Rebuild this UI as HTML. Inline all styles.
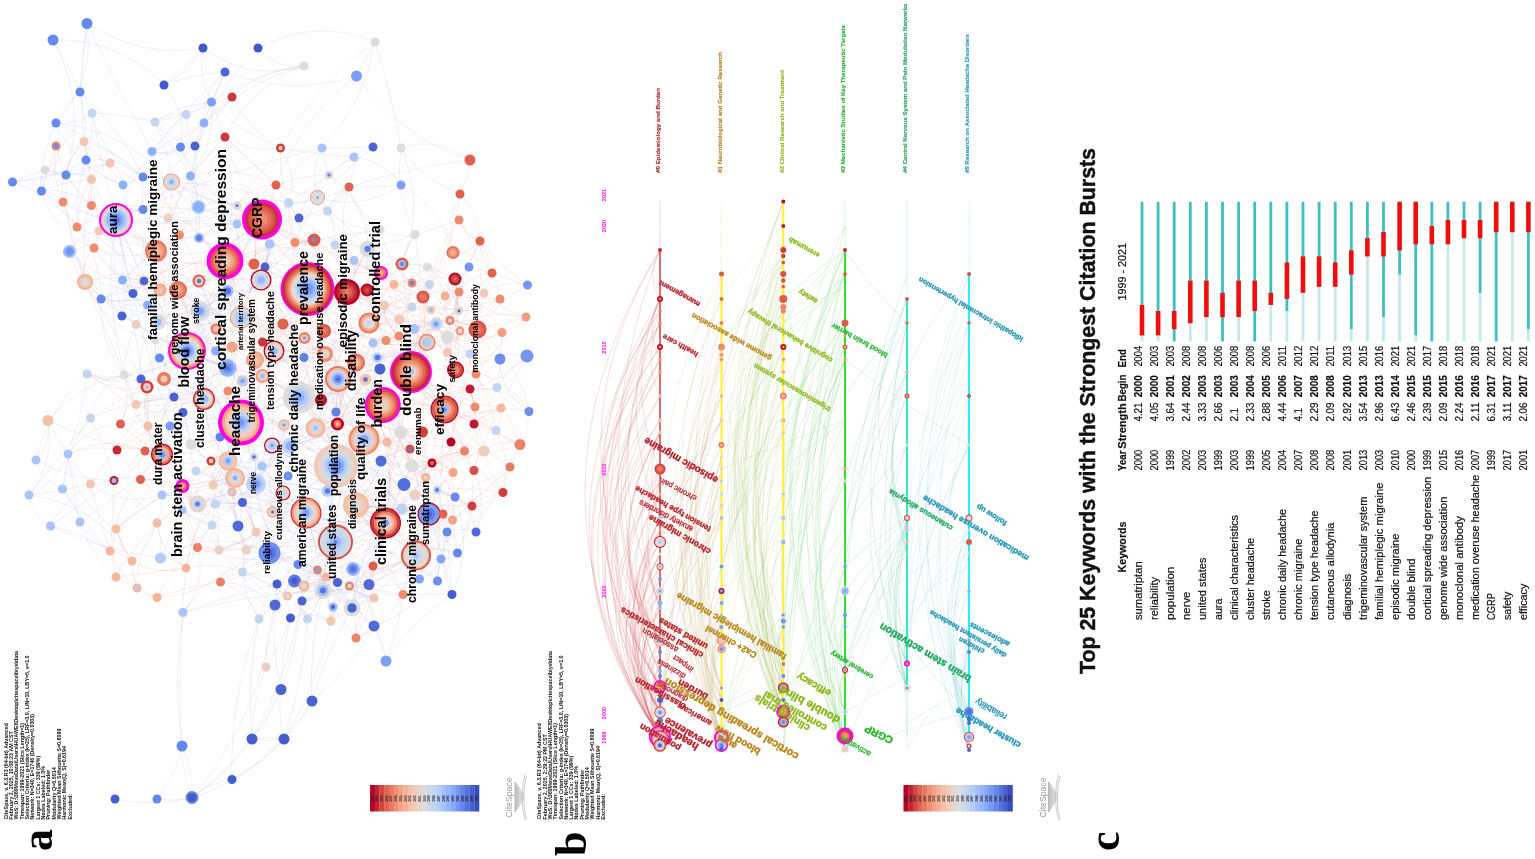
<!DOCTYPE html><html><head><meta charset="utf-8"><title>Figure</title><style>html,body{margin:0;padding:0;background:#fff}body{width:1535px;height:859px;overflow:hidden}</style></head><body><svg width="1535" height="859" viewBox="0 0 1535 859" style="display:block;font-family:'Liberation Sans',sans-serif">
<rect width="1535" height="859" fill="#fff"/>
<g fill="none" stroke-width="0.8">
<path stroke="#8f9be0" stroke-opacity="0.19" d="M87 23.5Q77.2 91.7 86 160M87 23.5Q95.3 80.7 56 123M87 23.5Q117.5 88.5 152 151.5M53 40Q87.9 104.8 66 175M53 40Q68.4 65 80 92M53 40Q118.5 37.9 164 85M203 48Q197.4 76.6 211.5 102M203 48Q140.2 58.4 87 23.5M203 48Q189.2 72.5 164 85M258 48Q276.2 69.3 304 66M258 48Q315.1 17.1 375 42M258 48Q204.7 101.7 190.5 176M225 72Q208.3 108.3 195 146M225 72Q185.3 108.9 152 151.5M225 72Q212.8 96.8 204 123M164 85Q193.6 74.1 225 72M164 85Q184.5 67.5 203 48M164 85Q187.4 112 180.5 147M80 92Q64.9 105.1 56 123M80 92Q80.7 57.5 87 23.5M80 92Q120.3 127.9 143 177M211.5 102Q196.1 102.9 186 114.5M211.5 102Q180.7 104.7 155 122M211.5 102Q253.5 73 304 66M92 113Q75.9 124.8 56 123M92 113Q93.2 137 86 160M92 113Q102 157.4 143 177M186 114.5Q155.2 139.4 143 177M186 114.5Q199.3 109.3 211.5 102M186 114.5Q168.9 111.7 155 122M155 122Q124 114.2 92 113M155 122Q174.1 148.1 190.5 176M204 123Q197 133.5 195 146M204 123Q202.1 92.4 225 72M204 123Q190.4 164.3 198.5 207M56 123Q40.5 155.2 41.5 191M56 123Q76.1 168.5 123 185M56 123Q104.1 142.5 143 177M84 141.5Q106 161 123 185M56 146Q47.5 168.1 41.5 191M180.5 147Q192.8 191.6 237 205.5M180.5 147Q158.7 158.2 143 177M195 146Q170.6 141.3 155 122M195 146Q185.8 131.6 186 114.5M195 146Q197.2 161.7 190.5 176M280.5 148Q240.4 133.4 211.5 102M152 151.5Q177.3 136 204 123M152 151.5Q174.6 157.7 195 146M152 151.5Q167.4 156.5 180.5 147M86 160Q96.5 194.8 99 231M86 160Q118.3 155.8 143 177M86 160Q88.1 125.5 80 92M110 163Q88.4 170.5 66 175M110 163Q121.3 171.2 123 185M45 170Q55.3 173.3 66 175M45 170Q28.5 175.3 12.5 182M45 170Q38 179.6 41.5 191M66 175Q55.8 171.2 45 170M66 175Q79.6 172.2 91.5 179.5M66 175Q70.4 155.8 84 141.5M190.5 176Q215.5 143.1 211.5 102M190.5 176Q200.5 212.8 237 224M143 177Q173.9 186.2 198.5 207M143 177Q172.8 198.7 179.5 235M143 177Q118.5 151 84 141.5M171.5 182Q231.7 184.1 289 203M171.5 182Q201.7 200.7 237 205.5M171.5 182Q134.8 225.1 144 281M171.5 182Q207.6 236.3 265 267M171.5 182Q227.4 202.5 270 244M171.5 182Q168.1 150.7 155 122M171.5 182Q158.2 174 143 177M171.5 182Q143.4 200.4 116 220M171.5 182Q125.2 130.1 56 123M91.5 179.5Q65.6 181.4 41.5 191M91.5 179.5Q101.2 201.3 116 220M12.5 182Q52.2 180.9 86 160M12.5 182Q51.6 194.6 77 227M12.5 182Q61.4 173.5 110 163M123 185Q96.1 170.7 66 175M123 185Q132.9 180.7 143 177M123 185Q145.2 156.1 180.5 147M41.5 191Q66.1 160.7 56 123M41.5 191Q72.1 215.5 94 248M41.5 191Q54.5 144.1 92 113M63 202Q54.1 192.9 41.5 191M91.5 205.5Q69.7 187.4 41.5 191M91.5 205.5Q77.6 191.2 66 175M198.5 207Q217.5 198.7 237 205.5M198.5 207Q190.7 188.4 171.5 182M198.5 207Q193.4 222.6 199 238M237 205.5Q224.3 229.1 199 238M143 209.5Q141.8 193.2 143 177M143 209.5Q106.4 204.5 77 227M143 209.5Q162.3 201 171.5 182M375 42Q364.3 102.9 322 148M375 42Q365.7 59 356.5 76M304 66Q249.1 81.8 203 48M304 66Q246.7 81.7 204 123M356.5 76Q290.1 96.7 225 72M322 148Q309.4 171.8 317.5 197.5M322 148Q323.9 161.9 329 175M373 147Q347.5 148.3 322 148M373 147Q347.5 155.5 329 175M373 147Q333.8 180.2 299 218M401 148Q425.8 205.8 402 264M354 157Q354.6 190.8 327.5 211M354 157Q383.8 160.4 401 185M329 175Q308.6 188.8 288.5 203M329 175Q306.6 191.3 299 218M329 175Q354.3 202.5 380 229.5M349 187Q329.2 210.8 299 218M401 185Q441.3 207.7 453 252.5M401 185Q362.2 211.2 317.5 197.5M317.5 197.5Q303.8 204.3 288.5 203M317.5 197.5Q327.5 169.8 354 157M317.5 197.5Q343.4 222.3 367.5 249M77 227Q108.4 212.3 143 209.5M77 227Q101.3 258.9 101 299M77 227Q74.7 192.6 86 160M99 231Q124 249.2 122.5 280M94 248Q113.2 271 133 293.5M94 248Q53.8 232.3 41.5 191M69.5 251.5Q91.5 271.1 101 299M69.5 251.5Q79 233.6 99 231M69.5 251.5Q72.5 269.2 85 282M168 218Q141.6 208.8 116 220M168 218Q205.6 229 237 205.5M199 238Q201.7 206 190.5 176M199 238Q214.8 222.3 237 224M156 251Q138.4 264.5 122.5 280M156 251Q150.1 230.1 143 209.5M156 251Q174.7 235.1 199 238M237 224Q218 214.8 198.5 207M237 224Q212.3 201.4 190.5 176M269.5 244Q259.1 260.6 261 280M269.5 244Q292.9 254.3 314 240M265 267Q272.3 242.7 262 219.5M265 267Q247.2 289.5 241 317.5M265 267Q244.4 276.1 227.5 291M261 280Q271.8 240.4 288.5 203M261 280Q230.5 248.7 237 205.5M261 280Q268.6 262.8 269.5 244M261 280Q266.4 274.6 265 267M261 280Q267.5 262.5 270 244M261 280Q220.1 326.9 158 322M261 280Q236 306.2 200 311M85 282Q64.1 230.5 66 175M85 282Q94.4 289.2 101 299M85 282Q132.7 281.6 158 322M122.5 280Q137.6 263.6 156 251M122.5 280Q116.6 295 101 299M122.5 280Q131.9 298.1 122 316M144 281Q121.6 287.9 101 299M144 281Q150.3 301.7 158 322M144 281Q133.4 277.5 122.5 280M199 281Q165 282 133 293.5M160 290Q153.2 283.4 144 281M160 290Q193.6 302.3 227.5 291M160 290Q132.3 306.4 101 299M133 293.5Q127.7 286.8 122.5 280M133 293.5Q135 284.2 144 281M133 293.5Q140.7 311.9 158 322M101 299Q140.7 305.1 178 290M101 299Q111.5 289.2 122.5 280M101 299Q99.3 341 124 375M227.5 291Q202.6 298 178 290M227.5 291Q248.3 282.1 265 267M227.5 291Q222.6 310.3 216 329M147.5 305Q164.2 280 156 251M147.5 305Q154.8 312.2 158 322M147.5 305Q110.4 309.4 85 282M122 316Q140.8 325.1 155 340.5M122 316Q112.9 305.7 101 299M122 316Q126.1 298.1 122.5 280M200 311Q242 285 269.5 244M200 311Q224.9 349.6 262.5 376M200 311Q213.4 300.5 227.5 291M200 311Q245.5 315.2 274 351M200 311Q237.3 308.9 261 280M200 311Q148.5 321.7 101 299M200 311Q197 335.2 215.5 351M241 317.5Q237.4 378.5 220 437M241 317.5Q238.5 268 199 238M241 317.5Q240.6 301 227.5 291M241 317.5Q221.4 308.6 200 311M241 317.5Q257.3 260.4 299 218M241 317.5Q211.5 330.3 187 351M283 324Q286 345.4 304 357.5M136 324.5Q131.1 316.7 122 316M136 324.5Q144.3 343.6 159.5 358M158 322Q158.8 298.8 144 281M158 322Q202.5 330.2 227.5 368M158 322Q148.1 363.3 174 397M158 322Q200 329.7 241 317.5M158 322Q142.1 310.7 133 293.5M158 322Q190.5 301.5 227.5 291M158 322Q157.6 331.4 155 340.5M155 340.5Q153.9 330.8 158 322M155 340.5Q151.5 322.7 147.5 305M232 347Q233.9 318.7 227.5 291M274 351Q326.5 342.5 377.5 357.5M255 360Q279.4 357.5 304 357.5M255 360Q269.8 404.1 290 446M159.5 358Q142.9 368.8 124 375M159.5 358Q159.7 348.6 155 340.5M159.5 358Q180.1 381.4 183 412.5M215.5 351Q207.7 331 200 311M215.5 351Q207.8 374.5 204 399M215.5 351Q222.8 358.6 227.5 368M227.5 368Q178.9 352.2 136 324.5M227.5 368Q220.4 322.2 199 281M227.5 368Q199.8 330.9 178 290M227.5 368Q185.6 395.9 136 404.5M227.5 368Q245.1 314.1 225 261M227.5 368Q172.1 394.1 162 454.5M227.5 368Q206.8 393.7 174 397M227.5 368Q245.3 370.5 262.5 376M227.5 368Q195 353 159.5 358M227.5 368Q223.5 334.8 200 311M87 374Q82.4 415.2 68 454M87 374Q105.3 383.3 124 375M87 374Q113.1 386.3 141 379M124 375Q159.3 373 187 351M124 375Q124.9 336.4 147.5 305M141 379Q137.8 391.6 136 404.5M141 379Q134.8 346.1 158 322M141 379Q152.5 382.6 164 379M164 379Q167.7 388.7 174 397M262.5 376Q278.1 355.2 304 357.5M262.5 376Q280.3 387.5 299 397.5M242.5 381Q217.2 361.5 187 351M242.5 381Q264.7 372.8 274 351M174 397Q175.2 406.7 183 412.5M174 397Q154.4 397.6 136 404.5M174 397Q153.6 423.1 120.5 424M204 399Q179.9 380.5 159.5 358M204 399Q188.7 403 174 397M204 399Q207.6 455.2 256 484M136 404.5Q155.8 410.8 170 426M299 397.5Q360.4 364 427 342.5M299 397.5Q303.3 331.2 261 280M299 397.5Q336.4 459.2 404 484.5M299 397.5Q267.1 373.4 227.5 368M299 397.5Q237 422.6 213 485M299 397.5Q373.3 384.2 444.5 409.5M299 397.5Q245.1 441.4 215 504M299 397.5Q327.5 371.1 365.5 379.5M299 397.5Q317.2 385.6 338 379M299 397.5Q299 437.5 288 476M299 397.5Q318.9 401.3 336 412M299 397.5Q227.3 431.8 148 426M299 397.5Q225.8 359.2 199 281M299 397.5Q222.4 401.4 147 387M299 397.5Q274.6 474.3 212 525M299 397.5Q381 386 436 324M289 203Q262.6 195.4 237 205.5M299 218Q301.2 230.9 295 242.5M299 218Q294.1 210.3 288.5 203M299 218Q267.6 213.6 237 205.5M270 244Q268.7 218.5 289 203M270 244Q240.5 260.1 227.5 291M314 240Q325.7 237.4 335 245M335 245Q336.9 217.3 317.5 197.5M335 245Q356.1 233.2 380 229.5M335 245Q351.8 242.9 367.5 249M415 234.5Q404.9 247.7 402 264M380 229.5Q386.6 261.9 412 283M380 229.5Q349.9 231 327.5 211M367.5 249Q328.9 243.2 299 218M367.5 249Q426.2 264.6 450 320.5M367.5 249Q363.6 280.8 384 305.5M367.5 249Q368.5 201.5 329 175M367.5 249Q386.8 301.9 377.5 357.5M367.5 249Q338.6 239.3 327.5 211M354 260.5Q380.8 277.4 412 283M354 260.5Q352.8 293.8 369 323M402 264Q415.1 262.3 427.5 267M427.5 267Q451.8 282.9 459 311M469 267Q458.7 282.9 445 296M469 267Q451.9 286.2 459 311M527.5 285Q484.6 307.7 470 354M429.5 284.5Q421.9 296.6 412 307M429.5 284.5Q442.5 299.7 459 311M459 292Q469.8 281.8 469 267M484 293Q503.9 278.9 527.5 285M412 307Q405.8 295 412 283M412 307Q424 298.3 429.5 284.5M459 311Q455 332.2 447.5 352.5M459 311Q435.9 304.8 412 307M369 323Q338.4 343.9 304 357.5M369 323Q385.7 285.6 367.5 249M436 324Q423.6 320.4 414 329M436 324Q443.5 324.1 450 320.5M436 324Q439.5 332.5 447.5 337M414 329Q433 337.6 447.5 352.5M414 329Q423.8 321.3 436 324M414 329Q437.3 323 460 331M447.5 337Q444.8 320.1 431 310M427 342.5Q400 346.9 373 343M427 342.5Q420.4 335.8 414 329M427 342.5Q435.1 318.8 459 311M373 343Q377.5 362.9 365.5 379.5M373 343Q400 333.1 412 307M304 357.5Q278.4 355.9 262.5 376M304 357.5Q333.5 376.8 336 412M304 357.5Q341.1 362.6 373 343M325 354Q331 408.9 290 446M325 354Q373.4 312.7 436 324M470 354Q445.7 347.3 436 324M470 354Q459.9 343.9 447.5 337M377.5 357.5Q377.2 363.6 380 369M377.5 357.5Q402 349 427 342.5M500 359Q499.9 393.3 529 411.5M527 356Q508.3 368.2 497 387.5M527 356Q512.4 381.2 501 408M356 362.5Q335.5 383 336 412M380 369Q378.4 404.7 401 432.5M380 369Q389 337.7 384 305.5M338 379Q404.4 419.4 437 490M338 379Q355.8 364.6 377.5 357.5M338 379Q285.4 347.1 227.5 368M338 379Q310.9 367 304.5 338M338 379Q324.3 422.2 336 466M338 379Q357.2 420.2 401 432.5M338 379Q355.1 451.3 402 509M338 379Q324 402.2 315.5 428M338 379Q337.4 395.5 336 412M338 379Q292.1 317.4 269.5 244M338 379Q314.2 314.7 265 267M338 379Q361.3 366.7 373 343M338 379Q324.6 307.6 367.5 249M338 379Q327.1 309.3 314 240M338 379Q320 427.1 272 445.5M365.5 379.5Q356.7 401.2 336 412M365.5 379.5Q365.4 365.1 377.5 357.5M497 387.5Q506.9 407.7 529 411.5M444.5 409.5Q361.8 404.7 290 446M444.5 409.5Q440.6 335.5 469 267M444.5 409.5Q439.1 495.2 437.5 581M444.5 409.5Q418.9 365.3 373 343M444.5 409.5Q474.5 386.7 500 359M444.5 409.5Q412.4 375.6 414 329M529 411.5Q527 441.8 510 467M336 412Q316.6 407.1 299 397.5M336 412Q345.9 396 338 379M336 412Q356.1 400.6 365.5 379.5M48 420.5Q54.9 461.9 29 495M90.5 418Q96 387.8 124 375M90.5 418Q64.9 448.9 62.5 489M120.5 424Q129.8 401.1 141 379M120.5 424Q149.4 405.7 183 412.5M148 426Q159 425.1 170 426M170 426Q187 447.6 211 461M170 426Q189.1 415.2 204 399M183 412.5Q210.3 411.7 228 391M183 412.5Q178.6 436.5 162 454.5M183 412.5Q188.8 428.1 191 444.5M191 444.5Q186.7 428.6 183 412.5M191 444.5Q220.4 443.5 241 422.5M220 437Q240 412.5 242.5 381M220 437Q209.6 419 204 399M220 437Q216.8 461 213 485M145 451Q164.9 432.6 183 412.5M162 454.5Q124.4 492.4 80 522M162 454.5Q168.9 441.1 170 426M68 454Q74.6 502.7 116 529M36 460Q48.2 409.1 87 374M36 460Q72.2 480.8 114 480.5M36 460Q51.7 443.2 48 420.5M211 461Q189.8 444.4 170 426M228 461Q245 414.4 227.5 368M228 461Q214.4 480.4 215 504M228 461Q280.9 468.8 315.5 428M228 461Q275.2 484.3 327.5 491M272 445.5Q263.7 410.3 242.5 381M272 445.5Q222.5 422.3 174 397M272 445.5Q304.3 462.7 327.5 491M272 445.5Q267.7 478.8 272.5 512M284 425Q298.1 414.9 299 397.5M284 425Q312.6 428.8 336 412M284 425Q261.9 434.4 241 422.5M290 446Q341.9 409.6 401 432.5M290 446Q256 402.9 274 351M290 446Q353.1 428.6 380 369M290 446Q261.3 470.1 242.5 502.5M290 446Q251.9 487.9 197.5 504M290 446Q317.5 445.7 336 466M290 446Q255.3 410 255 360M290 446Q326 431.7 364 439.5M290 446Q321.7 405.4 325 354M290 446Q338.2 435.7 387 442M254 457Q241.1 464.4 235 478M254 457Q270 444.8 290 446M254 457Q260.6 481.4 283 493M262 466Q266.9 455.7 272 445.5M262 466Q258.1 487.4 242.5 502.5M262 466Q243.8 471.5 228 461M196 471Q189.6 458.5 191 444.5M196 471Q225.6 477.4 242.5 502.5M114 480.5Q82.5 503.6 50.5 526M90.5 484Q60.3 492.3 29 495M90.5 484Q123.4 507.9 162 495M62.5 489Q67.9 471.9 68 454M62.5 489Q41.6 481.5 36 460M62.5 489Q82.4 522.9 110 551M29 495Q59.1 456 90.5 418M29 495Q57.6 483.2 68 454M29 495Q96 503.8 132 561M213 485Q234.8 499.8 238 526M235 478Q221 435.7 183 412.5M235 478Q296.5 461.9 336 412M235 478Q251.7 459.8 272 445.5M235 478Q200.7 495.8 162 495M235 478Q228.8 541.8 277 584M235 478Q219.4 499.5 212 525M232 492Q224.7 499.7 215 504M232 492Q244.1 475.6 262 466M232 492Q233.4 509.3 238 526M256 484Q208.6 454.6 204 399M256 484Q270.5 485.5 283 493M256 484Q252.5 495.6 242.5 502.5M256 484Q290.1 504.4 327.5 491M256 484Q255.5 431.7 242.5 381M256 484Q208 481.2 162 495M256 484Q263.9 542.6 304 586M256 484Q258.5 533.9 298 564.5M256 484Q282.9 443.4 299 397.5M288 476Q272.1 464.9 272 445.5M288 476Q291.2 461.1 290 446M288 476Q277.7 492.9 272.5 512M283 493Q260.8 489.4 242.5 502.5M162 495Q137.8 510.4 116 529M162 495Q181 494.7 197.5 504M197.5 504Q232.7 505.5 256 532M197.5 504Q206.2 507 215 504M197.5 504Q231.4 487.7 262 466M197.5 504Q222 545.4 269.5 553M197.5 504Q241.9 487.3 288 476M197.5 504Q151.5 478.5 148 426M215 504Q238.5 500.2 256 484M215 504Q228.8 504 242.5 502.5M242.5 502.5Q229.7 479.5 211 461M242.5 502.5Q250.5 516.7 256 532M242.5 502.5Q229.2 510.8 215 504M272.5 512Q270 494.6 256 484M272.5 512Q255.5 513.5 242.5 502.5M272.5 512Q270.5 489.8 288 476M182.5 510Q211.5 513.8 238 526M182.5 510Q195.2 521.6 212 525M80 522Q92.9 538.7 110 551M80 522Q75.1 503.4 62.5 489M80 522Q72.5 488.3 68 454M50.5 526Q69.8 485.9 114 480.5M50.5 526Q31.3 516.3 29 495M50.5 526Q102.9 550.9 160.5 558M212 525Q196.1 519.8 182.5 510M212 525Q224.9 527.4 238 526M238 526Q231.9 501.6 213 485M238 526Q259.6 508.3 283 493M238 526Q246.1 548.4 242.5 572M256 532Q244.2 508 256 484M219 550Q203 527.9 182.5 510M219 550Q254.2 542.9 272.5 512M246 550Q238.1 526.7 242.5 502.5M269.5 553Q322.1 516.9 385.5 523M269.5 553Q213.7 526.5 160.5 558M269.5 553Q216.3 568.4 183 612.5M269.5 553Q320.6 578.2 374 598M269.5 553Q296.4 502.7 290 446M269.5 553Q283.8 558.7 298 564.5M269.5 553Q277.4 523.3 283 493M269.5 553Q286 570.3 304 586M269.5 553Q239.5 507.5 211 461M269.5 553Q311.7 564.2 349.5 586M110 551Q82.7 532.6 50.5 526M160.5 558Q170.4 533.5 182.5 510M160.5 558Q191.9 550.3 212 525M132 561Q161.2 534.5 162 495M242.5 572Q229.1 562.8 219 550M242.5 572Q266.3 581.5 287.5 596M220.5 582Q252.2 583 275 605M137 588Q93.5 568 80 522M277 584Q302.8 589.9 326 577M277 584Q285.7 572.4 298 564.5M277 584Q274.3 604.7 290.5 618M294.5 581Q316.4 570.9 337.5 582.5M294.5 581Q296.8 572.9 298 564.5M294.5 581Q298.2 585.5 304 586M287.5 596Q266.9 580.5 242.5 572M287.5 596Q285.1 587.5 277 584M275 605Q276.8 594.6 277 584M275 605Q261.3 585.9 242.5 572M275 605Q302.7 610 323 590.5M183 612.5Q229.2 595.5 277 584M183 612.5Q180.8 563.2 212 525M298 564.5Q304.1 583.7 323 590.5M298 564.5Q286.6 551.7 269.5 553M298 564.5Q309.1 562.4 317.5 570M315.5 428Q276.4 446 256 484M315.5 428Q311 457.3 288 476M315.5 428Q323.3 401.9 338 379M315.5 428Q358.4 460.5 412 466M364 439.5Q382.3 392.5 373 343M364 439.5Q355.6 382.7 304 357.5M364 439.5Q386.8 459.5 404 484.5M364 439.5Q331.9 455.5 327.5 491M364 439.5Q303.7 422.5 241 422.5M364 439.5Q400.4 382 436 324M364 439.5Q368.1 398.1 377.5 357.5M364 439.5Q323.9 506 337.5 582.5M364 439.5Q346.3 411.3 338 379M364 439.5Q413.5 446 437 490M410 449Q405 466.4 404 484.5M410 449Q393.3 449.7 381 461M381 461Q370.5 451.8 364 439.5M381 461Q371.4 492.9 385.5 523M381 461Q406.1 472.4 432 463M412 466Q405.3 474.1 404 484.5M510 467Q482.2 481.4 455 497M336 466Q399.2 467.3 455 497M336 466Q332.9 443.1 315.5 428M336 466Q285.2 501.8 246 550M336 466Q335.6 530.2 304 586M336 466Q299 468.3 262 466M336 466Q331.1 416 365.5 379.5M336 466Q379.2 470.5 415 495M336 466Q320.8 430 299 397.5M336 466Q324.6 503.9 335.5 542M336 466Q299.5 469.7 272 445.5M336 466Q279.3 464.4 241 422.5M336 466Q327 528 323 590.5M336 466Q406.5 495.8 457.5 553M336 466Q270.5 429.5 227.5 368M336 466Q313.9 440.6 284 425M336 466Q321.3 534.1 302 601M336 466Q306.9 492.7 272.5 512M404 484.5Q407 474.8 412 466M404 484.5Q417.9 506.6 443 514M404 484.5Q400.6 461.2 387 442M437 490Q445.3 495.3 455 497M415 495Q390.6 485.4 381 461M455 497Q442.6 506.5 429 514M455 497Q474.9 508.9 476 532M503 492.5Q483.4 508.1 476 532M327.5 491Q311.6 497 306 513M327.5 491Q366.2 493 404 484.5M327.5 491Q356.4 479.8 381 461M356 505Q378.8 509.3 402 509M356 505Q294.8 538.3 275 605M356 505Q328.3 475.8 288 476M356 505Q374.4 486.4 381 461M356 505Q404.7 507.7 447 532M356 505Q392.7 507.6 429 514M356 505Q379.7 548.9 419.5 579M356 505Q404.3 485.6 455 497M356 505Q408.8 544.6 452 594.5M356 505Q322.3 434 304 357.5M356 505Q384.5 505.3 404 484.5M356 505Q324.2 541.9 323 590.5M402 509Q382.4 489 381 461M402 509Q412 505.3 415 495M306 513Q295.2 556.6 302 601M306 513Q356.1 505.2 381 461M306 513Q318.1 551 323 590.5M306 513Q261.3 499.9 215 504M306 513Q238.7 553 160.5 558M306 513Q289.3 510.4 272.5 512M306 513Q336.5 535.1 353 569M306 513Q367.3 534.4 429 514M306 513Q296.8 541.3 269.5 553M306 513Q321.2 580.8 374 626M306 513Q354.9 533.7 402 509M306 513Q254.2 478.4 197.5 504M306 513Q379.7 540.8 457.5 553M306 513Q275.1 562.7 259 619M306 513Q332.5 465.9 336 412M306 513Q374.2 542.2 437.5 581M306 513Q310.9 565.9 275 605M306 513Q281.6 491.7 262 466M429 514Q380.6 522.4 335.5 542M429 514Q424.8 496 425.5 477.5M429 514Q442.7 553.6 452 594.5M429 514Q384.1 532 353 569M429 514Q427.3 536.3 416 555.5M385.5 523Q343.4 547.2 298 564.5M385.5 523Q377.8 565.9 337.5 582.5M385.5 523Q392.8 502.8 404 484.5M385.5 523Q328.4 478.2 256 484M385.5 523Q383.6 571.3 352 608M385.5 523Q397.9 445.5 380 369M447 532Q429.1 554 437.5 581M447 532Q437.8 507.7 415 495M447 532Q449.1 563.3 452 594.5M476 532Q461.5 526.8 447 532M476 532Q468 500.3 437 490M476 532Q488.4 500.8 474 470.5M335.5 542Q295.6 544.5 272.5 512M335.5 542Q376.6 520.9 415 495M335.5 542Q281.9 515.3 235 478M335.5 542Q360.1 508 402 509M335.5 542Q393.6 542.9 437.5 581M335.5 542Q254.7 496.4 162 495M335.5 542Q389.2 499.8 401 432.5M335.5 542Q282.3 500.8 228 461M335.5 542Q360.7 556.6 369 584.5M335.5 542Q282.3 537.9 242.5 502.5M335.5 542Q268.6 500.9 196 471M457.5 553Q450.4 559 441 559M457.5 553Q455.4 536.4 452.5 520M457.5 553Q470.6 545.8 476 532M441 559Q454.4 529.4 455 497M441 559Q438.3 569.8 437.5 581M441 559Q448.1 552.7 457.5 553M416 555.5Q375.9 590 323 590.5M416 555.5Q426 582.4 452 594.5M416 555.5Q384.1 503.5 336 466M416 555.5Q424.3 570.4 437.5 581M416 555.5Q424.5 535.4 429 514M416 555.5Q378.1 572.8 337.5 582.5M416 555.5Q361.3 584.1 302 601M416 555.5Q436.1 543.2 457.5 553M353 569Q360.9 588.7 352 608M353 569Q325.6 565.7 298 564.5M353 569Q329.6 580.6 304 586M317.5 570Q297.9 578.8 277 584M317.5 570Q319.6 580.4 323 590.5M326 577Q310.2 574.9 298 564.5M337.5 582.5Q344 582.5 349.5 586M337.5 582.5Q351.8 566.9 373 566M337.5 582.5Q325.4 579.7 317.5 570M349.5 586Q327.9 600.4 302 601M369 584.5Q394.9 588 419.5 579M369 584.5Q373 552.6 385.5 523M369 584.5Q383.4 598.2 403 594.5M419.5 579Q426.1 551.3 447 532M437.5 581Q448.9 568 457.5 553M437.5 581Q440.5 549.4 452.5 520M437.5 581Q412.1 612.5 374 626M452 594.5Q473.8 546.4 455 497M452 594.5Q436.3 564.3 447 532M452 594.5Q427.5 594.1 403 594.5M403 594.5Q408.5 551.6 447 532M374 598Q373 590.7 369 584.5M374 598Q349.7 586.4 323 590.5M304 586Q313.8 586.8 323 590.5M323 590.5Q348.9 591.4 374 598M323 590.5Q308.4 579.5 298 564.5M323 590.5Q324.2 579.2 317.5 570M323 590.5Q327.3 528 336 466M323 590.5Q251.8 593.7 183 612.5M323 590.5Q311.7 594.2 302 601M323 590.5Q301.2 597.6 290.5 618M323 590.5Q295.5 586 275 605M323 590.5Q332.5 604.3 331 621M323 590.5Q285.1 531.9 262 466M302 601Q314.7 613.6 331 621M302 601Q321.8 595.7 337.5 582.5M302 601Q300.9 593.2 304 586M333 607Q347 589.3 369 584.5M333 607Q351.6 593.7 374 598M333 607Q340.9 595.8 337.5 582.5M352 608Q360.9 539 404 484.5M352 608Q330.6 592.8 317.5 570M352 608Q397.4 558.5 452.5 520M352 608Q358.7 537.7 415 495M352 608Q361.9 600.7 374 598M352 608Q388.1 586.7 416 555.5M352 608Q371.6 533.1 425.5 477.5M352 608Q309 560.7 246 550M352 608Q340.2 591.5 326 577M352 608Q379.1 569.6 385.5 523M259 619Q237.5 587.3 246 550M259 619Q286.5 597.5 298 564.5M290.5 618Q314.1 612.9 323 590.5M290.5 618Q284.1 609.9 275 605M290.5 618Q254.6 607.4 242.5 572M307.5 619Q296.1 598.2 277 584M331 621Q311.5 609.3 290.5 618M374 626Q350.2 601.3 326 577M374 626Q369.1 595.4 353 569M374 626Q336.5 607.3 317.5 570M116 220Q205.6 282.7 262.5 376M116 220Q109.8 268.6 122 316M116 220Q74.5 216.4 41.5 191M116 220Q178.4 275.9 215.5 351M116 220Q123.9 256.9 133 293.5M116 220Q135.3 322.5 148 426M116 220Q99.3 315.1 136 404.5M116 220Q138.8 259.9 147.5 305M116 220Q214.9 172.3 322 148M116 220Q197.7 299.1 304.5 338M116 220Q127.6 182.4 152 151.5M116 220Q178.8 232 237 205.5M116 220Q176.4 225 237 224M116 220Q98.6 244.4 69.5 251.5M116 220Q158.5 221.2 198.5 207M116 220Q137.1 324.5 170 426M116 220Q101.7 167 92 113M116 220Q149.4 209.3 171.5 182M225 261Q244 179.3 211.5 102M225 261Q216.4 244.6 199 238M225 261Q184.9 309.8 122 316M225 261Q171.3 255.6 133 293.5M225 261Q174 215.9 152 151.5M225 261Q176.7 315.5 141 379M225 261Q177.6 291.1 122.5 280M307.5 289Q337.8 269.5 367.5 249M307.5 289Q267.1 328.2 215.5 351M307.5 289Q296.7 259.6 269.5 244M307.5 289Q234.6 247.4 190.5 176M307.5 289Q267.6 292.5 227.5 291M307.5 289Q338.3 318.3 373 343M307.5 289Q362.8 280.2 412 307M307.5 289Q284.1 282.2 265 267M307.5 289Q248.7 275.4 200 311M307.5 289Q338.1 286.8 354 260.5M187 351Q151.1 418.9 162 495M187 351Q237.9 281.1 314 240M187 351Q207.8 358.3 227.5 368M187 351Q111.7 320.7 69.5 251.5M187 351Q212.7 422.1 256 484M187 351Q218.9 310.2 261 280M187 351Q147 288 116 220M187 351Q221.2 410.7 262 466M187 351Q229.8 397.7 228 461M187 351Q200.2 416.8 254 457M187 351Q229 421.5 242.5 502.5M187 351Q142.2 385.2 87 374M187 351Q248.1 321.7 307.5 289M241 422.5Q259 462.2 242.5 502.5M241 422.5Q190.2 379.9 124 375M241 422.5Q303.2 376.9 380 369M241 422.5Q248.3 391.8 227.5 368M241 422.5Q310.9 393.5 377.5 357.5M241 422.5Q209.7 369.2 155 340.5M241 422.5Q240.2 393.9 262.5 376M241 422.5Q260.3 370.9 304.5 338M241 422.5Q258.4 450.8 256 484M241 422.5Q208.9 371 200 311M382.8 405Q425.6 445.7 455 497M183 613Q171.9 679.4 182 746M183 613Q177.2 679.5 182 746M182 746Q193.2 770.5 192 797.5M182 746Q181.8 772.8 192 797.5M115 799Q153.7 807.5 192 797.5M157 799Q174.7 801.8 192 797.5M157 799Q175.9 775.5 182 746M192 797.5Q209.3 782.5 232 779.5M192 797.5Q249.5 754.2 281 689.5M192 797.5Q227.8 774.2 252 739M192 797.5Q246.2 781.1 284 739M232 779.5Q281.4 749.9 312 701M232 779.5Q262.1 764.5 284 739M252 739Q268 741.6 284 739M252 739Q268 736.4 284 739M252 739Q271.4 717.1 281 689.5M252 739Q251.8 701.6 266 667M266 667Q265.5 635.3 275 605M284 739Q301.8 722.8 312 701M284 739Q277.6 714.5 281 689.5M281 689.5Q281.5 653.2 290.5 618M281 689.5Q271.2 647.7 275 605M312 701Q350.5 669.7 374 626M312 701Q308.7 644.9 323 590.5M312 701Q326.4 652.1 352 608M386 661Q383.5 642.3 374 626M386 661Q398.5 628.8 403 594.5M386 661Q412.4 621.1 452 594.5M252 739Q245.9 678.4 259 619M232 779.5Q229.4 696.5 259 619M284 739Q302.9 680.4 307.5 619M252 739Q288 674 302 601M284 739Q321.7 677.9 333 607M192 797.5Q262.4 713.7 275 605M281 689.5Q296.8 646.5 302 601M266 667Q280.7 643.7 290.5 618M356 638Q366.2 633.8 374 626M356 638Q357 622.6 352 608M386 661Q372.9 623.8 369 584.5"/>
<path stroke="#e08f80" stroke-opacity="0.2" d="M232 97Q199.7 135.5 152 151.5M232 97Q262.4 68.6 304 66M232 97Q248.3 130.1 280.5 148M155 122Q194.6 112.9 232 97M225 137Q207.4 170.4 198.5 207M225 137Q250.7 160.8 276 185M225 137Q204.3 149 180.5 147M84 141.5Q92 158.3 110 163M84 141.5Q64.6 155.8 45 170M56 146Q49.1 191 77 227M56 146Q63.1 182.1 91.5 205.5M180.5 147Q202.9 118.6 232 97M280.5 148Q250.6 153.5 225 137M280.5 148Q257.6 175.9 237 205.5M110 163Q96.3 166.2 91.5 179.5M190.5 176Q197.5 207.8 179.5 235M171.5 182Q224.4 159.6 276 185M91.5 179.5Q76.6 200.9 77 227M276 185Q301.6 175.2 329 175M276 185Q250 161.5 225 137M276 185Q250.9 184.7 237 205.5M63 202Q59.4 166.9 84 141.5M63 202Q87.9 215.8 116 220M91.5 205.5Q92.6 172.9 84 141.5M288.5 203Q281.3 194.7 276 185M288.5 203Q298.3 173.5 280.5 148M288.5 203Q320.8 202.6 349 187M237 205.5Q265 225.6 295 242.5M237 205.5Q261.2 230.2 254 264M375 42Q315.6 84.2 280.5 148M304 66Q251.2 86.7 225 137M356.5 76Q300 118.5 276 185M356.5 76Q399.4 136.7 470 160M322 148Q280.9 174.5 262 219.5M401 148Q394.2 193.5 415 234.5M401 148Q391.6 94.1 375 42M354 157Q317 154.5 280.5 148M470 160Q468.3 178 460 194M470 160Q438.7 135.7 401 148M470 160Q408.1 167.1 349 187M349 187Q354.4 215.6 380 229.5M349 187Q335.3 224.8 354 260.5M401 185Q375.1 187.7 349 187M460 194Q423.1 180.5 401 148M460 194Q454.7 242.6 429.5 284.5M460 194Q479.9 213.3 480 241M327.5 211Q333.7 194.9 349 187M327.5 211Q304.2 193.2 276 185M327.5 211Q296.1 225.4 262 219.5M99 231Q126.9 242.7 156 251M99 231Q97.1 239.7 94 248M94 248Q110 278.1 144 281M168 218Q173.3 200.3 171.5 182M199 238Q225.9 213.1 262 219.5M179.5 235Q195.2 255.5 199 281M179.5 235Q200.3 204.7 237 205.5M179.5 235Q171.4 248.4 156 251M156 251Q157.5 215.1 171.5 182M156 251Q147.6 308.4 187 351M156 251Q174.3 314.1 164 379M156 251Q124.4 262.4 94 248M156 251Q176.7 185.7 225 137M156 251Q191.4 222.1 237 224M156 251Q163.7 237.1 179.5 235M237 224Q250.1 198.1 276 185M269.5 244Q251.7 264 225 261M295 242.5Q304.5 241.4 314 240M295 242.5Q327.1 243.1 354 260.5M295 242.5Q290.6 222.9 288.5 203M254 264Q260.9 230.3 237 205.5M254 264Q281.4 245.5 314 240M254 264Q222.4 259.8 199 238M261 280Q320.6 269.2 381 273M261 280Q271.9 302.1 283 324M261 280Q298.2 244.8 317.5 197.5M85 282Q104.7 329.5 155 340.5M85 282Q81.5 230.3 91.5 179.5M85 282Q105.8 327.9 124 375M85 282Q115.9 334.6 147 387M85 282Q132.8 270.4 178 290M85 282Q74.2 241.9 63 202M85 282Q80.1 262.5 94 248M199 281Q223.2 261.7 254 264M199 281Q215.4 304.5 241 317.5M178 290Q158.7 244.7 116 220M178 290Q199.6 343 242.5 381M178 290Q133.5 262.2 85 282M178 290Q143.2 254.2 99 231M178 290Q115.2 294.8 69.5 251.5M178 290Q156.2 229.9 190.5 176M178 290Q221.5 327.6 274 351M178 290Q190.8 290.9 199 281M178 290Q221.3 319.7 255 360M178 290Q221.7 313.7 262.5 342M200 311Q177.5 305.2 160 290M200 311Q207.8 320.1 216 329M200 311Q241.8 315.9 283 324M241 317.5Q277.6 312.6 304.5 338M241 317.5Q241.2 366.7 204 399M241 317.5Q285.9 329.1 325 354M241 317.5Q196.7 324 155 340.5M283 324Q265.4 305.3 261 280M283 324Q257.7 335.9 232 347M136 324.5Q108.2 306 85 282M158 322Q214 306.2 254 264M158 322Q173 286.1 156 251M158 322Q140.9 254.6 77 227M216 329Q221.4 340.3 232 347M216 329Q218.9 360.3 242.5 381M216 329Q247.7 332.9 274 351M155 340.5Q157.1 364.8 147 387M232 347Q229.9 366.3 242.5 381M232 347Q222.3 323.4 200 311M262.5 342Q294.8 360.5 299 397.5M262.5 342Q284 345.5 304.5 338M262.5 342Q272.3 332.4 283 324M274 351Q282.8 296.4 295 242.5M274 351Q254.6 337.1 241 317.5M274 351Q307.9 300.5 314 240M274 351Q307.3 328.9 307.5 289M274 351Q302.6 311.7 347 292M274 351Q280.9 338.3 283 324M274 351Q313.9 380.4 337.5 424M274 351Q214.8 342.2 155 340.5M274 351Q299.7 349.5 325 354M255 360Q230.7 313.3 225 261M255 360Q316.9 356.7 369 323M255 360Q243 354.4 232 347M255 360Q276 379.9 299 397.5M255 360Q212.2 382.5 164 379M255 360Q313.7 350 365.5 379.5M255 360Q244.8 312.1 254 264M255 360Q252.6 392.3 241 422.5M124 375Q131.8 400.2 120.5 424M164 379Q169.5 357.4 155 340.5M164 379Q183.7 389.6 204 399M147 387Q113.9 394.9 87 374M147 387Q135.7 380.7 124 375M147 387Q117.3 399.9 90.5 418M262.5 376Q281.2 353.3 283 324M242.5 381Q228.5 355.4 216 329M228 391Q241.3 370 232 347M228 391Q252.1 414.4 284 425M228 391Q234.2 384.4 242.5 381M204 399Q208.5 448.4 232 492M204 399Q183.3 435 145 451M204 399Q221.6 366 216 329M204 399Q144.8 394 90.5 418M204 399Q243.9 412.2 284 425M204 399Q170.6 408.9 136 404.5M204 399Q151.4 408.9 117 450M136 404.5Q118.1 378.6 87 374M136 404.5Q168.8 386.9 204 399M299 397.5Q279.6 353.6 232 347M299 397.5Q313.4 340.4 347 292M299 397.5Q311.8 420.1 337.5 424M299 397.5Q357.2 394.6 411 372M299 397.5Q283.4 320.3 295 242.5M299 397.5Q353.1 455.4 432 463M289 203Q286.1 223.7 295 242.5M289 203Q278.9 176.4 280.5 148M270 244Q248.3 254.7 225 261M314 240Q282.7 243.3 262 219.5M314 240Q278.1 247.5 261 280M459 220Q464.5 235.5 480 241M459 220Q481.5 242.8 492 273M459 220Q436.2 248.6 429.5 284.5M415 234.5Q396.4 239.7 380 229.5M415 234.5Q398.7 254.4 381 273M380 229.5Q347 234.9 314 240M480 241Q472.9 253.3 469 267M480 241Q495.6 268.1 500 299M480 241Q471.3 262.5 455 279M367.5 249Q344.3 308 283 324M367.5 249Q414.1 237.2 459 220M367.5 249Q371.3 269.5 367 290M367.5 249Q359.9 301 399 336M453 252.5Q469.6 254.1 480 241M453 252.5Q426.2 266.8 423 297M453 252.5Q445.8 222 460 194M354 260.5Q348.4 275.8 347 292M402 264Q387.9 281.6 367 290M402 264Q430.6 264.2 455 279M427.5 267Q413.2 280.5 394 284.5M427.5 267Q440.4 279 445 296M469 267Q480.5 270.1 492 273M492 273Q478.1 252 453 252.5M492 273Q478.9 259.7 480 241M492 273Q471.7 297.3 450 320.5M455 279Q465.2 294 459 311M455 279Q450.7 303.7 436 324M455 279Q461.3 300.8 450 320.5M527.5 285Q500.6 266.4 480 241M527.5 285Q509.4 280 492 273M394 284.5Q411.8 287.2 429.5 284.5M394 284.5Q388.9 277.2 381 273M394 284.5Q390.8 295.8 384 305.5M412 283Q420.3 287.8 423 297M412 283Q432.8 273.9 455 279M412 283Q410.8 303 399.5 319.5M429.5 284.5Q427.1 291.2 423 297M347 292Q338.6 269.1 335 245M347 292Q385 302.4 414 329M347 292Q367 294.8 384 305.5M347 292Q422.2 323.4 500 299M347 292Q403.2 312.3 447.5 352.5M347 292Q337.4 351.6 336 412M347 292Q306.2 333.1 255 360M347 292Q355.2 269.5 367.5 249M347 292Q392.7 327.3 450 320.5M347 292Q345 256.8 314 240M347 292Q311.2 251.9 289 203M347 292Q416.9 306.3 470 354M347 292Q353.4 370.6 387 442M347 292Q380.3 305.4 399 336M347 292Q289.8 339.8 216 329M347 292Q395.4 334.9 460 331M347 292Q374.4 303.5 399.5 319.5M347 292Q282 321.5 242.5 381M347 292Q360.2 259 380 229.5M347 292Q377.6 365.8 444.5 409.5M347 292Q282.2 323.7 215.5 351M347 292Q301.7 302.3 261 280M367 290Q356.8 289.4 347 292M367 290Q377.9 284.7 381 273M367 290Q353.7 278.2 354 260.5M423 297Q440 287.4 459 292M423 297Q430.5 319.3 427 342.5M423 297Q429.2 310.7 436 324M445 296Q449.9 287.4 455 279M445 296Q435.6 300.6 431 310M445 296Q443.3 317.4 460 331M459 292Q445.7 282.7 429.5 284.5M459 292Q470.6 274.1 492 273M484 293Q490.4 284 492 273M484 293Q502.5 309.4 526 317M500 299Q486.8 312.8 477.5 329.5M500 299Q481.5 312 459 311M500 299Q472.5 298.3 445 296M384 305.5Q384 324.4 399 336M384 305.5Q372.5 301 367 290M384 305.5Q402.8 298.2 423 297M412 307Q403.8 295.1 394 284.5M431 310Q426.2 304 423 297M431 310Q415.5 315.5 399.5 319.5M431 310Q440.7 305.7 445 296M459 311Q458.5 294.8 455 279M526 317Q488.6 332.4 450 320.5M526 317Q479.9 317.7 455 279M526 317Q481.3 305.6 447.5 337M369 323Q354.5 349.2 325 354M369 323Q396.2 299 429.5 284.5M369 323Q335.2 285.6 314 240M369 323Q332 353.4 321 400M369 323Q392.2 278.9 415 234.5M369 323Q344.4 370.7 337.5 424M369 323Q428.1 347.6 444.5 409.5M369 323Q387.2 306.1 412 307M399.5 319.5Q419 324.1 427 342.5M399.5 319.5Q390.4 296.2 381 273M399.5 319.5Q404.9 312.4 412 307M450 320.5Q464.8 321.7 477.5 329.5M450 320.5Q442.3 311.9 431 310M450 320.5Q459.4 300.6 455 279M477.5 329.5Q518.9 360.7 529 411.5M477.5 329.5Q492.3 270.7 459 220M477.5 329.5Q431 356.1 377.5 357.5M477.5 329.5Q467.2 307 445 296M477.5 329.5Q462 330.5 450 320.5M477.5 329.5Q464.1 385.7 451 442M477.5 329.5Q473.6 363.1 497 387.5M477.5 329.5Q433.5 349.9 386 340.5M477.5 329.5Q427 350.1 373 343M477.5 329.5Q454.3 319.6 431 310M460 331Q452.9 311.7 459 292M460 331Q459.9 350.7 455.5 370M460 331Q455.8 325 450 320.5M502 332.5Q476.5 329.7 459 311M502 332.5Q477.9 318.2 450 320.5M502 332.5Q475.7 346.5 447.5 337M324 331Q360.7 333.9 384 305.5M324 331Q325.1 342.5 325 354M324 331Q346 311 367 290M304.5 338Q312.6 348.7 325 354M304.5 338Q281.3 352.6 255 360M304.5 338Q322.5 312 347 292M447.5 337Q449.1 344.8 447.5 352.5M447.5 337Q442.9 355.6 455.5 370M427 342.5Q431 397.7 410 449M427 342.5Q408.9 304.5 381 273M427 342.5Q375 341.5 324 331M427 342.5Q417.2 290.9 453 252.5M427 342.5Q408.3 385.9 401 432.5M427 342.5Q435.9 334.5 447.5 337M427 342.5Q414.1 330 399.5 319.5M399 336Q404.3 354.2 411 372M399 336Q386.3 340.8 373 343M399 336Q416.2 325.9 436 324M386 340.5Q394.2 330.9 399.5 319.5M386 340.5Q399.8 334.4 414 329M386 340.5Q392.1 318.4 412 307M373 343Q386.5 341.5 399 336M325 354Q277.3 318.6 254 264M325 354Q303.5 388.9 315.5 428M325 354Q369.3 332 412 307M325 354Q355.8 315.6 394 284.5M325 354Q357.2 325.8 399.5 319.5M325 354Q279.6 336 232 347M325 354Q380 381.1 387 442M325 354Q284 333.4 241 317.5M447.5 352.5Q443.4 336.1 450 320.5M447.5 352.5Q455.1 342.5 460 331M447.5 352.5Q439.4 331.2 431 310M470 354Q469.3 331.7 450 320.5M377.5 357.5Q355.9 333.9 324 331M500 359Q484.8 347.3 477.5 329.5M500 359Q476.9 360.9 455.5 370M527 356Q502.8 380 470 389M356 362.5Q309 363.1 283 324M356 362.5Q373.3 315.2 412 283M356 362.5Q396.8 327.6 450 320.5M356 362.5Q401.3 354.2 436 324M356 362.5Q388.5 351.8 399.5 319.5M356 362.5Q338.3 390.7 337.5 424M356 362.5Q307.3 361.3 262.5 342M356 362.5Q339.7 361.2 325 354M356 362.5Q321 332.8 307.5 289M380 369Q344.3 372.7 321 400M455.5 370Q415.6 358 399.5 319.5M455.5 370Q414.6 399 410 449M455.5 370Q436.6 350.9 436 324M455.5 370Q449.4 323.9 484 293M455.5 370Q470.5 341 502 332.5M455.5 370Q423.5 325.7 369 323M455.5 370Q448.4 345.7 450 320.5M455.5 370Q488.4 348.7 527 356M455.5 370Q503.2 371.4 529 411.5M455.5 370Q444.3 415.2 401 432.5M476 374Q468.1 365.5 470 354M476 374Q466 371 455.5 370M476 374Q490.3 400.7 496 430.5M338 379Q344.7 456.6 385.5 523M338 379Q398.2 357.7 450 320.5M338 379Q272.9 401.5 204 399M338 379Q302.5 315.2 295 242.5M338 379Q408.3 384 475 407M338 379Q379.2 336.6 423 297M338 379Q367 380.7 382.8 405M365.5 379.5Q341 373.5 325 354M470 389Q472.6 398 475 407M470 389Q472.9 381.5 476 374M470 389Q451.7 412.3 451 442M497 387.5Q508 416.2 520 444.5M497 387.5Q501.9 360.2 502 332.5M321 400Q296.4 403.4 284 425M321 400Q332.9 376 356 362.5M321 400Q304.5 381.9 304 357.5M444.5 409.5Q378.6 395 325 354M444.5 409.5Q385.7 351.7 304.5 338M444.5 409.5Q427.2 429.2 410 449M444.5 409.5Q455.9 464.2 452.5 520M444.5 409.5Q483.4 361.7 526 317M444.5 409.5Q473 416.8 501 408M444.5 409.5Q465.3 345.5 455 279M444.5 409.5Q472.5 443.6 510 467M444.5 409.5Q409.4 380 386 340.5M444.5 409.5Q472.3 415 496 430.5M444.5 409.5Q476.9 452.4 472 506M444.5 409.5Q409.3 369 356 362.5M444.5 409.5Q433.4 435.1 432 463M444.5 409.5Q462.5 458.9 503 492.5M444.5 409.5Q400.4 354.6 394 284.5M444.5 409.5Q459.7 415.7 474 424M475 407Q452 426.3 422.5 432M475 407Q470.5 385.7 455.5 370M475 407Q481.5 390.7 476 374M501 408Q485.5 412.6 474 424M501 408Q483.9 437.7 474 470.5M501 408Q485.6 393.1 476 374M529 411.5Q505.2 385.2 470 389M529 411.5Q498 402.5 474 424M48 420.5Q78.3 384.8 124 375M48 420.5Q94.1 443.2 145 451M90.5 418Q105.8 447.9 114 480.5M120.5 424Q139.5 441.7 162 454.5M148 426Q132 451 140.5 479.5M148 426Q149.1 406.5 147 387M170 426Q156.6 453.5 140.5 479.5M191 444.5Q212.9 458.8 213 485M117 450Q128 465.3 140.5 479.5M117 450Q131.2 445.2 145 451M117 450Q91.9 444.3 68 454M145 451Q136.1 472.7 114 480.5M145 451Q148.7 419.1 147 387M162 454.5Q209.5 458.3 241 422.5M162 454.5Q151.1 499.2 116 529M162 454.5Q185.3 498.9 197.5 547.5M162 454.5Q136.3 403.2 87 374M162 454.5Q210.5 490.3 219 550M162 454.5Q175.1 493.6 215 504M162 454.5Q136.6 417.8 124 375M162 454.5Q137.7 424.5 147 387M68 454Q86.9 426.1 120.5 424M68 454Q105.8 434.2 145 451M211 461Q201.4 478.9 182.5 486M211 461Q188.1 446 162 454.5M228 461Q216.3 470.4 213 485M228 461Q172.8 440 147 387M228 461Q197.5 510.8 186 568M228 461Q245.4 495.1 256 532M228 461Q181.6 457.5 140.5 479.5M228 461Q201.3 466.4 182.5 486M272 445.5Q250.6 403.9 204 399M272 445.5Q215.5 431.2 162 454.5M272 445.5Q238.9 443 211 461M272 445.5Q292.9 418.9 321 400M272 445.5Q276.2 392.9 262.5 342M272 445.5Q314.5 474.5 356 505M196 471Q167.9 467.7 145 451M114 480.5Q113.3 515.8 110 551M114 480.5Q127.1 474.7 140.5 479.5M140.5 479.5Q173.7 480.9 197.5 504M140.5 479.5Q162.2 478.5 182.5 486M140.5 479.5Q149.5 489.6 162 495M90.5 484Q64.8 455.2 48 420.5M213 485Q214.1 472.8 211 461M213 485Q216.1 505.1 212 525M235 478Q251.8 427.8 262.5 376M235 478Q221.4 435.3 228 391M235 478Q208.7 481.9 182.5 486M235 478Q245.3 505.1 256 532M256 484Q265.3 424 321 400M283 493Q295.4 502 306 513M283 493Q277.2 529.8 246 550M162 495Q173.7 493.8 182.5 486M197.5 504Q175 477.9 140.5 479.5M197.5 504Q193.5 479.1 211 461M197.5 504Q173.3 475.5 145 451M197.5 504Q185.4 498.9 182.5 486M215 504Q242 508.4 256 532M182.5 510Q181.1 532.3 197.5 547.5M157 523Q162.4 540.1 160.5 558M157 523Q137.9 499.3 114 480.5M157 523Q160 552.9 186 568M116 529Q146.1 502.6 182.5 486M116 529Q122.7 545.7 132 561M116 529Q128.5 557.8 137 588M212 525Q202.9 535.1 197.5 547.5M256 532Q279.9 519.7 283 493M256 532Q248.6 509.3 232 492M197.5 547.5Q221.6 551.5 246 550M197.5 547.5Q208.5 546.4 219 550M197.5 547.5Q188.5 529.4 182.5 510M219 550Q239.4 544.8 256 532M246 550Q233.2 522.4 232 492M246 550Q247.5 539.1 256 532M110 551Q98.9 517.9 90.5 484M110 551Q122.6 552.4 132 561M160.5 558Q175.6 557.1 186 568M132 561Q133.3 574.7 137 588M132 561Q157.4 576.5 186 568M186 568Q151 572.3 116 577M186 568Q214.9 560.6 242.5 572M186 568Q190.2 531.3 215 504M242.5 572Q250.7 552.5 256 532M116 577Q103.4 522 140.5 479.5M116 577Q129.4 553 116 529M116 577Q132.7 547.1 157 523M220.5 582Q238.4 570.1 246 550M220.5 582Q187.9 586.3 157 597.5M137 588Q136.2 552.2 157 523M137 588Q145 596.9 157 597.5M157 597.5Q212.8 595 246 550M157 597.5Q171.1 567.5 197.5 547.5M157 597.5Q123 584.9 110 551M287.5 596Q304.2 617.3 331 621M183 612.5Q207.2 583.8 197.5 547.5M474 424Q458.3 449.2 432 463M474 424Q474.6 415.5 475 407M474 424Q484.1 430.2 496 430.5M496 430.5Q511.8 460.1 503 492.5M496 430.5Q501.7 420 501 408M496 430.5Q504.6 443.4 520 444.5M337.5 424Q350.8 401.3 365.5 379.5M337.5 424Q342.3 391.9 356 362.5M337.5 424Q351.7 430.1 364 439.5M315.5 428Q334.6 394.5 356 362.5M315.5 428Q312.5 379.9 274 351M315.5 428Q321.4 474 356 505M315.5 428Q343.7 400.6 382.8 405M315.5 428Q366.9 406.3 411 372M315.5 428Q327.1 429.4 337.5 424M401 432.5Q393.9 417.4 382.8 405M401 432.5Q404.4 402 411 372M401 432.5Q394.9 438.5 387 442M422.5 432Q420.7 455 425.5 477.5M422.5 432Q394.8 447.5 364 439.5M422.5 432Q430 417.3 444.5 409.5M451 442Q440.9 451.9 432 463M451 442Q441.3 427 444.5 409.5M451 442Q428 426.9 401 432.5M520 444.5Q493.2 455.6 464.5 451M520 444.5Q480.3 430 470 389M520 444.5Q483.6 424 444.5 409.5M364 439.5Q403.6 377.5 450 320.5M364 439.5Q396.9 460.4 415 495M364 439.5Q318.9 456 272 445.5M364 439.5Q425.5 429.2 484 451M364 439.5Q414.8 440.5 464.5 451M364 439.5Q408.1 395.5 470 389M364 439.5Q324.1 390.4 262.5 376M364 439.5Q402.3 446.3 425.5 477.5M364 439.5Q387.3 442.8 410 449M364 439.5Q432.6 424.4 501 408M364 439.5Q373.7 504.8 416 555.5M364 439.5Q412.4 445.4 453 472.5M387 442Q398.9 469.6 415 495M387 442Q377.4 424.4 382.8 405M387 442Q413.3 444.4 432 463M410 449Q411.5 466.6 425.5 477.5M464.5 451Q440.7 467.1 412 466M464.5 451Q457.1 429 444.5 409.5M464.5 451Q446.9 453.2 432 463M484 451Q500.2 437.9 520 444.5M484 451Q489 473.8 503 492.5M484 451Q477.7 419.8 470 389M412 466Q437.5 455.8 464.5 451M412 466Q407.5 457.9 410 449M432 463Q417.2 472.8 404 484.5M432 463Q451.5 465.8 464.5 451M432 463Q436.1 447.6 451 442M510 467Q514.3 455.4 520 444.5M510 467Q480.8 493 452.5 520M474 470.5Q459.8 480.4 455 497M474 470.5Q483.5 447.2 474 424M474 470.5Q459.6 458.6 451 442M453 472.5Q442.8 496.1 452.5 520M453 472.5Q444.9 462.4 432 463M453 472.5Q432.5 469.4 412 466M336 466Q371.5 529.2 403 594.5M336 466Q333.2 444.9 337.5 424M336 466Q314.4 489 283 493M336 466Q280.8 430.3 228 391M336 466Q386.6 467.6 422.5 432M425.5 477.5Q429.5 470.6 432 463M425.5 477.5Q426.6 454.6 422.5 432M425.5 477.5Q438.1 454.1 464.5 451M437 490Q456.1 494.6 472 506M437 490Q451.6 472.9 474 470.5M415 495Q431.5 510.9 452.5 520M415 495Q414.7 474.3 432 463M455 497Q449 505.5 443 514M503 492.5Q465.3 498.5 447 532M503 492.5Q470.2 486.3 437 490M356 505Q300.9 565.8 220.5 582M356 505Q382.7 483.6 412 466M356 505Q399.4 510.1 443 514M356 505Q318.5 557.6 331 621M356 505Q370 515.3 385.5 523M356 505Q309.9 474.1 284 425M356 505Q399.5 494 432 463M356 505Q384.6 531.9 416 555.5M356 505Q292.7 510.5 232 492M356 505Q414 504.1 472 506M472 506Q462.1 504.2 455 497M472 506Q454.6 497.8 437 490M472 506Q467.8 530.4 457.5 553M402 509Q428.3 509.5 452.5 520M306 513Q262.1 530.5 219 550M306 513Q343.4 460.5 321 400M306 513Q284.8 532.6 256 532M306 513Q374.6 499.3 443 514M429 514Q479.3 507.4 510 467M429 514Q438.3 477.5 451 442M429 514Q404.2 543.4 373 566M429 514Q375.7 542.6 326 577M429 514Q427.2 488.3 432 463M443 514Q452.9 532.5 457.5 553M443 514Q448.4 515.9 452.5 520M443 514Q438.6 488.3 432 463M452.5 520Q441 515.9 429 514M452.5 520Q424.7 526.2 402 509M452.5 520Q425.9 529.2 416 555.5M385.5 523Q312 474.6 241 422.5M385.5 523Q328.2 474.6 321 400M385.5 523Q350.4 544.1 326 577M385.5 523Q352.5 439.5 325 354M385.5 523Q381.5 584.9 331 621M385.5 523Q368 518.5 356 505M385.5 523Q379.2 544.5 373 566M385.5 523Q393 482.6 387 442M385.5 523Q422.2 469.8 484 451M385.5 523Q410.7 464 444.5 409.5M385.5 523Q388.3 476.9 401 432.5M385.5 523Q312.3 557.9 259 619M385.5 523Q311.1 512.4 246 550M385.5 523Q329.5 512.1 272.5 512M385.5 523Q337.3 563.6 307.5 619M385.5 523Q337.9 458.9 338 379M335.5 542Q387.4 519.4 425.5 477.5M335.5 542Q267.7 574.9 197.5 547.5M335.5 542Q273.7 549.7 220.5 582M335.5 542Q426.5 541.9 503 492.5M335.5 542Q351 582.5 331 621M335.5 542Q388.5 501.7 452.5 520M335.5 542Q303.4 561.8 287.5 596M335.5 542Q353.3 555.4 373 566M335.5 542Q387.4 478.6 464.5 451M335.5 542Q379.9 487.7 422.5 432M335.5 542Q345.9 523.6 356 505M416 555.5Q413.8 504.8 453 472.5M416 555.5Q385.9 502.7 387 442M416 555.5Q369 578 317.5 570M416 555.5Q388.6 583.4 349.5 586M416 555.5Q407.6 574.4 403 594.5M416 555.5Q332.1 594 242.5 572M416 555.5Q363.6 493.4 315.5 428M416 555.5Q399.3 540.6 385.5 523M416 555.5Q364 585.5 304 586M416 555.5Q437.6 518.6 425.5 477.5M416 555.5Q483.2 532.8 510 467M416 555.5Q435.4 468.4 501 408M416 555.5Q317.9 539.7 219 550M416 555.5Q410.7 488.2 364 439.5M373 566Q362.8 577.9 349.5 586M373 566Q393 575 403 594.5M373 566Q380.6 531 356 505M317.5 570Q307 574.9 304 586M326 577Q309.1 591.2 287.5 596M326 577Q340 597.7 331 621M349.5 586Q376.4 589.3 403 594.5M349.5 586Q339.2 577.6 326 577M419.5 579Q396.3 572.4 373 566M419.5 579Q429.5 545.9 443 514M403 594.5Q426.3 581.4 441 559M403 594.5Q388.1 625.6 356 638M374 598Q359.9 595.7 349.5 586M304 586Q315.3 582.3 326 577M304 586Q295.7 591 287.5 596M259 619Q248.8 591.1 220.5 582M307.5 619Q322.6 600.6 326 577M307.5 619Q298.1 603.3 304 586M331 621Q352.9 610.2 374 598M331 621Q337.3 601.9 349.5 586M356 638Q375.1 604.5 373 566M356 638Q354.8 613.4 374 598M356 638Q335.9 606.1 304 586M116 220Q183.3 167.2 232 97M116 220Q161 242.6 178 290M116 220Q134.9 236.9 156 251M116 220Q180.2 191.3 225 137M262 219.5Q343.3 256.5 423 297M262 219.5Q237.2 181.1 225 137M262 219.5Q272.7 249.9 261 280M262 219.5Q182.4 251.6 99 231M262 219.5Q239.3 277.8 178 290M262 219.5Q259 233.8 269.5 244M262 219.5Q246.8 280.8 262.5 342M262 219.5Q284.1 291 255 360M262 219.5Q340.9 264.5 429.5 284.5M262 219.5Q279.9 218.5 289 203M262 219.5Q270.2 202.7 276 185M262 219.5Q205.4 201.1 180.5 147M262 219.5Q231.6 265.6 200 311M262 219.5Q232.8 252.6 199 281M262 219.5Q190 276.4 101 299M262 219.5Q197.3 270 136 324.5M262 219.5Q217.6 264.3 156 251M262 219.5Q221.8 277.3 232 347M262 219.5Q177.5 203.6 91.5 205.5M262 219.5Q239.6 252.8 227.5 291M262 219.5Q287.1 276.1 347 292M262 219.5Q317.6 254.8 381 273M225 261Q268.1 244.5 314 240M225 261Q173.4 205.1 110 163M225 261Q196.4 296.9 158 322M225 261Q205.9 282.6 178 290M225 261Q188.5 270.1 156 251M225 261Q285.5 321.9 321 400M225 261Q311.8 257 384 305.5M225 261Q187.6 264.5 160 290M225 261Q288.7 254.6 317.5 197.5M225 261Q257.4 289.4 283 324M225 261Q209.5 338.6 147 387M225 261Q266.2 327 299 397.5M225 261Q181.9 260.5 144 281M225 261Q246.4 236.6 237 205.5M225 261Q244.3 308.8 274 351M307.5 289Q268.8 267.5 225 261M307.5 289Q339.8 303.3 369 323M307.5 289Q315.3 358.3 315.5 428M307.5 289Q254 274.9 199 281M307.5 289Q311.8 262.9 295 242.5M307.5 289Q366.1 280.4 423 297M307.5 289Q262.6 350.4 204 399M307.5 289Q327.9 281.3 347 292M307.5 289Q324.9 356 337.5 424M307.5 289Q372.7 306.6 427.5 267M307.5 289Q278.1 313.1 274 351M307.5 289Q333.1 335.6 386 340.5M187 351Q208.2 370.5 204 399M187 351Q225.9 428.2 283 493M187 351Q252.3 380.2 321 400M187 351Q207.5 306.6 225 261M187 351Q256.1 346.1 325 354M187 351Q204.9 295.5 254 264M187 351Q136.4 415.8 90.5 484M187 351Q171.3 427.5 114 480.5M187 351Q194.9 318.7 178 290M241 422.5Q254 382.9 262.5 342M241 422.5Q286.1 361.6 307.5 289M241 422.5Q260.6 477 306 513M241 422.5Q172.5 406.7 117 450M241 422.5Q291.5 398.7 325 354M241 422.5Q241.6 379.4 274 351M241 422.5Q295.4 386.6 356 362.5M241 422.5Q216.2 487.1 157 523M241 422.5Q213.2 483.4 219 550M241 422.5Q202.4 359.6 178 290M241 422.5Q236.5 449.9 211 461M241 422.5Q267.2 375.5 283 324M411 372Q427.6 303.7 415 234.5M411 372Q390.8 399.7 401 432.5M411 372Q451.5 401.2 501 408M411 372Q437.3 382.2 444.5 409.5M411 372Q388.2 313.3 354 260.5M411 372Q407.1 336.5 431 310M411 372Q440 422.9 474 470.5M411 372Q431.6 352.2 436 324M411 372Q362.9 429.3 290 446M411 372Q361.9 380.5 337.5 424M411 372Q394.8 343.4 369 323M411 372Q377.7 337 367 290M411 372Q401 445.7 356 505M411 372Q417.6 327.7 429.5 284.5M411 372Q399.3 445.6 429 514M411 372Q348.8 343.3 283 324M411 372Q412.6 353.8 427 342.5M411 372Q418.6 328.6 459 311M411 372Q381.4 379.2 356 362.5M411 372Q429.6 336.5 423 297M411 372Q420.9 323.5 459 292M411 372Q409.8 317.7 402 264M382.8 405Q431.8 398.3 474 424M382.8 405Q313.6 418 262 466M382.8 405Q408.2 468.2 452.5 520M382.8 405Q423.3 374.3 470 354M382.8 405Q398.2 435.1 412 466M382.8 405Q317.7 411 262.5 376M382.8 405Q390.1 449.5 425.5 477.5M382.8 405Q411.9 456.9 429 514M382.8 405Q326.5 360.8 255 360M382.8 405Q313.8 386.3 242.5 381M382.8 405Q422.6 376.3 470 389M382.8 405Q414.3 360.6 460 331M382.8 405Q396.3 415.9 401 432.5M382.8 405Q376.7 424.4 387 442M382.8 405Q414.5 442.3 453 472.5M382.8 405Q373.3 366.4 399 336M382.8 405Q443.9 397.9 496 430.5M382.8 405Q439.6 394.3 497 387.5M382.8 405Q371.9 421.4 364 439.5M382.8 405Q415.2 344.6 459 292M382.8 405Q361.7 418.2 337.5 424M182.5 486Q187.9 477.2 196 471M182.5 486Q179.7 511.3 157 523M182.5 486Q208.6 480.8 235 478M381 273Q376.2 283.3 367 290M381 273Q365.9 270.2 354 260.5M381 273Q358 259 335 245"/>
</g>
<g>
<circle cx="87" cy="23.5" r="5.5" fill="#6788ec"/>
<circle cx="53" cy="40" r="5.5" fill="#6788ec"/>
<circle cx="203" cy="48" r="4.5" fill="#4459ca"/>
<circle cx="258" cy="48" r="4.5" fill="#4459ca"/>
<circle cx="225" cy="72" r="4.5" fill="#4e66d4"/>
<circle cx="164" cy="85" r="4.5" fill="#4459ca"/>
<circle cx="80" cy="92" r="4.5" fill="#6788ec"/>
<circle cx="232" cy="97" r="4.5" fill="#cc383c"/>
<circle cx="211.5" cy="102" r="4.5" fill="#7c9ef6"/>
<circle cx="92" cy="113" r="4.5" fill="#c5d5ef"/>
<circle cx="186" cy="114.5" r="4.5" fill="#c5d5ef"/>
<circle cx="155" cy="122" r="4.5" fill="#c5d5ef"/>
<circle cx="204" cy="123" r="4.5" fill="#8db0fe"/>
<circle cx="56" cy="123" r="4.5" fill="#6788ec"/>
<circle cx="225" cy="137" r="4.5" fill="#cc383c"/>
<circle cx="84" cy="141.5" r="4.5" fill="#f4c5af"/>
<circle cx="56" cy="146" r="4.5" fill="#eb8369"/><circle cx="56" cy="146" r="2.5" fill="#6b8bee"/>
<circle cx="180.5" cy="147" r="4.5" fill="#6788ec"/>
<circle cx="195" cy="146" r="4.5" fill="#4b62d1"/>
<circle cx="280.5" cy="148" r="4.5" fill="#cf3f3f"/><circle cx="280.5" cy="148" r="2.2" fill="#f4c5af"/>
<circle cx="152" cy="151.5" r="4.5" fill="#8db0fe"/>
<circle cx="86" cy="160" r="4.5" fill="#6788ec"/>
<circle cx="110" cy="163" r="4.5" fill="#f4c5af"/>
<circle cx="45" cy="170" r="4.5" fill="#dddddd"/>
<circle cx="66" cy="175" r="4.5" fill="#6788ec"/>
<circle cx="190.5" cy="176" r="4.5" fill="#8db0fe"/>
<circle cx="143" cy="177" r="4.5" fill="#6788ec"/>
<circle cx="171.5" cy="182" r="8.5" fill="#ef8c70"/><circle cx="171.5" cy="182" r="7.7" fill="#e1d9d5"/><circle cx="171.5" cy="182" r="3.8" fill="#b9d1f8"/><circle cx="171.5" cy="182" r="1.7" fill="#7c9ef6"/>
<circle cx="91.5" cy="179.5" r="4.5" fill="#f4c5af"/>
<circle cx="12.5" cy="182" r="4.5" fill="#6788ec"/>
<circle cx="123" cy="185" r="4.5" fill="#8db0fe"/>
<circle cx="41.5" cy="191" r="4.5" fill="#6788ec"/>
<circle cx="276" cy="185" r="4.5" fill="#df624f"/>
<circle cx="63" cy="202" r="4.5" fill="#ef8c70"/>
<circle cx="91.5" cy="205.5" r="4.5" fill="#ef8c70"/>
<circle cx="288.5" cy="203" r="4.5" fill="#c5d5ef"/>
<circle cx="198.5" cy="207" r="7" fill="#b9d1f8"/><circle cx="198.5" cy="207" r="5.6" fill="#8db0fe"/>
<circle cx="237" cy="205.5" r="4" fill="#eccdbe"/><circle cx="237" cy="205.5" r="3" fill="#dddddd"/><circle cx="237" cy="205.5" r="1.6" fill="#5a77e2"/>
<circle cx="143" cy="209.5" r="4.5" fill="#6788ec"/>
<circle cx="375" cy="42" r="4.5" fill="#dddddd"/>
<circle cx="304" cy="66" r="4.5" fill="#dddddd"/>
<circle cx="356.5" cy="76" r="5.5" fill="#7c9ef6"/>
<circle cx="322" cy="148" r="4.5" fill="#a9c4fb"/>
<circle cx="373" cy="147" r="4.5" fill="#4e66d4"/>
<circle cx="401" cy="148" r="4.5" fill="#dddddd"/>
<circle cx="354" cy="157" r="4.5" fill="#a9c4fb"/>
<circle cx="470" cy="160" r="5.5" fill="#df624f"/>
<circle cx="329" cy="175" r="4" fill="#e9d1c6"/><circle cx="329" cy="175" r="2.8" fill="#dddddd"/><circle cx="329" cy="175" r="1.8" fill="#6b8bee"/>
<circle cx="349" cy="187" r="4.5" fill="#df624f"/>
<circle cx="401" cy="185" r="4.5" fill="#7c9ef6"/>
<circle cx="460" cy="194" r="4.5" fill="#df624f"/>
<circle cx="317.5" cy="197.5" r="7.5" fill="#f49a7b"/><circle cx="317.5" cy="197.5" r="6.6" fill="#dddddd"/><circle cx="317.5" cy="197.5" r="1.1" fill="#5a77e2"/>
<circle cx="327.5" cy="211" r="4.5" fill="#c5d5ef"/>
<circle cx="77" cy="227" r="4.5" fill="#ef8c70"/>
<circle cx="99" cy="231" r="4.5" fill="#f0c9b7"/>
<circle cx="94" cy="248" r="4.5" fill="#ef8c70"/>
<circle cx="69.5" cy="251.5" r="6.5" fill="#9ebdfc"/><circle cx="69.5" cy="251.5" r="4.2" fill="#7596f3"/>
<circle cx="168" cy="218" r="4.5" fill="#e9d1c6"/>
<circle cx="199" cy="238" r="5" fill="#9ebdfc"/><circle cx="199" cy="238" r="3" fill="#6080e8"/>
<circle cx="179.5" cy="235" r="4.5" fill="#ef8c70"/>
<circle cx="156" cy="251" r="11" fill="#e87a61"/><circle cx="156" cy="251" r="8.8" fill="#f09174"/><circle cx="156" cy="251" r="6.6" fill="#f4a487"/><circle cx="156" cy="251" r="4.4" fill="#f5b59b"/><circle cx="156" cy="251" r="2.2" fill="#f4c5af"/>
<circle cx="237" cy="224" r="4.5" fill="#a9c4fb"/>
<circle cx="269.5" cy="244" r="4.5" fill="#a9c4fb"/>
<circle cx="295" cy="242.5" r="4.5" fill="#ef8c70"/>
<circle cx="254" cy="264" r="5.5" fill="#df624f"/>
<circle cx="265" cy="267" r="4.5" fill="#4b62d1"/>
<circle cx="261" cy="280" r="10.5" fill="#b40426"/><circle cx="261" cy="280" r="9.2" fill="#e1d9d5"/><circle cx="261" cy="280" r="6.3" fill="#bfd3f3"/><circle cx="261" cy="280" r="3.7" fill="#97b8fd"/>
<circle cx="85" cy="282" r="8" fill="#f5b297"/><circle cx="85" cy="282" r="6" fill="#f0c9b7"/><circle cx="85" cy="282" r="3.6" fill="#dddddd"/>
<circle cx="122.5" cy="280" r="4.5" fill="#8db0fe"/>
<circle cx="144" cy="281" r="5.5" fill="#e7d3ca"/><circle cx="144" cy="281" r="4.1" fill="#4b62d1"/>
<circle cx="199" cy="281" r="6.5" fill="#dc5c4b"/><circle cx="199" cy="281" r="4.5" fill="#f0c9b7"/><circle cx="199" cy="281" r="2.3" fill="#5a77e2"/>
<circle cx="160" cy="290" r="6.5" fill="#f4a487"/><circle cx="160" cy="290" r="5.2" fill="#f4ae93"/><circle cx="160" cy="290" r="3.9" fill="#f5b89f"/><circle cx="160" cy="290" r="2.6" fill="#f5c2ab"/><circle cx="160" cy="290" r="1.3" fill="#f0c9b7"/>
<circle cx="178" cy="290" r="9" fill="#e26c56"/><circle cx="178" cy="290" r="7.2" fill="#ea7f66"/><circle cx="178" cy="290" r="5.4" fill="#f19375"/><circle cx="178" cy="290" r="3.6" fill="#f4a386"/><circle cx="178" cy="290" r="1.8" fill="#f5b297"/>
<circle cx="133" cy="293.5" r="4.5" fill="#4b62d1"/>
<circle cx="101" cy="299" r="4.5" fill="#6788ec"/>
<circle cx="227.5" cy="291" r="6" fill="#9ebdfc"/><circle cx="227.5" cy="291" r="3.6" fill="#5a77e2"/>
<circle cx="147.5" cy="305" r="4.5" fill="#8db0fe"/>
<circle cx="122" cy="316" r="4.5" fill="#4b62d1"/>
<circle cx="200" cy="311" r="10" fill="#dddddd"/><circle cx="200" cy="311" r="7" fill="#b9d1f8"/><circle cx="200" cy="311" r="4" fill="#83a5f9"/>
<circle cx="241" cy="317.5" r="11" fill="#f4a487"/><circle cx="241" cy="317.5" r="9.9" fill="#d7dbe1"/><circle cx="241" cy="317.5" r="6.6" fill="#b3ccfa"/>
<circle cx="283" cy="324" r="5.5" fill="#df624f"/>
<circle cx="136" cy="324.5" r="4.5" fill="#eccdbe"/>
<circle cx="158" cy="322" r="8" fill="#dddddd"/><circle cx="158" cy="322" r="3.6" fill="#9ebdfc"/>
<circle cx="216" cy="329" r="5.5" fill="#e26c56"/><circle cx="216" cy="329" r="4.4" fill="#f08e72"/><circle cx="216" cy="329" r="3.3" fill="#f4ab8f"/><circle cx="216" cy="329" r="2.2" fill="#f5c4ad"/><circle cx="216" cy="329" r="1.1" fill="#e7d3ca"/>
<circle cx="155" cy="340.5" r="3.5" fill="#dddddd"/>
<circle cx="232" cy="347" r="5.5" fill="#f4a487"/>
<circle cx="262.5" cy="342" r="4.5" fill="#cc383c"/>
<circle cx="274" cy="351" r="10.5" fill="#b40426"/><circle cx="274" cy="351" r="9.2" fill="#f0c9b7"/><circle cx="274" cy="351" r="7.3" fill="#dddddd"/><circle cx="274" cy="351" r="3.7" fill="#9ebdfc"/>
<circle cx="255" cy="360" r="9" fill="#f4a487"/><circle cx="255" cy="360" r="7.2" fill="#f4ae93"/><circle cx="255" cy="360" r="5.4" fill="#f5b89f"/><circle cx="255" cy="360" r="3.6" fill="#f5c2ab"/><circle cx="255" cy="360" r="1.8" fill="#f0c9b7"/>
<circle cx="159.5" cy="358" r="4.5" fill="#6788ec"/>
<circle cx="215.5" cy="351" r="4.5" fill="#8db0fe"/>
<circle cx="227.5" cy="368" r="9" fill="#9ebdfc"/><circle cx="227.5" cy="368" r="7.2" fill="#8baefd"/><circle cx="227.5" cy="368" r="5.4" fill="#789af4"/><circle cx="227.5" cy="368" r="3.6" fill="#6586ec"/><circle cx="227.5" cy="368" r="1.8" fill="#546fdb"/>
<circle cx="87" cy="374" r="4.5" fill="#c5d5ef"/>
<circle cx="124" cy="375" r="4.5" fill="#dddddd"/>
<circle cx="141" cy="379" r="4.5" fill="#4b62d1"/>
<circle cx="164" cy="379" r="7" fill="#e87a61"/><circle cx="164" cy="379" r="3.5" fill="#f0c9b7"/>
<circle cx="147" cy="387" r="6.5" fill="#cf3f3f"/><circle cx="147" cy="387" r="3.9" fill="#f0c9b7"/><circle cx="147" cy="387" r="1.6" fill="#9ebdfc"/>
<circle cx="262.5" cy="376" r="7" fill="#f49a7b"/><circle cx="262.5" cy="376" r="4.9" fill="#e7d3ca"/><circle cx="262.5" cy="376" r="2.4" fill="#9ebdfc"/>
<circle cx="242.5" cy="381" r="6" fill="#e9d1c6"/><circle cx="242.5" cy="381" r="4.5" fill="#afcafa"/><circle cx="242.5" cy="381" r="2.1" fill="#7c9ef6"/>
<circle cx="228" cy="391" r="4.5" fill="#ef8c70"/>
<circle cx="174" cy="397" r="4.5" fill="#4b62d1"/>
<circle cx="204" cy="399" r="11" fill="#c52936"/><circle cx="204" cy="399" r="9.7" fill="#f4ab8f"/><circle cx="204" cy="399" r="8.2" fill="#dddddd"/><circle cx="204" cy="399" r="4.4" fill="#9ebdfc"/>
<circle cx="136" cy="404.5" r="4.5" fill="#f0c9b7"/>
<circle cx="299" cy="397.5" r="16" fill="#dddddd"/><circle cx="299" cy="397.5" r="11.5" fill="#c8d6ed"/><circle cx="299" cy="397.5" r="8.3" fill="#acc7fa"/><circle cx="299" cy="397.5" r="5.1" fill="#90b3fe"/><circle cx="299" cy="397.5" r="2.4" fill="#7c9ef6"/>
<circle cx="289" cy="203" r="4.5" fill="#c5d5ef"/>
<circle cx="299" cy="218" r="4.5" fill="#4e66d4"/>
<circle cx="270" cy="244" r="4.5" fill="#a9c4fb"/>
<circle cx="314" cy="240" r="6.5" fill="#dc5c4b"/><circle cx="314" cy="240" r="2.3" fill="#6b8bee"/>
<circle cx="335" cy="245" r="4.5" fill="#c5d5ef"/>
<circle cx="459" cy="220" r="4.5" fill="#ef8c70"/>
<circle cx="415" cy="234.5" r="4.5" fill="#dddddd"/>
<circle cx="380" cy="229.5" r="4.5" fill="#dddddd"/>
<circle cx="480" cy="241" r="4.5" fill="#df624f"/>
<circle cx="367.5" cy="249" r="8" fill="#dddddd"/><circle cx="367.5" cy="249" r="3.2" fill="#6080e8"/>
<circle cx="453" cy="252.5" r="6.5" fill="#e26c56"/><circle cx="453" cy="252.5" r="5.2" fill="#eb8369"/><circle cx="453" cy="252.5" r="3.9" fill="#f49a7b"/><circle cx="453" cy="252.5" r="2.6" fill="#f4ab8f"/><circle cx="453" cy="252.5" r="1.3" fill="#f5bca3"/>
<circle cx="354" cy="260.5" r="4.5" fill="#a9c4fb"/>
<circle cx="402" cy="264" r="6.5" fill="#dc5c4b"/><circle cx="402" cy="264" r="3.9" fill="#9ebdfc"/><circle cx="402" cy="264" r="1.9" fill="#6080e8"/>
<circle cx="427.5" cy="267" r="4.5" fill="#dddddd"/>
<circle cx="469" cy="267" r="4.5" fill="#7596f3"/>
<circle cx="492" cy="273" r="4.5" fill="#df624f"/>
<circle cx="455" cy="279" r="6.5" fill="#b40426"/><circle cx="455" cy="279" r="5.2" fill="#c12032"/><circle cx="455" cy="279" r="3.9" fill="#cd3b3d"/><circle cx="455" cy="279" r="2.6" fill="#da5749"/><circle cx="455" cy="279" r="1.3" fill="#e26c56"/>
<circle cx="527.5" cy="285" r="4.5" fill="#7596f3"/>
<circle cx="394" cy="284.5" r="4.5" fill="#f5b89f"/>
<circle cx="412" cy="283" r="4.5" fill="#ef8c70"/><circle cx="412" cy="283" r="2.2" fill="#6080e8"/>
<circle cx="429.5" cy="284.5" r="4.5" fill="#c5d5ef"/>
<circle cx="347" cy="292" r="13" fill="#b40426"/><circle cx="347" cy="292" r="10.4" fill="#c32534"/><circle cx="347" cy="292" r="7.8" fill="#d24642"/><circle cx="347" cy="292" r="5.2" fill="#e06551"/><circle cx="347" cy="292" r="2.6" fill="#e87a61"/>
<circle cx="367" cy="290" r="6.5" fill="#b40426"/><circle cx="367" cy="290" r="5.2" fill="#bc162e"/><circle cx="367" cy="290" r="3.9" fill="#c52936"/><circle cx="367" cy="290" r="2.6" fill="#cd3b3d"/><circle cx="367" cy="290" r="1.3" fill="#d64e45"/>
<circle cx="423" cy="297" r="6.5" fill="#d64e45"/><circle cx="423" cy="297" r="5.2" fill="#de604d"/><circle cx="423" cy="297" r="3.9" fill="#e26c56"/><circle cx="423" cy="297" r="2.6" fill="#e7775f"/><circle cx="423" cy="297" r="1.3" fill="#eb8369"/>
<circle cx="445" cy="296" r="4.5" fill="#f5b297"/>
<circle cx="459" cy="292" r="4.5" fill="#ef8c70"/>
<circle cx="484" cy="293" r="4.5" fill="#f0c9b7"/>
<circle cx="500" cy="299" r="4.5" fill="#ef8c70"/>
<circle cx="384" cy="305.5" r="5" fill="#f0c9b7"/>
<circle cx="412" cy="307" r="4.5" fill="#c5d5ef"/>
<circle cx="431" cy="310" r="4" fill="#f0c9b7"/><circle cx="431" cy="310" r="2" fill="#9ebdfc"/>
<circle cx="459" cy="311" r="4" fill="#e7d3ca"/><circle cx="459" cy="311" r="2.8" fill="#d7dbe1"/><circle cx="459" cy="311" r="1.4" fill="#4b62d1"/>
<circle cx="526" cy="317" r="4.5" fill="#f49d7f"/>
<circle cx="369" cy="323" r="10.5" fill="#e87a61"/><circle cx="369" cy="323" r="8.4" fill="#f4ab8f"/><circle cx="369" cy="323" r="5.8" fill="#dddddd"/><circle cx="369" cy="323" r="3.1" fill="#ced8e8"/>
<circle cx="399.5" cy="319.5" r="5" fill="#f0c9b7"/>
<circle cx="436" cy="324" r="6.5" fill="#ced8e8"/><circle cx="436" cy="324" r="3.6" fill="#9ebdfc"/><circle cx="436" cy="324" r="1.6" fill="#6b8bee"/>
<circle cx="450" cy="320.5" r="4.5" fill="#eb8369"/><circle cx="450" cy="320.5" r="2.2" fill="#e7d3ca"/>
<circle cx="477.5" cy="329.5" r="9" fill="#d64e45"/><circle cx="477.5" cy="329.5" r="7.2" fill="#de604d"/><circle cx="477.5" cy="329.5" r="5.4" fill="#e26c56"/><circle cx="477.5" cy="329.5" r="3.6" fill="#e7775f"/><circle cx="477.5" cy="329.5" r="1.8" fill="#eb8369"/>
<circle cx="460" cy="331" r="4.5" fill="#f49a7b"/><circle cx="460" cy="331" r="2.2" fill="#dddddd"/>
<circle cx="502" cy="332.5" r="4.5" fill="#f49d7f"/>
<circle cx="324" cy="331" r="7" fill="#d64e45"/><circle cx="324" cy="331" r="5.6" fill="#de604d"/><circle cx="324" cy="331" r="4.2" fill="#e26c56"/><circle cx="324" cy="331" r="2.8" fill="#e7775f"/><circle cx="324" cy="331" r="1.4" fill="#eb8369"/>
<circle cx="304.5" cy="338" r="6" fill="#eb8369"/><circle cx="304.5" cy="338" r="3.6" fill="#f0c9b7"/><circle cx="304.5" cy="338" r="1.8" fill="#7c9ef6"/>
<circle cx="414" cy="329" r="5" fill="#a9c4fb"/>
<circle cx="447.5" cy="337" r="6.5" fill="#dddddd"/>
<circle cx="427" cy="342.5" r="8.5" fill="#e87a61"/><circle cx="427" cy="342.5" r="7.2" fill="#f0c9b7"/><circle cx="427" cy="342.5" r="4.7" fill="#afcafa"/>
<circle cx="399" cy="336" r="4.5" fill="#ef8c70"/>
<circle cx="386" cy="340.5" r="4.5" fill="#ef8c70"/>
<circle cx="373" cy="343" r="4.5" fill="#a9c4fb"/>
<circle cx="304" cy="357.5" r="4.5" fill="#6080e8"/>
<circle cx="325" cy="354" r="8" fill="#ef8c70"/><circle cx="325" cy="354" r="4.8" fill="#e7d3ca"/>
<circle cx="447.5" cy="352.5" r="4.5" fill="#f4c5af"/>
<circle cx="470" cy="354" r="4.5" fill="#c5d5ef"/>
<circle cx="377.5" cy="357.5" r="5" fill="#b3ccfa"/><circle cx="377.5" cy="357.5" r="2.8" fill="#5a77e2"/>
<circle cx="500" cy="359" r="5.5" fill="#6e8ff0"/>
<circle cx="527" cy="356" r="6.5" fill="#7596f3"/>
<circle cx="356" cy="362.5" r="9" fill="#e26c56"/><circle cx="356" cy="362.5" r="7.2" fill="#ed896d"/><circle cx="356" cy="362.5" r="5.4" fill="#f4a285"/><circle cx="356" cy="362.5" r="3.6" fill="#f5b79e"/><circle cx="356" cy="362.5" r="1.8" fill="#f0c9b7"/>
<circle cx="380" cy="369" r="5.5" fill="#4b62d1"/>
<circle cx="455.5" cy="370" r="8.5" fill="#b40426"/><circle cx="455.5" cy="370" r="7.2" fill="#d64e45"/><circle cx="455.5" cy="370" r="4.2" fill="#eb8369"/>
<circle cx="476" cy="374" r="4.5" fill="#ef8c70"/>
<circle cx="338" cy="379" r="13" fill="#e87a61"/><circle cx="338" cy="379" r="11" fill="#f5bca3"/><circle cx="338" cy="379" r="9.1" fill="#ced8e8"/><circle cx="338" cy="379" r="6.5" fill="#9ebdfc"/><circle cx="338" cy="379" r="3.9" fill="#6b8bee"/><circle cx="338" cy="379" r="1.6" fill="#4459ca"/>
<circle cx="365.5" cy="379.5" r="6" fill="#f4c5af"/><circle cx="365.5" cy="379.5" r="2.4" fill="#5a77e2"/>
<circle cx="470" cy="389" r="4.5" fill="#be1a2f"/>
<circle cx="497" cy="387.5" r="4.5" fill="#c5d5ef"/>
<circle cx="321" cy="400" r="6" fill="#b40426"/><circle cx="321" cy="400" r="4.8" fill="#bc162e"/><circle cx="321" cy="400" r="3.6" fill="#c52936"/><circle cx="321" cy="400" r="2.4" fill="#cd3b3d"/><circle cx="321" cy="400" r="1.2" fill="#d64e45"/>
<circle cx="444.5" cy="409.5" r="14" fill="#b40426"/><circle cx="444.5" cy="409.5" r="12.9" fill="#dc5c4b"/><circle cx="444.5" cy="409.5" r="9.8" fill="#eb8369"/><circle cx="444.5" cy="409.5" r="7" fill="#f4ab8f"/><circle cx="444.5" cy="409.5" r="4.5" fill="#9ebdfc"/><circle cx="444.5" cy="409.5" r="2.1" fill="#6b8bee"/>
<circle cx="475" cy="407" r="4.5" fill="#ef8c70"/>
<circle cx="501" cy="408" r="4.5" fill="#f5b89f"/>
<circle cx="529" cy="411.5" r="4.5" fill="#6e8ff0"/>
<circle cx="336" cy="412" r="4.5" fill="#6080e8"/>
<circle cx="48" cy="420.5" r="5.5" fill="#f5c2ab"/>
<circle cx="90.5" cy="418" r="4.5" fill="#c5d5ef"/>
<circle cx="120.5" cy="424" r="4.5" fill="#df624f"/>
<circle cx="148" cy="426" r="4.5" fill="#f5bfa7"/>
<circle cx="170" cy="426" r="4.5" fill="#7c9ef6"/>
<circle cx="183" cy="412.5" r="4.5" fill="#4b62d1"/>
<circle cx="191" cy="444.5" r="5.5" fill="#dddddd"/>
<circle cx="220" cy="437" r="4.5" fill="#6080e8"/>
<circle cx="117" cy="450" r="4.5" fill="#c52936"/>
<circle cx="145" cy="451" r="4.5" fill="#df624f"/>
<circle cx="162" cy="454.5" r="11" fill="#b40426"/><circle cx="162" cy="454.5" r="9.9" fill="#e26c56"/><circle cx="162" cy="454.5" r="7.7" fill="#f4ab8f"/><circle cx="162" cy="454.5" r="5" fill="#9ebdfc"/><circle cx="162" cy="454.5" r="2.8" fill="#6b8bee"/>
<circle cx="68" cy="454" r="4.5" fill="#a9c4fb"/>
<circle cx="36" cy="460" r="4.5" fill="#a9c4fb"/>
<circle cx="211" cy="461" r="4.5" fill="#cf3f3f"/><circle cx="211" cy="461" r="2.2" fill="#f0c9b7"/>
<circle cx="228" cy="461" r="9.5" fill="#f5bca3"/><circle cx="228" cy="461" r="7.1" fill="#eccdbe"/><circle cx="228" cy="461" r="4.8" fill="#afcafa"/><circle cx="228" cy="461" r="2.4" fill="#7c9ef6"/>
<circle cx="272" cy="445.5" r="8" fill="#b40426"/><circle cx="272" cy="445.5" r="6.8" fill="#d7dbe1"/><circle cx="272" cy="445.5" r="4" fill="#b3ccfa"/><circle cx="272" cy="445.5" r="1.2" fill="#5a77e2"/>
<circle cx="284" cy="425" r="6" fill="#f5bfa7"/><circle cx="284" cy="425" r="3.6" fill="#dddddd"/><circle cx="284" cy="425" r="1.8" fill="#7c9ef6"/>
<circle cx="290" cy="446" r="8" fill="#bfd3f3"/><circle cx="290" cy="446" r="4.4" fill="#8db0fe"/>
<circle cx="254" cy="457" r="4" fill="#d7dbe1"/><circle cx="254" cy="457" r="1.8" fill="#546fdb"/>
<circle cx="262" cy="466" r="4.5" fill="#a9c4fb"/>
<circle cx="196" cy="471" r="4.5" fill="#c5d5ef"/>
<circle cx="114" cy="480.5" r="4.5" fill="#be1a2f"/><circle cx="114" cy="480.5" r="2.5" fill="#9ebdfc"/>
<circle cx="140.5" cy="479.5" r="4.5" fill="#df624f"/>
<circle cx="90.5" cy="484" r="4.5" fill="#f4c5af"/>
<circle cx="62.5" cy="489" r="4.5" fill="#a9c4fb"/>
<circle cx="29" cy="495" r="4.5" fill="#a9c4fb"/>
<circle cx="213" cy="485" r="4.5" fill="#f0c9b7"/>
<circle cx="235" cy="478" r="10" fill="#f5b297"/><circle cx="235" cy="478" r="8" fill="#f0c9b7"/><circle cx="235" cy="478" r="5.5" fill="#d7dbe1"/><circle cx="235" cy="478" r="2.5" fill="#8db0fe"/>
<circle cx="232" cy="492" r="4.5" fill="#f5b89f"/><circle cx="232" cy="492" r="2.2" fill="#bfd3f3"/>
<circle cx="256" cy="484" r="10" fill="#bfd3f3"/><circle cx="256" cy="484" r="6.5" fill="#9ebdfc"/><circle cx="256" cy="484" r="3.5" fill="#7596f3"/>
<circle cx="288" cy="476" r="4.5" fill="#6e8ff0"/>
<circle cx="283" cy="493" r="7.5" fill="#b40426"/><circle cx="283" cy="493" r="6.4" fill="#e7d3ca"/><circle cx="283" cy="493" r="3.8" fill="#ced8e8"/>
<circle cx="162" cy="495" r="4.5" fill="#a9c4fb"/>
<circle cx="197.5" cy="504" r="8.5" fill="#e5d5ce"/><circle cx="197.5" cy="504" r="5.9" fill="#d1d9e6"/><circle cx="197.5" cy="504" r="3" fill="#7c9ef6"/><circle cx="197.5" cy="504" r="1.3" fill="#4b62d1"/>
<circle cx="215" cy="504" r="4.5" fill="#c5d5ef"/>
<circle cx="242.5" cy="502.5" r="4.5" fill="#4b62d1"/>
<circle cx="272.5" cy="512" r="6" fill="#f5b89f"/><circle cx="272.5" cy="512" r="3.9" fill="#e7d3ca"/><circle cx="272.5" cy="512" r="1.5" fill="#4b62d1"/>
<circle cx="182.5" cy="510" r="4" fill="#a9c4fb"/>
<circle cx="80" cy="522" r="4.5" fill="#a9c4fb"/>
<circle cx="50.5" cy="526" r="4.5" fill="#a9c4fb"/>
<circle cx="157" cy="523" r="4.5" fill="#f5bfa7"/>
<circle cx="116" cy="529" r="4.5" fill="#f5bfa7"/>
<circle cx="212" cy="525" r="4.5" fill="#c5d5ef"/>
<circle cx="238" cy="526" r="5.5" fill="#516ad8"/>
<circle cx="256" cy="532" r="4.5" fill="#f0c9b7"/>
<circle cx="197.5" cy="547.5" r="4.5" fill="#eb8369"/>
<circle cx="219" cy="550" r="4.5" fill="#e9d1c6"/>
<circle cx="246" cy="550" r="4.5" fill="#e9d1c6"/>
<circle cx="269.5" cy="553" r="11" fill="#6e8ff0"/><circle cx="269.5" cy="553" r="6.6" fill="#5a77e2"/><circle cx="269.5" cy="553" r="3.3" fill="#475dcd"/>
<circle cx="110" cy="551" r="4.5" fill="#f5b89f"/>
<circle cx="160.5" cy="558" r="5.5" fill="#b3ccfa"/>
<circle cx="132" cy="561" r="4.5" fill="#f5b89f"/>
<circle cx="186" cy="568" r="4.5" fill="#f5b89f"/>
<circle cx="242.5" cy="572" r="4.5" fill="#c5d5ef"/>
<circle cx="116" cy="577" r="4.5" fill="#f5b89f"/>
<circle cx="220.5" cy="582" r="4.5" fill="#eb8369"/>
<circle cx="137" cy="588" r="4.5" fill="#f5b89f"/><circle cx="137" cy="588" r="2.2" fill="#b3ccfa"/>
<circle cx="157" cy="597.5" r="4.5" fill="#f5b297"/>
<circle cx="277" cy="584" r="4.5" fill="#475dcd"/>
<circle cx="294.5" cy="581" r="6.5" fill="#5a77e2"/><circle cx="294.5" cy="581" r="3.2" fill="#4459ca"/>
<circle cx="287.5" cy="596" r="4.5" fill="#f5bfa7"/><circle cx="287.5" cy="596" r="2.2" fill="#dddddd"/>
<circle cx="275" cy="605" r="5.5" fill="#516ad8"/>
<circle cx="183" cy="612.5" r="4.5" fill="#a9c4fb"/>
<circle cx="298" cy="564.5" r="4.5" fill="#6788ec"/>
<circle cx="474" cy="424" r="4.5" fill="#be1a2f"/>
<circle cx="496" cy="430.5" r="4.5" fill="#c5d5ef"/>
<circle cx="337.5" cy="424" r="6.5" fill="#b40426"/><circle cx="337.5" cy="424" r="3.9" fill="#e26c56"/><circle cx="337.5" cy="424" r="1.9" fill="#f5bca3"/>
<circle cx="315.5" cy="428" r="10" fill="#f5b89f"/><circle cx="315.5" cy="428" r="7" fill="#e9d1c6"/><circle cx="315.5" cy="428" r="4.5" fill="#ced8e8"/><circle cx="315.5" cy="428" r="2" fill="#9ebdfc"/>
<circle cx="401" cy="432.5" r="6.5" fill="#dddddd"/>
<circle cx="422.5" cy="432" r="5.5" fill="#cf3f3f"/>
<circle cx="451" cy="442" r="4.5" fill="#b40426"/>
<circle cx="520" cy="444.5" r="5.5" fill="#eb8369"/>
<circle cx="364" cy="439.5" r="15.5" fill="#ef8c70"/><circle cx="364" cy="439.5" r="13.2" fill="#f5b89f"/><circle cx="364" cy="439.5" r="10.8" fill="#e7d3ca"/><circle cx="364" cy="439.5" r="7.8" fill="#bfd3f3"/><circle cx="364" cy="439.5" r="4.6" fill="#83a5f9"/>
<circle cx="387" cy="442" r="4.5" fill="#f5b89f"/>
<circle cx="410" cy="449" r="4.5" fill="#d64e45"/><circle cx="410" cy="449" r="2" fill="#5a77e2"/>
<circle cx="464.5" cy="451" r="4.5" fill="#eb8369"/>
<circle cx="484" cy="451" r="5.5" fill="#eccdbe"/>
<circle cx="381" cy="461" r="5.5" fill="#516ad8"/>
<circle cx="412" cy="466" r="6.5" fill="#dddddd"/>
<circle cx="432" cy="463" r="4.5" fill="#b40426"/><circle cx="432" cy="463" r="2" fill="#e26c56"/>
<circle cx="510" cy="467" r="4.5" fill="#e87a61"/>
<circle cx="474" cy="470.5" r="4.5" fill="#d64e45"/>
<circle cx="453" cy="472.5" r="4.5" fill="#f4a487"/>
<circle cx="336" cy="466" r="22" fill="#f0c9b7"/><circle cx="336" cy="466" r="18.7" fill="#e5d5ce"/><circle cx="336" cy="466" r="15.4" fill="#d7dbe1"/><circle cx="336" cy="466" r="12.1" fill="#b9d1f8"/><circle cx="336" cy="466" r="8.8" fill="#8db0fe"/><circle cx="336" cy="466" r="5.5" fill="#6b8bee"/>
<circle cx="425.5" cy="477.5" r="4.5" fill="#f5b297"/><circle cx="425.5" cy="477.5" r="2.2" fill="#eccdbe"/>
<circle cx="404" cy="484.5" r="6.5" fill="#546fdb"/>
<circle cx="437" cy="490" r="4" fill="#c5d5ef"/><circle cx="437" cy="490" r="2" fill="#5a77e2"/>
<circle cx="415" cy="495" r="5.5" fill="#e9d1c6"/>
<circle cx="455" cy="497" r="4.5" fill="#6788ec"/>
<circle cx="503" cy="492.5" r="4.5" fill="#cf3f3f"/>
<circle cx="327.5" cy="491" r="6" fill="#b3ccfa"/><circle cx="327.5" cy="491" r="2.7" fill="#5a77e2"/>
<circle cx="356" cy="505" r="13" fill="#f5bfa7"/><circle cx="356" cy="505" r="9.8" fill="#f0c9b7"/><circle cx="356" cy="505" r="5.9" fill="#e1d9d5"/>
<circle cx="472" cy="506" r="4.5" fill="#cf3f3f"/>
<circle cx="402" cy="509" r="5.5" fill="#bfd3f3"/>
<circle cx="306" cy="513" r="15.5" fill="#c52936"/><circle cx="306" cy="513" r="14.4" fill="#f49a7b"/><circle cx="306" cy="513" r="12.4" fill="#f4c5af"/><circle cx="306" cy="513" r="9.6" fill="#e1d9d5"/><circle cx="306" cy="513" r="6.5" fill="#afcafa"/><circle cx="306" cy="513" r="3.4" fill="#7c9ef6"/>
<circle cx="429" cy="514" r="11.5" fill="#b40426"/><circle cx="429" cy="514" r="10.3" fill="#7c9ef6"/><circle cx="429" cy="514" r="6.3" fill="#6080e8"/><circle cx="429" cy="514" r="2.9" fill="#4b62d1"/>
<circle cx="443" cy="514" r="4.5" fill="#df624f"/>
<circle cx="452.5" cy="520" r="4.5" fill="#f4a487"/>
<circle cx="385.5" cy="523" r="15.5" fill="#b40426"/><circle cx="385.5" cy="523" r="14.3" fill="#cf3f3f"/><circle cx="385.5" cy="523" r="11.6" fill="#eb8369"/><circle cx="385.5" cy="523" r="9" fill="#f5b89f"/><circle cx="385.5" cy="523" r="6.2" fill="#e7d3ca"/><circle cx="385.5" cy="523" r="3.4" fill="#7c9ef6"/>
<circle cx="447" cy="532" r="4.5" fill="#6788ec"/>
<circle cx="476" cy="532" r="4.5" fill="#516ad8"/>
<circle cx="335.5" cy="542" r="17.5" fill="#d64e45"/><circle cx="335.5" cy="542" r="15.6" fill="#d1d9e6"/><circle cx="335.5" cy="542" r="10.5" fill="#bfd3f3"/><circle cx="335.5" cy="542" r="6.1" fill="#9ebdfc"/><circle cx="335.5" cy="542" r="2.1" fill="#6080e8"/>
<circle cx="457.5" cy="553" r="4.5" fill="#6788ec"/>
<circle cx="441" cy="559" r="4.5" fill="#83a5f9"/>
<circle cx="416" cy="555.5" r="15" fill="#d64e45"/><circle cx="416" cy="555.5" r="13.3" fill="#f4a487"/><circle cx="416" cy="555.5" r="12.3" fill="#e1d9d5"/><circle cx="416" cy="555.5" r="6.8" fill="#cbd7ea"/><circle cx="416" cy="555.5" r="3" fill="#a5c2fb"/>
<circle cx="373" cy="566" r="4.5" fill="#dc5c4b"/>
<circle cx="353" cy="569" r="7" fill="#9ebdfc"/><circle cx="353" cy="569" r="4.9" fill="#6e8ff0"/><circle cx="353" cy="569" r="2.4" fill="#546fdb"/>
<circle cx="317.5" cy="570" r="4.5" fill="#eb8369"/><circle cx="317.5" cy="570" r="2.2" fill="#7c9ef6"/>
<circle cx="326" cy="577" r="4.5" fill="#f5b89f"/>
<circle cx="337.5" cy="582.5" r="4.5" fill="#4b62d1"/>
<circle cx="349.5" cy="586" r="4.5" fill="#eb8369"/><circle cx="349.5" cy="586" r="2.2" fill="#dddddd"/>
<circle cx="369" cy="584.5" r="5.5" fill="#516ad8"/>
<circle cx="419.5" cy="579" r="4.5" fill="#83a5f9"/>
<circle cx="437.5" cy="581" r="4.5" fill="#6e8ff0"/>
<circle cx="452" cy="594.5" r="4.5" fill="#475dcd"/>
<circle cx="403" cy="594.5" r="4.5" fill="#ef8c70"/>
<circle cx="374" cy="598" r="4.5" fill="#f4c5af"/>
<circle cx="304" cy="586" r="5.5" fill="#f5b89f"/><circle cx="304" cy="586" r="3" fill="#e1d9d5"/>
<circle cx="323" cy="590.5" r="8.5" fill="#dddddd"/><circle cx="323" cy="590.5" r="5.5" fill="#9ebdfc"/><circle cx="323" cy="590.5" r="3" fill="#5a77e2"/>
<circle cx="302" cy="601" r="4.5" fill="#4b62d1"/>
<circle cx="333" cy="607" r="4.5" fill="#9ebdfc"/><circle cx="333" cy="607" r="2.2" fill="#4e66d4"/>
<circle cx="352" cy="608" r="8.5" fill="#dddddd"/><circle cx="352" cy="608" r="4.7" fill="#4b62d1"/>
<circle cx="259" cy="619" r="4.5" fill="#c5d5ef"/>
<circle cx="290.5" cy="618" r="4.5" fill="#475dcd"/>
<circle cx="307.5" cy="619" r="4.5" fill="#c5d5ef"/>
<circle cx="331" cy="621" r="4.5" fill="#f4c5af"/>
<circle cx="374" cy="626" r="5.5" fill="#516ad8"/>
<circle cx="356" cy="638" r="4.5" fill="#eb8369"/>
<circle cx="386" cy="661" r="5.5" fill="#7c9ef6"/>
<circle cx="266" cy="667" r="4.5" fill="#eccdbe"/>
<circle cx="281" cy="689.5" r="5.5" fill="#4b62d1"/>
<circle cx="312" cy="701" r="5.5" fill="#4b62d1"/>
<circle cx="252" cy="739" r="5.5" fill="#475dcd"/>
<circle cx="284" cy="739" r="5.5" fill="#475dcd"/>
<circle cx="182" cy="746" r="5.5" fill="#6788ec"/>
<circle cx="232" cy="779.5" r="4.5" fill="#475dcd"/>
<circle cx="192" cy="797.5" r="6.5" fill="#6788ec"/><circle cx="192" cy="797.5" r="4.5" fill="#4459ca"/>
<circle cx="157" cy="799" r="4.5" fill="#6788ec"/>
<circle cx="115" cy="799" r="4.5" fill="#475dcd"/>
<circle cx="116" cy="220" r="17" fill="#ff00e0"/>
<circle cx="116" cy="220" r="15" fill="#f0c9b7"/><circle cx="116" cy="220" r="13.5" fill="#dddddd"/><circle cx="116" cy="220" r="12" fill="#bfd3f3"/><circle cx="116" cy="220" r="9.8" fill="#9ebdfc"/><circle cx="116" cy="220" r="6.8" fill="#7c9ef6"/><circle cx="116" cy="220" r="3.8" fill="#6080e8"/>
<circle cx="262" cy="219.5" r="20" fill="#ff00e0"/>
<circle cx="262" cy="219.5" r="16.5" fill="#c83039"/><circle cx="262" cy="219.5" r="14" fill="#d64e45"/><circle cx="262" cy="219.5" r="11.5" fill="#df624f"/><circle cx="262" cy="219.5" r="9.1" fill="#e6755e"/><circle cx="262" cy="219.5" r="5.8" fill="#ef8c70"/>
<circle cx="225" cy="261" r="18.5" fill="#ff00e0"/>
<circle cx="225" cy="261" r="14.5" fill="#dc5c4b"/><circle cx="225" cy="261" r="11.9" fill="#eb8369"/><circle cx="225" cy="261" r="9" fill="#f4a487"/><circle cx="225" cy="261" r="6.1" fill="#f5bfa7"/><circle cx="225" cy="261" r="3.2" fill="#e9d1c6"/>
<circle cx="307.5" cy="289" r="27" fill="#ff00e0"/>
<circle cx="307.5" cy="289" r="25" fill="#c52936"/><circle cx="307.5" cy="289" r="23.2" fill="#d64e45"/><circle cx="307.5" cy="289" r="21.5" fill="#e4705a"/><circle cx="307.5" cy="289" r="19.5" fill="#f29577"/><circle cx="307.5" cy="289" r="17.5" fill="#f5bfa7"/><circle cx="307.5" cy="289" r="15.8" fill="#dddddd"/><circle cx="307.5" cy="289" r="12.5" fill="#c5d5ef"/><circle cx="307.5" cy="289" r="10" fill="#9ebdfc"/><circle cx="307.5" cy="289" r="6.2" fill="#7c9ef6"/><circle cx="307.5" cy="289" r="2.5" fill="#6b8bee"/>
<circle cx="187" cy="351" r="19" fill="#ff00e0"/>
<circle cx="187" cy="351" r="17" fill="#ef8c70"/><circle cx="187" cy="351" r="15.3" fill="#f5b89f"/><circle cx="187" cy="351" r="13.3" fill="#e1d9d5"/><circle cx="187" cy="351" r="10.2" fill="#bfd3f3"/><circle cx="187" cy="351" r="7.1" fill="#8db0fe"/><circle cx="187" cy="351" r="4.2" fill="#5a77e2"/><circle cx="187" cy="351" r="1.7" fill="#475dcd"/>
<circle cx="241" cy="422.5" r="23" fill="#ff00e0"/>
<circle cx="241" cy="422.5" r="19" fill="#f4a487"/><circle cx="241" cy="422.5" r="16.1" fill="#f4c5af"/><circle cx="241" cy="422.5" r="13.3" fill="#e7d3ca"/><circle cx="241" cy="422.5" r="9.9" fill="#bfd3f3"/><circle cx="241" cy="422.5" r="6.6" fill="#97b8fd"/><circle cx="241" cy="422.5" r="3.4" fill="#7596f3"/>
<circle cx="411" cy="372" r="21" fill="#ff00e0"/>
<circle cx="411" cy="372" r="19" fill="#c52936"/><circle cx="411" cy="372" r="16.7" fill="#d64e45"/><circle cx="411" cy="372" r="14.2" fill="#e4705a"/><circle cx="411" cy="372" r="11.4" fill="#f29577"/><circle cx="411" cy="372" r="8.6" fill="#f5b89f"/><circle cx="411" cy="372" r="5.7" fill="#e7d3ca"/><circle cx="411" cy="372" r="2.9" fill="#9ebdfc"/>
<circle cx="382.8" cy="405" r="18" fill="#ff00e0"/>
<circle cx="382.8" cy="405" r="15.5" fill="#d64e45"/><circle cx="382.8" cy="405" r="13.2" fill="#e87a61"/><circle cx="382.8" cy="405" r="10.5" fill="#f49d7f"/><circle cx="382.8" cy="405" r="7.8" fill="#f5bfa7"/><circle cx="382.8" cy="405" r="4.6" fill="#e9d1c6"/>
<circle cx="182.5" cy="486" r="7" fill="#ff00e0"/>
<circle cx="182.5" cy="486" r="4" fill="#eb8369"/><circle cx="182.5" cy="486" r="2" fill="#f4ab8f"/>
<circle cx="381" cy="273" r="7" fill="#ff00e0"/>
<circle cx="381" cy="273" r="5" fill="#e87a61"/><circle cx="381" cy="273" r="2.5" fill="#f4ab8f"/>
</g>
<g font-weight="bold" fill="#000">
<text transform="translate(117 234) rotate(-90)" font-size="13.5" textLength="28.5" lengthAdjust="spacingAndGlyphs">aura</text>
<text transform="translate(156.6 340) rotate(-90)" font-size="13.5" textLength="180.5" lengthAdjust="spacingAndGlyphs">familial hemiplegic migraine</text>
<text transform="translate(178 354.5) rotate(-90)" font-size="11" textLength="133.5" lengthAdjust="spacingAndGlyphs">genome wide association</text>
<text transform="translate(189 387.5) rotate(-90)" font-size="14.2" textLength="71" lengthAdjust="spacingAndGlyphs">blood flow</text>
<text transform="translate(198.5 324) rotate(-90)" font-size="8.8" textLength="26.5" lengthAdjust="spacingAndGlyphs">stroke</text>
<text transform="translate(203.5 448) rotate(-90)" font-size="12.2" textLength="99.5" lengthAdjust="spacingAndGlyphs">cluster headache</text>
<text transform="translate(225.5 370) rotate(-90)" font-size="15.5" textLength="221" lengthAdjust="spacingAndGlyphs">cortical spreading depression</text>
<text transform="translate(242.5 350) rotate(-90)" font-size="7.7" textLength="57" lengthAdjust="spacingAndGlyphs">arterial territory</text>
<text transform="translate(255 422.5) rotate(-90)" font-size="10" textLength="123.5" lengthAdjust="spacingAndGlyphs">trigeminovascular system</text>
<text transform="translate(273.5 410) rotate(-90)" font-size="11" textLength="119" lengthAdjust="spacingAndGlyphs">tension type headache</text>
<text transform="translate(297.5 472.5) rotate(-90)" font-size="13.4" textLength="148.5" lengthAdjust="spacingAndGlyphs">chronic daily headache</text>
<text transform="translate(262 238) rotate(-90)" font-size="14" textLength="40.5" lengthAdjust="spacingAndGlyphs">CGRP</text>
<text transform="translate(239.8 456) rotate(-90)" font-size="15.2" textLength="70" lengthAdjust="spacingAndGlyphs">headache</text>
<text transform="translate(161.5 485) rotate(-90)" font-size="12.1" textLength="62.5" lengthAdjust="spacingAndGlyphs">dura mater</text>
<text transform="translate(182 557) rotate(-90)" font-size="14.4" textLength="144.5" lengthAdjust="spacingAndGlyphs">brain stem activation</text>
<text transform="translate(256 494) rotate(-90)" font-size="8.2" textLength="22" lengthAdjust="spacingAndGlyphs">nerve</text>
<text transform="translate(282 540) rotate(-90)" font-size="9.9" textLength="95.5" lengthAdjust="spacingAndGlyphs">cutaneous allodynia</text>
<text transform="translate(269.5 574) rotate(-90)" font-size="9.8" textLength="43" lengthAdjust="spacingAndGlyphs">reliability</text>
<text transform="translate(308 325) rotate(-90)" font-size="14.2" textLength="74" lengthAdjust="spacingAndGlyphs">prevalence</text>
<text transform="translate(322.5 410) rotate(-90)" font-size="11" textLength="157.5" lengthAdjust="spacingAndGlyphs">medication overuse headache</text>
<text transform="translate(346.5 347.5) rotate(-90)" font-size="13.3" textLength="113.5" lengthAdjust="spacingAndGlyphs">episodic migraine</text>
<text transform="translate(356 391) rotate(-90)" font-size="14.1" textLength="61" lengthAdjust="spacingAndGlyphs">disability</text>
<text transform="translate(380 322) rotate(-90)" font-size="14.5" textLength="101" lengthAdjust="spacingAndGlyphs">controlled trial</text>
<text transform="translate(411 416) rotate(-90)" font-size="15.5" textLength="92" lengthAdjust="spacingAndGlyphs">double blind</text>
<text transform="translate(382 427.5) rotate(-90)" font-size="14.3" textLength="48.5" lengthAdjust="spacingAndGlyphs">burden</text>
<text transform="translate(365 480) rotate(-90)" font-size="13.4" textLength="82.5" lengthAdjust="spacingAndGlyphs">quality of life</text>
<text transform="translate(444 435) rotate(-90)" font-size="13.7" textLength="51" lengthAdjust="spacingAndGlyphs">efficacy</text>
<text transform="translate(455 382.5) rotate(-90)" font-size="9.5" textLength="27.5" lengthAdjust="spacingAndGlyphs">safety</text>
<text transform="translate(477.5 372.5) rotate(-90)" font-size="8.8" textLength="88.5" lengthAdjust="spacingAndGlyphs">monoclonal antibody</text>
<text transform="translate(421 455) rotate(-90)" font-size="9.9" textLength="47.5" lengthAdjust="spacingAndGlyphs">erenumab</text>
<text transform="translate(338 496) rotate(-90)" font-size="11.9" textLength="61" lengthAdjust="spacingAndGlyphs">population</text>
<text transform="translate(356 529) rotate(-90)" font-size="10.7" textLength="50" lengthAdjust="spacingAndGlyphs">diagnosis</text>
<text transform="translate(386 565) rotate(-90)" font-size="14.4" textLength="87" lengthAdjust="spacingAndGlyphs">clinical trials</text>
<text transform="translate(305.5 567) rotate(-90)" font-size="12.2" textLength="108" lengthAdjust="spacingAndGlyphs">american migraine</text>
<text transform="translate(336 579) rotate(-90)" font-size="12.1" textLength="74.5" lengthAdjust="spacingAndGlyphs">united states</text>
<text transform="translate(415.5 603) rotate(-90)" font-size="12.2" textLength="98" lengthAdjust="spacingAndGlyphs">chronic migraine</text>
<text transform="translate(428.5 545) rotate(-90)" font-size="11.2" textLength="64" lengthAdjust="spacingAndGlyphs">sumatriptan</text>
</g>
<g font-size="5.35" font-weight="bold" fill="#111"><text transform="translate(7.8 819.5) rotate(-90)">CiteSpace, v. 6.3.R3 (64-bit) Advanced</text><text transform="translate(13.1 819.5) rotate(-90)">February 2, 2025, 10:08:23 AM CST</text><text transform="translate(18.4 819.5) rotate(-90)">WoS: D:\360MoveData\Users\HUAWEI\Desktop\citespace\biye\data</text><text transform="translate(23.8 819.5) rotate(-90)">Timespan: 1999-2021 (Slice Length=1)</text><text transform="translate(29.1 819.5) rotate(-90)">Selection Criteria: g-index (k=25), LRF=3.0, L/N=10, LBY=5, e=1.0</text><text transform="translate(34.4 819.5) rotate(-90)">Network: N=340, E=1746 (Density=0.0303)</text><text transform="translate(39.7 819.5) rotate(-90)">Largest 1 CCs: 339 (99%)</text><text transform="translate(45 819.5) rotate(-90)">Nodes Labeled: 1.0%</text><text transform="translate(50.4 819.5) rotate(-90)">Pruning: Pathfinder</text><text transform="translate(55.7 819.5) rotate(-90)">Modularity Q=0.5014</text><text transform="translate(61 819.5) rotate(-90)">Weighted Mean Silhouette S=0.8099</text><text transform="translate(66.3 819.5) rotate(-90)">Harmonic Mean(Q, S)=0.6194</text><text transform="translate(71.6 819.5) rotate(-90)">Excluded:</text></g>
<g font-size="5.35" font-weight="bold" fill="#111"><text transform="translate(541.2 819.5) rotate(-90)">CiteSpace, v. 6.3.R3 (64-bit) Advanced</text><text transform="translate(546.5 819.5) rotate(-90)">February 2, 2025, 2:29:22 PM CST</text><text transform="translate(551.8 819.5) rotate(-90)">WoS: D:\360MoveData\Users\HUAWEI\Desktop\citespace\biye\data</text><text transform="translate(557.2 819.5) rotate(-90)">Timespan: 1999-2021 (Slice Length=1)</text><text transform="translate(562.5 819.5) rotate(-90)">Selection Criteria: g-index (k=25), LRF=3.0, L/N=10, LBY=5, e=1.0</text><text transform="translate(567.8 819.5) rotate(-90)">Network: N=340, E=1746 (Density=0.0303)</text><text transform="translate(573.1 819.5) rotate(-90)">Largest 1 CCs: 339 (99%)</text><text transform="translate(578.4 819.5) rotate(-90)">Nodes Labeled: 1.0%</text><text transform="translate(583.8 819.5) rotate(-90)">Pruning: Pathfinder</text><text transform="translate(589.1 819.5) rotate(-90)">Modularity Q=0.5014</text><text transform="translate(594.4 819.5) rotate(-90)">Weighted Mean Silhouette S=0.8099</text><text transform="translate(599.7 819.5) rotate(-90)">Harmonic Mean(Q, S)=0.6194</text><text transform="translate(605 819.5) rotate(-90)">Excluded:</text></g>
<rect x="370" y="785" width="5" height="26.5" fill="#b40426"/><rect x="374.7" y="785" width="5" height="26.5" fill="#c32534"/><rect x="379.5" y="785" width="5" height="26.5" fill="#d34742"/><rect x="384.2" y="785" width="5" height="26.5" fill="#e06551"/><rect x="389" y="785" width="5" height="26.5" fill="#e87a62"/><rect x="393.7" y="785" width="5" height="26.5" fill="#f08f73"/><rect x="398.4" y="785" width="5" height="26.5" fill="#f4a284"/><rect x="403.2" y="785" width="5" height="26.5" fill="#f5b196"/><rect x="407.9" y="785" width="5" height="26.5" fill="#f5c0a8"/><rect x="412.7" y="785" width="5" height="26.5" fill="#eecbba"/><rect x="417.4" y="785" width="5" height="26.5" fill="#e6d4cc"/><rect x="422.1" y="785" width="5" height="26.5" fill="#dddddd"/><rect x="426.9" y="785" width="5" height="26.5" fill="#d0d8e7"/><rect x="431.6" y="785" width="5" height="26.5" fill="#c2d4f1"/><rect x="436.3" y="785" width="5" height="26.5" fill="#b4cdf9"/><rect x="441.1" y="785" width="5" height="26.5" fill="#a4c1fb"/><rect x="445.8" y="785" width="5" height="26.5" fill="#95b6fd"/><rect x="450.6" y="785" width="5" height="26.5" fill="#85a8fa"/><rect x="455.3" y="785" width="5" height="26.5" fill="#7697f3"/><rect x="460" y="785" width="5" height="26.5" fill="#6686ec"/><rect x="464.8" y="785" width="5" height="26.5" fill="#5773df"/><rect x="469.5" y="785" width="5" height="26.5" fill="#4960cf"/><rect x="474.3" y="785" width="5" height="26.5" fill="#3b4cc0"/><g font-size="3.2" fill="#222" font-weight="bold"><text transform="translate(373.5 801.5) rotate(-90)" textLength="6" lengthAdjust="spacingAndGlyphs">2021</text><text transform="translate(378.2 801.5) rotate(-90)" textLength="6" lengthAdjust="spacingAndGlyphs">2020</text><text transform="translate(382.9 801.5) rotate(-90)" textLength="6" lengthAdjust="spacingAndGlyphs">2019</text><text transform="translate(387.7 801.5) rotate(-90)" textLength="6" lengthAdjust="spacingAndGlyphs">2018</text><text transform="translate(392.4 801.5) rotate(-90)" textLength="6" lengthAdjust="spacingAndGlyphs">2017</text><text transform="translate(397.2 801.5) rotate(-90)" textLength="6" lengthAdjust="spacingAndGlyphs">2016</text><text transform="translate(401.9 801.5) rotate(-90)" textLength="6" lengthAdjust="spacingAndGlyphs">2015</text><text transform="translate(406.6 801.5) rotate(-90)" textLength="6" lengthAdjust="spacingAndGlyphs">2014</text><text transform="translate(411.4 801.5) rotate(-90)" textLength="6" lengthAdjust="spacingAndGlyphs">2013</text><text transform="translate(416.1 801.5) rotate(-90)" textLength="6" lengthAdjust="spacingAndGlyphs">2012</text><text transform="translate(420.9 801.5) rotate(-90)" textLength="6" lengthAdjust="spacingAndGlyphs">2011</text><text transform="translate(425.6 801.5) rotate(-90)" textLength="6" lengthAdjust="spacingAndGlyphs">2010</text><text transform="translate(430.3 801.5) rotate(-90)" textLength="6" lengthAdjust="spacingAndGlyphs">2009</text><text transform="translate(435.1 801.5) rotate(-90)" textLength="6" lengthAdjust="spacingAndGlyphs">2008</text><text transform="translate(439.8 801.5) rotate(-90)" textLength="6" lengthAdjust="spacingAndGlyphs">2007</text><text transform="translate(444.6 801.5) rotate(-90)" textLength="6" lengthAdjust="spacingAndGlyphs">2006</text><text transform="translate(449.3 801.5) rotate(-90)" textLength="6" lengthAdjust="spacingAndGlyphs">2005</text><text transform="translate(454 801.5) rotate(-90)" textLength="6" lengthAdjust="spacingAndGlyphs">2004</text><text transform="translate(458.8 801.5) rotate(-90)" textLength="6" lengthAdjust="spacingAndGlyphs">2003</text><text transform="translate(463.5 801.5) rotate(-90)" textLength="6" lengthAdjust="spacingAndGlyphs">2002</text><text transform="translate(468.3 801.5) rotate(-90)" textLength="6" lengthAdjust="spacingAndGlyphs">2001</text><text transform="translate(473 801.5) rotate(-90)" textLength="6" lengthAdjust="spacingAndGlyphs">2000</text><text transform="translate(477.7 801.5) rotate(-90)" textLength="6" lengthAdjust="spacingAndGlyphs">1999</text></g>
<rect x="903.5" y="785" width="5" height="26.5" fill="#b40426"/><rect x="908.2" y="785" width="5" height="26.5" fill="#c32534"/><rect x="913" y="785" width="5" height="26.5" fill="#d34742"/><rect x="917.7" y="785" width="5" height="26.5" fill="#e06551"/><rect x="922.5" y="785" width="5" height="26.5" fill="#e87a62"/><rect x="927.2" y="785" width="5" height="26.5" fill="#f08f73"/><rect x="931.9" y="785" width="5" height="26.5" fill="#f4a284"/><rect x="936.7" y="785" width="5" height="26.5" fill="#f5b196"/><rect x="941.4" y="785" width="5" height="26.5" fill="#f5c0a8"/><rect x="946.2" y="785" width="5" height="26.5" fill="#eecbba"/><rect x="950.9" y="785" width="5" height="26.5" fill="#e6d4cc"/><rect x="955.6" y="785" width="5" height="26.5" fill="#dddddd"/><rect x="960.4" y="785" width="5" height="26.5" fill="#d0d8e7"/><rect x="965.1" y="785" width="5" height="26.5" fill="#c2d4f1"/><rect x="969.8" y="785" width="5" height="26.5" fill="#b4cdf9"/><rect x="974.6" y="785" width="5" height="26.5" fill="#a4c1fb"/><rect x="979.3" y="785" width="5" height="26.5" fill="#95b6fd"/><rect x="984.1" y="785" width="5" height="26.5" fill="#85a8fa"/><rect x="988.8" y="785" width="5" height="26.5" fill="#7697f3"/><rect x="993.5" y="785" width="5" height="26.5" fill="#6686ec"/><rect x="998.3" y="785" width="5" height="26.5" fill="#5773df"/><rect x="1003" y="785" width="5" height="26.5" fill="#4960cf"/><rect x="1007.8" y="785" width="5" height="26.5" fill="#3b4cc0"/><g font-size="3.2" fill="#222" font-weight="bold"><text transform="translate(907 801.5) rotate(-90)" textLength="6" lengthAdjust="spacingAndGlyphs">2021</text><text transform="translate(911.7 801.5) rotate(-90)" textLength="6" lengthAdjust="spacingAndGlyphs">2020</text><text transform="translate(916.4 801.5) rotate(-90)" textLength="6" lengthAdjust="spacingAndGlyphs">2019</text><text transform="translate(921.2 801.5) rotate(-90)" textLength="6" lengthAdjust="spacingAndGlyphs">2018</text><text transform="translate(925.9 801.5) rotate(-90)" textLength="6" lengthAdjust="spacingAndGlyphs">2017</text><text transform="translate(930.7 801.5) rotate(-90)" textLength="6" lengthAdjust="spacingAndGlyphs">2016</text><text transform="translate(935.4 801.5) rotate(-90)" textLength="6" lengthAdjust="spacingAndGlyphs">2015</text><text transform="translate(940.1 801.5) rotate(-90)" textLength="6" lengthAdjust="spacingAndGlyphs">2014</text><text transform="translate(944.9 801.5) rotate(-90)" textLength="6" lengthAdjust="spacingAndGlyphs">2013</text><text transform="translate(949.6 801.5) rotate(-90)" textLength="6" lengthAdjust="spacingAndGlyphs">2012</text><text transform="translate(954.4 801.5) rotate(-90)" textLength="6" lengthAdjust="spacingAndGlyphs">2011</text><text transform="translate(959.1 801.5) rotate(-90)" textLength="6" lengthAdjust="spacingAndGlyphs">2010</text><text transform="translate(963.8 801.5) rotate(-90)" textLength="6" lengthAdjust="spacingAndGlyphs">2009</text><text transform="translate(968.6 801.5) rotate(-90)" textLength="6" lengthAdjust="spacingAndGlyphs">2008</text><text transform="translate(973.3 801.5) rotate(-90)" textLength="6" lengthAdjust="spacingAndGlyphs">2007</text><text transform="translate(978.1 801.5) rotate(-90)" textLength="6" lengthAdjust="spacingAndGlyphs">2006</text><text transform="translate(982.8 801.5) rotate(-90)" textLength="6" lengthAdjust="spacingAndGlyphs">2005</text><text transform="translate(987.5 801.5) rotate(-90)" textLength="6" lengthAdjust="spacingAndGlyphs">2004</text><text transform="translate(992.3 801.5) rotate(-90)" textLength="6" lengthAdjust="spacingAndGlyphs">2003</text><text transform="translate(997 801.5) rotate(-90)" textLength="6" lengthAdjust="spacingAndGlyphs">2002</text><text transform="translate(1001.8 801.5) rotate(-90)" textLength="6" lengthAdjust="spacingAndGlyphs">2001</text><text transform="translate(1006.5 801.5) rotate(-90)" textLength="6" lengthAdjust="spacingAndGlyphs">2000</text><text transform="translate(1011.2 801.5) rotate(-90)" textLength="6" lengthAdjust="spacingAndGlyphs">1999</text></g>
<text transform="translate(512 817.5) rotate(-90)" font-size="8.3" fill="#9a9a9a" textLength="40" lengthAdjust="spacingAndGlyphs">CiteSpace</text><rect x="514.5" y="782" width="1.8" height="30" fill="rgb(185,185,185)"/><rect x="516.2" y="784.5" width="1.8" height="25" fill="rgb(194,194,194)"/><rect x="517.9" y="787" width="1.8" height="20" fill="rgb(203,203,203)"/><rect x="519.6" y="789.5" width="1.8" height="15" fill="rgb(212,212,212)"/><rect x="521.3" y="792" width="1.8" height="10" fill="rgb(221,221,221)"/><rect x="523" y="794.5" width="1.8" height="5" fill="rgb(230,230,230)"/><path d="M525 774 Q519 797 525 820 M526.5 776 Q521 797 526.5 820" fill="none" stroke="#aaa" stroke-width="0.6"/>
<text transform="translate(1045.5 817.5) rotate(-90)" font-size="8.3" fill="#9a9a9a" textLength="40" lengthAdjust="spacingAndGlyphs">CiteSpace</text><rect x="1048" y="782" width="1.8" height="30" fill="rgb(185,185,185)"/><rect x="1049.7" y="784.5" width="1.8" height="25" fill="rgb(194,194,194)"/><rect x="1051.4" y="787" width="1.8" height="20" fill="rgb(203,203,203)"/><rect x="1053.1" y="789.5" width="1.8" height="15" fill="rgb(212,212,212)"/><rect x="1054.8" y="792" width="1.8" height="10" fill="rgb(221,221,221)"/><rect x="1056.5" y="794.5" width="1.8" height="5" fill="rgb(230,230,230)"/><path d="M1058.5 774 Q1052.5 797 1058.5 820 M1060 776 Q1054.5 797 1060 820" fill="none" stroke="#aaa" stroke-width="0.6"/>
<g font-family="'Liberation Serif',serif" font-weight="bold" font-size="44" fill="#000">
<text transform="translate(52 851) rotate(-90)">a</text>
<text transform="translate(586 856) rotate(-90)">b</text>
<text transform="translate(1118.5 851) rotate(-90)">c</text>
</g>
<g fill="none" stroke-width="0.55">
<path stroke="#d05c5e" stroke-opacity="0.36" d="M660 737Q509.9 493.5 660 250M660 640.5Q541.5 445.2 660 250M660 737Q553.1 518 660 299M660 687Q540.8 493 660 299M660 640.5Q546.4 475.8 660 311M660 737Q518.2 524 660 311M660 687Q544.9 505 660 323M660 712Q549.7 517.5 660 323M660 737Q525.6 542 660 347M660 737Q522.5 542 660 347M660 687Q569.5 523.2 660 359.5M660 737Q534.8 548.2 660 359.5M660 687Q565.2 529.5 660 372M660 737Q544.6 554.5 660 372M660 737Q548.9 566.5 660 396M660 712Q571.5 554 660 396M660 687Q574.6 553.8 660 420.5M660 737Q550.5 578.8 660 420.5M660 640.5Q597.5 536.5 660 432.5M660 712Q562.9 572.2 660 432.5M660 640.5Q598.3 554.8 660 469M660 737Q590.8 603 660 469M660 737Q571.3 609 660 481M660 737Q577.9 609 660 481M660 712Q597.3 603 660 494M660 640.5Q611.3 567.2 660 494M660 737Q605.7 627.5 660 518M660 712Q606.4 615 660 518M660 737Q592.3 633.5 660 530M660 640.5Q626.2 585.2 660 530M660 737Q591.6 639.5 660 542M660 737Q599.5 639.5 660 542M660 737Q612.2 645.5 660 554M660 712Q611.1 633 660 554M660 712Q608.1 639.2 660 566.5M660 737Q605 651.8 660 566.5M660 687Q623.2 633 660 579M660 737Q616 658 660 579M660 737Q609.2 664 660 591M660 737Q615.4 664 660 591M660 640.5Q648.2 621.8 660 603M660 737Q624 670 660 603M660 737Q628.3 672.5 660 608M660 737Q622.1 672.5 660 608M660 712Q635.4 676.2 660 640.5M660 737Q629.3 688.8 660 640.5M660 737Q632.1 694.5 660 652M660 737Q642.1 700.5 660 664M660 712Q648.1 688 660 664M660 712Q648.5 691.5 660 671M660 737Q644 706.5 660 676M660 737Q641.4 706.5 660 676M660 737Q646.1 712 660 687M660 299Q612.1 408.5 660 518M660 299Q559.9 518 660 737M660 608Q636.3 544.5 660 481M660 676Q590.5 493.5 660 311M660 608Q621.5 672.5 660 737M660 671Q625.7 612.5 660 554M660 250Q645.7 274.5 660 299M660 603Q595.7 463 660 323M660 608Q633.4 538.5 660 469M660 432.5Q643.1 475.2 660 518M660 359.5Q582 500 660 640.5M660 700Q645.4 670.2 660 640.5M660 432.5Q623.6 520.2 660 608M660 554Q623.9 620.5 660 687M660 591Q628 655.7 660 720.4M660 652Q643.3 609.2 660 566.5M660 250Q576.1 468.5 660 687M660 652Q594.4 542.2 660 432.5M660 530Q621.8 600.5 660 671M660 359.5Q644.6 329.2 660 299M660 396Q642.1 359.5 660 323M660 518Q652.2 499.5 660 481M660 652Q596.7 542.2 660 432.5M660 469Q622.2 384 660 299M660 542Q609.2 627.2 660 712.4M660 737Q603.9 627.5 660 518M660 720.4Q615.7 619.2 660 518M660 542Q684.4 481.2 721.5 420.5M660 591Q683.1 548.2 721.5 505.5M660 687Q681.9 657 721.5 627M660 712Q677.9 584.5 721.5 457M660 542Q675.5 481.2 721.5 420.5M660 640.5Q683.9 579.2 721.5 518M660 737Q677 469.2 783.3 201.5"/>
<path stroke="#c9b27a" stroke-opacity="0.34" d="M660 737Q670.6 542 721.5 347M660 687Q688.1 663.8 721.5 640.5M660 640.5Q668.6 567.2 721.5 494M660 687Q650.9 541.5 721.5 396M660 542Q671.6 469 721.5 396M721.5 712Q608.9 493 721.5 274M721.5 700Q668.4 487 721.5 274M721.5 649Q640.7 474 721.5 299M721.5 745Q624.9 522 721.5 299M721.5 745Q641 534 721.5 323M721.5 745Q657.2 534 721.5 323M721.5 712Q640.5 529.5 721.5 347M721.5 745Q671 546 721.5 347M721.5 700Q637.7 527.5 721.5 355M721.5 745Q668.1 550 721.5 355M721.5 736Q648.6 547.8 721.5 359.5M721.5 745Q675.1 552.2 721.5 359.5M721.5 649Q668.7 522.5 721.5 396M721.5 745Q653 570.5 721.5 396M721.5 745Q644.4 582.8 721.5 420.5M721.5 700Q650.5 560.2 721.5 420.5M721.5 745Q644.7 595 721.5 445M721.5 700Q660.4 572.5 721.5 445M721.5 649Q691.1 553 721.5 457M721.5 745Q679.8 601 721.5 457M721.5 688Q693.1 578.5 721.5 469M721.5 745Q686.7 607 721.5 469M721.5 745Q674.7 613 721.5 481M721.5 745Q669.2 613 721.5 481M721.5 700Q696.5 597 721.5 494M721.5 688Q679.5 591 721.5 494M721.5 736Q676.1 620.8 721.5 505.5M721.5 688Q682 596.8 721.5 505.5M721.5 688Q691.1 603 721.5 518M721.5 712Q683.6 615 721.5 518M721.5 712Q696.2 639.2 721.5 566.5M721.5 745Q690.4 655.8 721.5 566.5M721.5 712Q691.8 651.5 721.5 591M721.5 745Q689.3 668 721.5 591M721.5 649Q711.5 626 721.5 603M721.5 688Q702.6 645.5 721.5 603M721.5 649Q714.3 632 721.5 615M721.5 745Q704.3 680 721.5 615M721.5 745Q699.6 683 721.5 621M721.5 745Q696.9 683 721.5 621M721.5 736Q701.5 681.5 721.5 627M721.5 700Q706.8 663.5 721.5 627M721.5 736Q703.2 688.2 721.5 640.5M721.5 745Q700.3 692.8 721.5 640.5M721.5 712Q706.7 680.5 721.5 649M721.5 712Q716.2 700 721.5 688M721.5 745Q714.6 728.5 721.5 712M721.5 359.5Q735 490.2 783.3 621"/>
<path stroke="#a8c060" stroke-opacity="0.32" d="M660 737Q715.7 706.5 783.3 676M660 737Q662.1 522 783.3 307M783.3 710.5Q685 456 783.3 201.5M783.3 687.7Q692.5 444.6 783.3 201.5M783.3 664Q726.7 445 783.3 226M783.3 722Q671.2 474 783.3 226M783.3 687.7Q698.5 468.9 783.3 250M783.3 664Q686.5 457 783.3 250M783.3 664Q725.6 460 783.3 256M783.3 722Q684.2 489 783.3 256M783.3 722Q707.4 492.2 783.3 262.5M783.3 722Q704.9 492.2 783.3 262.5M783.3 700Q707.7 487 783.3 274M783.3 722Q685.5 498 783.3 274M783.3 700Q711.5 490.2 783.3 280.5M783.3 722Q689.3 501.2 783.3 280.5M783.3 722Q703.4 504.2 783.3 286.5M783.3 676Q731.8 481.2 783.3 286.5M783.3 700Q679.2 499.5 783.3 299M783.3 676Q701.4 487.5 783.3 299M783.3 710.5Q693.6 508.8 783.3 307M783.3 722Q723.4 514.5 783.3 307M783.3 722Q733.6 516.5 783.3 311M783.3 722Q726.5 516.5 783.3 311M783.3 710.5Q708 528.8 783.3 347M783.3 664Q722 505.5 783.3 347M783.3 700Q741.6 529.8 783.3 359.5M783.3 676Q736.4 517.8 783.3 359.5M783.3 676Q721.7 524 783.3 372M783.3 722Q726.3 547 783.3 372M783.3 722Q702.3 559 783.3 396M783.3 676Q739.7 536 783.3 396M783.3 676Q749.4 548.2 783.3 420.5M783.3 710.5Q722.7 565.5 783.3 420.5M783.3 722Q743.4 577.2 783.3 432.5M783.3 664Q724.5 548.2 783.3 432.5M783.3 676Q738 585 783.3 494M783.3 687.7Q740.6 590.9 783.3 494M783.3 700Q760.4 609 783.3 518M783.3 687.7Q745 602.9 783.3 518M783.3 700Q750 621 783.3 542M783.3 722Q741.3 632 783.3 542M783.3 687.7Q770.7 651.4 783.3 615M783.3 664Q773.5 639.5 783.3 615M783.3 664Q777.8 642.5 783.3 621M783.3 687.7Q773.4 654.4 783.3 621M783.3 722Q761.8 674.5 783.3 627M783.3 722Q766.9 674.5 783.3 627M783.3 722Q772.3 693 783.3 664M783.3 700Q774.4 682 783.3 664M783.3 722Q774 699 783.3 676M783.3 722Q774.8 699 783.3 676M783.3 710.5Q779.2 699.1 783.3 687.7M783.3 722Q777.9 711 783.3 700M721.5 396Q738.8 329.2 783.3 262.5M721.5 469Q742.7 408 783.3 347M721.5 420.5Q740.2 365.8 783.3 311M721.5 359.5Q740.3 307.8 783.3 256M721.5 687.7Q731.3 572.4 783.3 457M721.5 664Q715.4 505.5 783.3 347M721.5 621Q731.3 490.2 783.3 359.5M721.5 299Q746.1 262.5 783.3 226M721.5 700Q746.3 657.5 783.3 615M721.5 736Q737.1 675.5 783.3 615M721.5 566.5Q740.4 436.8 783.3 307M721.5 347Q740.9 301.5 783.3 256M721.5 347Q745.3 304.8 783.3 262.5M721.5 603Q747.7 548.5 783.3 494M721.5 518Q741.3 402.2 783.3 286.5M783.3 280.5Q794.3 374.8 845 469M783.3 359.5Q826.7 444.8 907 530"/>
<path stroke="#7fcf7f" stroke-opacity="0.4" d="M660 712Q714.4 523.8 845 335.5M660 687Q708.6 505 845 323M845 749Q738.3 499.5 845 250M845 749Q733.4 499.5 845 250M845 712Q735.7 493 845 274M845 749Q768.5 511.5 845 274M845 676Q764.6 499.5 845 323M845 712Q791.9 517.5 845 323M845 664Q779.3 499.8 845 335.5M845 749Q794.5 542.2 845 335.5M845 736Q752.1 541.5 845 347M845 749Q784.6 548 845 347M845 736Q756.4 547.8 845 359.5M845 749Q787.4 554.2 845 359.5M845 676Q795.2 572.5 845 469M845 736Q792.4 602.5 845 469M845 712Q785 596.5 845 481M845 749Q782.2 615 845 481M845 749Q814.6 657.8 845 566.5M845 676Q823.9 621.2 845 566.5M845 749Q804.2 670 845 591M845 749Q820 670 845 591M845 670Q836 642.5 845 615M845 749Q824.1 682 845 615M845 670Q836.8 648.5 845 627M845 712Q829.8 669.5 845 627M845 749Q831.2 706.5 845 664M845 712Q834.9 691 845 670M845 749Q832.7 709.5 845 670M845 749Q835.7 712.5 845 676M845 749Q835.7 730.5 845 712M783.3 494Q795.3 384 845 274M783.3 469Q803 408 845 347M783.3 481Q794.7 371.8 845 262.5M783.3 335.5Q807.6 311 845 286.5M783.3 469Q811.5 444.8 845 420.5M783.3 676Q799.3 517.8 845 359.5M783.3 299Q810.4 274.5 845 250M783.3 749Q795 645.5 845 542M783.3 323Q810.5 289.5 845 256M783.3 749Q797.1 517.8 845 286.5M783.3 323Q809.1 304.8 845 286.5M783.3 469Q788.4 347.5 845 226M783.3 700Q806.8 645.5 845 591M783.3 518Q809.2 438.8 845 359.5M783.3 670Q779.4 521 845 372M783.3 749Q791.5 505.8 845 262.5M783.3 627Q771.7 475 845 323M783.3 712Q781.9 469 845 226M783.3 323Q806.9 286.5 845 250M783.3 710.5Q804.4 668.8 845 627M783.3 627Q769.5 438.5 845 250M783.3 712Q778.8 566.2 845 420.5M721.5 457Q762.8 365.5 845 274M721.5 736Q753.9 547.8 845 359.5M721.5 736Q755.5 596.5 845 457M721.5 566.5Q753.2 444.8 845 323M721.5 469Q778.8 444.8 845 420.5M721.5 566.5Q761.9 420.2 845 274M721.5 712Q777.6 688 845 664M845 250Q870 286.5 907 323M845 359.5Q900.2 402.2 969 445"/>
<path stroke="#74c4a8" stroke-opacity="0.42" d="M907 530Q849.5 414.5 907 299M907 663.5Q834.9 481.2 907 299M907 688Q862.8 505.5 907 323M907 554Q877.1 438.5 907 323M907 554Q878.2 463 907 372M907 688Q833.9 530 907 372M907 542Q875 469 907 396M907 530Q875.9 463 907 396M907 663.5Q852.2 554.2 907 445M907 640Q871.5 542.5 907 445M907 688Q882.3 603 907 518M907 688Q884.5 607 907 526M907 688Q867.6 607 907 526M907 663.5Q890.7 596.8 907 530M907 688Q872.1 609 907 530M907 688Q885 615 907 542M907 663.5Q880.2 602.8 907 542M907 688Q900.3 664 907 640M907 688Q895.1 664 907 640M907 688Q903.4 675.8 907 663.5M845 615Q869.4 570.5 907 526M845 396Q867.1 359.5 907 323M845 591Q857.6 445 907 299M845 670Q868.7 612 907 554M845 518Q869.3 432.5 907 347M845 664Q862.9 597 907 530M845 591Q873.1 554.5 907 518M845 566.5Q855.2 469.2 907 372M845 676Q860.6 601 907 526M845 481Q867.5 402 907 323M845 526Q863.3 400 907 274M845 566.5Q869.4 542.2 907 518M907 640Q929.5 675.8 969 711.5M783.3 627Q833.2 536 907 445"/>
<path stroke="#8fd4dc" stroke-opacity="0.4" d="M969 750Q884.2 512 969 274M969 750Q868 512 969 274M969 719Q883.5 521 969 323M969 746Q909.1 534.5 969 323M969 750Q924.5 573 969 396M969 750Q885.1 573 969 396M969 719Q902.6 582 969 445M969 711.5Q907.3 578.2 969 445M969 750Q931.1 634 969 518M969 750Q932.8 634 969 518M969 750Q937.9 640 969 530M969 711.5Q926.9 620.8 969 530M969 711.5Q925.5 626.8 969 542M969 737Q936.7 639.5 969 542M969 750Q939.4 652 969 554M969 719Q936.6 636.5 969 554M969 750Q939.6 670.5 969 591M969 711.5Q942.3 651.2 969 591M969 737Q948.1 688.5 969 640M969 723Q957.7 681.5 969 640M969 723Q952.7 684.5 969 646M969 750Q953.5 698 969 646M969 750Q953.3 701 969 652M969 750Q952.5 701 969 652M969 746Q963.9 728.8 969 711.5M969 750Q962.9 730.8 969 711.5M969 750Q964.4 734.5 969 719M969 746Q963.8 734.5 969 723M845 627Q901.7 578.5 969 530M845 712Q898.1 679 969 646M845 749Q881.3 645.5 969 542M845 711.5Q896.4 535.5 969 359.5M845 652Q895.2 609.2 969 566.5M845 749Q905.3 730.2 969 711.5M907 663.5Q930.5 627.2 969 591M907 746Q904.6 534.5 969 323M907 652Q915.6 548.5 969 445M907 737Q891.5 518 969 299M907 640Q920.2 542.5 969 445M907 640Q923.9 585 969 530M907 723Q935.7 705.5 969 688M907 372Q924.8 323 969 274M907 518Q928.4 481.5 969 445M907 542Q907.4 432.5 969 323M907 591Q925.6 481.5 969 372M907 750Q930.2 706.8 969 663.5M907 526Q922.6 461 969 396"/>
</g>
<line x1="660" y1="201" x2="660" y2="250" stroke="#e9a0a0" stroke-width="0.8" stroke-dasharray="1 1.2"/>
<line x1="660" y1="250" x2="660" y2="738" stroke="#cf4d4a" stroke-width="1.6"/>
<line x1="721.5" y1="201" x2="721.5" y2="274" stroke="#f3e3a0" stroke-width="0.8" stroke-dasharray="1 1.2"/>
<line x1="721.5" y1="274" x2="721.5" y2="738" stroke="#fff02a" stroke-width="2"/>
<line x1="783.3" y1="201" x2="783.3" y2="722" stroke="#fff02a" stroke-width="2"/>
<line x1="845" y1="201" x2="845" y2="250" stroke="#9fe89f" stroke-width="0.8" stroke-dasharray="1 1.2"/>
<line x1="845" y1="250" x2="845" y2="732" stroke="#2fe02f" stroke-width="2"/>
<line x1="907" y1="201" x2="907" y2="299" stroke="#9fe8e0" stroke-width="0.8" stroke-dasharray="1 1.2"/>
<line x1="907" y1="690" x2="907" y2="736" stroke="#9fe8e0" stroke-width="0.8" stroke-dasharray="1 1.2"/>
<line x1="907" y1="299" x2="907" y2="690" stroke="#2fe8c4" stroke-width="2"/>
<line x1="969" y1="201" x2="969" y2="274" stroke="#9fe8f0" stroke-width="0.8" stroke-dasharray="1 1.2"/>
<line x1="969" y1="274" x2="969" y2="734" stroke="#20f0ff" stroke-width="2"/>
<circle cx="660" cy="250" r="2" fill="#c52936"/>
<circle cx="660" cy="299" r="3" fill="#b40426"/><circle cx="660" cy="299" r="1.8" fill="#e26c56"/>
<circle cx="660" cy="311" r="1.8" fill="#eb8369"/>
<circle cx="660" cy="323" r="1.8" fill="#ef8c70"/>
<circle cx="660" cy="347" r="3" fill="#b40426"/><circle cx="660" cy="347" r="1.8" fill="#dc5c4b"/><circle cx="660" cy="347" r="0.9" fill="#f4ab8f"/>
<circle cx="660" cy="359.5" r="1.8" fill="#f29577"/>
<circle cx="660" cy="372" r="1.8" fill="#f49d7f"/>
<circle cx="660" cy="396" r="1.8" fill="#f5bfa7"/>
<circle cx="660" cy="420.5" r="2.2" fill="#f4c5af"/>
<circle cx="660" cy="432.5" r="1.8" fill="#f0c9b7"/>
<circle cx="660" cy="469" r="5.5" fill="#cf3f3f"/><circle cx="660" cy="469" r="4.1" fill="#dc5c4b"/><circle cx="660" cy="469" r="2.2" fill="#eb8369"/>
<circle cx="660" cy="481" r="1.8" fill="#ced8e8"/>
<circle cx="660" cy="494" r="1.5" fill="#f4ab8f"/>
<circle cx="660" cy="518" r="2" fill="#b3ccfa"/>
<circle cx="660" cy="530" r="1.5" fill="#f4ab8f"/>
<circle cx="660" cy="542" r="6" fill="#be1a2f"/><circle cx="660" cy="542" r="5.1" fill="#f0c9b7"/><circle cx="660" cy="542" r="4.2" fill="#dddddd"/><circle cx="660" cy="542" r="2.1" fill="#b3ccfa"/>
<circle cx="660" cy="554" r="1.5" fill="#ced8e8"/>
<circle cx="660" cy="566.5" r="3.5" fill="#d64e45"/><circle cx="660" cy="566.5" r="2.6" fill="#dddddd"/><circle cx="660" cy="566.5" r="1.2" fill="#8db0fe"/>
<circle cx="660" cy="579" r="2" fill="#7c9ef6"/>
<circle cx="660" cy="591" r="4" fill="#dddddd"/><circle cx="660" cy="591" r="2.4" fill="#b3ccfa"/><circle cx="660" cy="591" r="1" fill="#6b8bee"/>
<circle cx="660" cy="603" r="2.5" fill="#8db0fe"/>
<circle cx="660" cy="608" r="2" fill="#9ebdfc"/>
<circle cx="660" cy="640.5" r="6" fill="#f5b297"/><circle cx="660" cy="640.5" r="4.8" fill="#e7d3ca"/><circle cx="660" cy="640.5" r="3.3" fill="#c5d5ef"/><circle cx="660" cy="640.5" r="1.8" fill="#8db0fe"/>
<circle cx="660" cy="652" r="2" fill="#6b8bee"/>
<circle cx="660" cy="664" r="1.8" fill="#bfd3f3"/>
<circle cx="660" cy="671" r="2" fill="#8db0fe"/>
<circle cx="660" cy="676" r="2" fill="#6080e8"/>
<circle cx="660" cy="700" r="3" fill="#4b62d1"/>
<circle cx="660" cy="712.4" r="5.8" fill="#d64e45"/><circle cx="660" cy="712.4" r="4.9" fill="#f0c9b7"/><circle cx="660" cy="712.4" r="4.1" fill="#d7dbe1"/><circle cx="660" cy="712.4" r="2.6" fill="#9ebdfc"/><circle cx="660" cy="712.4" r="1.2" fill="#6080e8"/>
<circle cx="660" cy="720.4" r="3" fill="#6080e8"/>
<circle cx="721.5" cy="274" r="2.5" fill="#dc5c4b"/>
<circle cx="721.5" cy="299" r="2" fill="#e26c56"/>
<circle cx="721.5" cy="323" r="2" fill="#eb8369"/>
<circle cx="721.5" cy="347" r="3.5" fill="#ef8c70"/>
<circle cx="721.5" cy="355" r="2" fill="#f29577"/>
<circle cx="721.5" cy="359.5" r="1.8" fill="#f29577"/>
<circle cx="721.5" cy="396" r="1.8" fill="#f5b89f"/>
<circle cx="721.5" cy="420.5" r="1.8" fill="#f0c9b7"/>
<circle cx="721.5" cy="445" r="3" fill="#e87a61"/><circle cx="721.5" cy="445" r="1.5" fill="#f5b297"/>
<circle cx="721.5" cy="457" r="1.8" fill="#e1d9d5"/>
<circle cx="721.5" cy="469" r="1.8" fill="#e7d3ca"/>
<circle cx="721.5" cy="481" r="1.8" fill="#bfd3f3"/>
<circle cx="721.5" cy="494" r="1.8" fill="#ced8e8"/>
<circle cx="721.5" cy="505.5" r="1.8" fill="#bfd3f3"/>
<circle cx="721.5" cy="518" r="1.8" fill="#9ebdfc"/>
<circle cx="721.5" cy="566.5" r="2" fill="#7596f3"/>
<circle cx="721.5" cy="591" r="3" fill="#b40426"/><circle cx="721.5" cy="591" r="1.8" fill="#7c9ef6"/>
<circle cx="721.5" cy="603" r="2" fill="#7c9ef6"/>
<circle cx="721.5" cy="615" r="1.5" fill="#9ebdfc"/>
<circle cx="721.5" cy="621" r="1.5" fill="#9ebdfc"/>
<circle cx="721.5" cy="627" r="2" fill="#7c9ef6"/>
<circle cx="721.5" cy="640.5" r="5" fill="#f4a487"/><circle cx="721.5" cy="640.5" r="3" fill="#f4c5af"/>
<circle cx="721.5" cy="649" r="4" fill="#eb8369"/><circle cx="721.5" cy="649" r="3" fill="#f0c9b7"/><circle cx="721.5" cy="649" r="2" fill="#6b8bee"/>
<circle cx="721.5" cy="688" r="1.2" fill="#5a77e2"/>
<circle cx="721.5" cy="700" r="2" fill="#475dcd"/>
<circle cx="721.5" cy="712" r="1.8" fill="#dddddd"/>
<circle cx="783.3" cy="201.5" r="2" fill="#b40426"/>
<circle cx="783.3" cy="226" r="2" fill="#be1a2f"/>
<circle cx="783.3" cy="250" r="3" fill="#cf3f3f"/>
<circle cx="783.3" cy="256" r="2" fill="#b40426"/><circle cx="783.3" cy="256" r="1" fill="#e26c56"/>
<circle cx="783.3" cy="262.5" r="1.8" fill="#d64e45"/>
<circle cx="783.3" cy="274" r="3" fill="#d64e45"/>
<circle cx="783.3" cy="280.5" r="2.2" fill="#d64e45"/>
<circle cx="783.3" cy="286.5" r="1.8" fill="#dc5c4b"/>
<circle cx="783.3" cy="299" r="4" fill="#dc5c4b"/>
<circle cx="783.3" cy="307" r="3" fill="#eb8369"/>
<circle cx="783.3" cy="311" r="2.5" fill="#eb8369"/>
<circle cx="783.3" cy="347" r="3" fill="#b40426"/><circle cx="783.3" cy="347" r="1.8" fill="#d64e45"/><circle cx="783.3" cy="347" r="0.9" fill="#f4ab8f"/>
<circle cx="783.3" cy="359.5" r="1.8" fill="#f49d7f"/>
<circle cx="783.3" cy="372" r="1.8" fill="#f4a487"/>
<circle cx="783.3" cy="396" r="3.5" fill="#eb8369"/><circle cx="783.3" cy="396" r="2.1" fill="#f4ab8f"/>
<circle cx="783.3" cy="420.5" r="2.5" fill="#f5bfa7"/>
<circle cx="783.3" cy="432.5" r="1.8" fill="#f4c5af"/>
<circle cx="783.3" cy="494" r="1.8" fill="#b9d1f8"/>
<circle cx="783.3" cy="518" r="2.2" fill="#b3ccfa"/>
<circle cx="783.3" cy="542" r="2.2" fill="#97b8fd"/>
<circle cx="783.3" cy="615" r="2.5" fill="#c5d5ef"/><circle cx="783.3" cy="615" r="1.2" fill="#6b8bee"/>
<circle cx="783.3" cy="621" r="2.5" fill="#7596f3"/>
<circle cx="783.3" cy="627" r="1.8" fill="#7c9ef6"/>
<circle cx="783.3" cy="664" r="1.8" fill="#d64e45"/><circle cx="783.3" cy="664" r="0.9" fill="#7c9ef6"/>
<circle cx="783.3" cy="676" r="2" fill="#6b8bee"/>
<circle cx="783.3" cy="687.7" r="5.5" fill="#c52936"/><circle cx="783.3" cy="687.7" r="4.4" fill="#e26c56"/><circle cx="783.3" cy="687.7" r="3" fill="#9ebdfc"/><circle cx="783.3" cy="687.7" r="1.6" fill="#6b8bee"/>
<circle cx="783.3" cy="700" r="2" fill="#5a77e2"/>
<circle cx="845" cy="250" r="2" fill="#c52936"/>
<circle cx="845" cy="274" r="1.8" fill="#d64e45"/>
<circle cx="845" cy="323" r="3.5" fill="#dc5c4b"/>
<circle cx="845" cy="335.5" r="1.5" fill="#f49a7b"/>
<circle cx="845" cy="347" r="2.5" fill="#dc5c4b"/><circle cx="845" cy="347" r="1.2" fill="#f4ab8f"/>
<circle cx="845" cy="359.5" r="1.8" fill="#f49d7f"/>
<circle cx="845" cy="469" r="1.8" fill="#eb8369"/><circle cx="845" cy="469" r="0.9" fill="#f0c9b7"/>
<circle cx="845" cy="481" r="1.8" fill="#d7dbe1"/>
<circle cx="845" cy="566.5" r="1.8" fill="#7c9ef6"/>
<circle cx="845" cy="591" r="4.5" fill="#d7dbe1"/><circle cx="845" cy="591" r="3.4" fill="#9ebdfc"/><circle cx="845" cy="591" r="1.8" fill="#83a5f9"/>
<circle cx="845" cy="615" r="2.2" fill="#7c9ef6"/>
<circle cx="845" cy="627" r="1.8" fill="#7c9ef6"/>
<circle cx="845" cy="664" r="1.8" fill="#bfd3f3"/>
<circle cx="845" cy="670" r="3" fill="#be1a2f"/><circle cx="845" cy="670" r="2" fill="#f0c9b7"/><circle cx="845" cy="670" r="1" fill="#6080e8"/>
<circle cx="845" cy="676" r="1.5" fill="#f4ab8f"/>
<circle cx="845" cy="712" r="2.5" fill="#d7dbe1"/><circle cx="845" cy="712" r="1.2" fill="#9ebdfc"/><circle cx="845" cy="712" r="0.5" fill="#4b62d1"/>
<circle cx="845" cy="749" r="3.5" fill="#e9d1c6"/><circle cx="845" cy="749" r="2.4" fill="#f0c9b7"/><circle cx="845" cy="749" r="1.1" fill="#dddddd"/>
<circle cx="907" cy="299" r="2" fill="#dc5c4b"/>
<circle cx="907" cy="323" r="1.8" fill="#e26c56"/>
<circle cx="907" cy="372" r="1.8" fill="#f4ab8f"/>
<circle cx="907" cy="396" r="2.5" fill="#d64e45"/><circle cx="907" cy="396" r="1.2" fill="#f49a7b"/>
<circle cx="907" cy="445" r="1.8" fill="#dddddd"/>
<circle cx="907" cy="518" r="3" fill="#cf3f3f"/><circle cx="907" cy="518" r="2.1" fill="#e7d3ca"/><circle cx="907" cy="518" r="1" fill="#bfd3f3"/>
<circle cx="907" cy="526" r="2" fill="#b9d1f8"/>
<circle cx="907" cy="530" r="2" fill="#b3ccfa"/>
<circle cx="907" cy="542" r="1.8" fill="#f5b89f"/>
<circle cx="907" cy="554" r="1.5" fill="#b3ccfa"/>
<circle cx="907" cy="640" r="1.5" fill="#bfd3f3"/>
<circle cx="907" cy="688" r="3.5" fill="#e1d9d5"/><circle cx="907" cy="688" r="2.4" fill="#d7dbe1"/><circle cx="907" cy="688" r="1.1" fill="#546fdb"/>
<circle cx="969" cy="274" r="2" fill="#d64e45"/>
<circle cx="969" cy="323" r="1.8" fill="#dc5c4b"/>
<circle cx="969" cy="396" r="1.8" fill="#b40426"/><circle cx="969" cy="396" r="0.9" fill="#eb8369"/>
<circle cx="969" cy="445" r="1.8" fill="#e1d9d5"/>
<circle cx="969" cy="518" r="3.5" fill="#cf3f3f"/><circle cx="969" cy="518" r="2.6" fill="#e1d9d5"/><circle cx="969" cy="518" r="1.4" fill="#ced8e8"/>
<circle cx="969" cy="530" r="1.5" fill="#b9d1f8"/>
<circle cx="969" cy="542" r="3" fill="#dc5c4b"/>
<circle cx="969" cy="554" r="1.8" fill="#b3ccfa"/>
<circle cx="969" cy="591" r="1.8" fill="#8db0fe"/>
<circle cx="969" cy="640" r="2.5" fill="#ced8e8"/><circle cx="969" cy="640" r="1.2" fill="#7c9ef6"/>
<circle cx="969" cy="646" r="1.8" fill="#f4c5af"/>
<circle cx="969" cy="652" r="2" fill="#6080e8"/>
<circle cx="969" cy="711.5" r="4.5" fill="#6788ec"/><circle cx="969" cy="711.5" r="2.5" fill="#546fdb"/>
<circle cx="969" cy="719" r="2.2" fill="#4b62d1"/>
<circle cx="969" cy="723" r="2" fill="#4b62d1"/>
<circle cx="969" cy="737" r="5" fill="#c52936"/><circle cx="969" cy="737" r="4.2" fill="#e7d3ca"/><circle cx="969" cy="737" r="3" fill="#9ebdfc"/><circle cx="969" cy="737" r="1.5" fill="#7c9ef6"/>
<circle cx="969" cy="746" r="2.5" fill="#c52936"/><circle cx="969" cy="746" r="1.5" fill="#f0c9b7"/>
<circle cx="969" cy="750" r="2" fill="#4b62d1"/>
<circle cx="660" cy="686.6" r="6.6" fill="#ff00e0"/>
<circle cx="660" cy="686.6" r="5.1" fill="#eb8369"/><circle cx="660" cy="686.6" r="3.1" fill="#f4ab8f"/>
<circle cx="659.9" cy="736.4" r="11" fill="#ff00e0"/>
<circle cx="659.9" cy="736.4" r="9.4" fill="#f49d7f"/><circle cx="659.9" cy="736.4" r="8" fill="#f5bfa7"/><circle cx="659.9" cy="736.4" r="6.6" fill="#e1d9d5"/><circle cx="659.9" cy="736.4" r="4.7" fill="#bfd3f3"/>
<circle cx="659.9" cy="739" r="9" fill="#ff00e0"/>
<circle cx="659.9" cy="739" r="7.8" fill="#f4ab8f"/><circle cx="659.9" cy="739" r="6.2" fill="#e7d3ca"/><circle cx="659.9" cy="739" r="4.7" fill="#ced8e8"/>
<circle cx="721.4" cy="737.5" r="7.7" fill="#ff00e0"/>
<circle cx="721.4" cy="737.5" r="5.7" fill="#f4ab8f"/><circle cx="721.4" cy="737.5" r="4.3" fill="#dddddd"/><circle cx="721.4" cy="737.5" r="2.9" fill="#a5c2fb"/><circle cx="721.4" cy="737.5" r="1.4" fill="#7c9ef6"/>
<circle cx="721.4" cy="745.3" r="6.6" fill="#ff00e0"/>
<circle cx="721.4" cy="745.3" r="5" fill="#ced8e8"/><circle cx="721.4" cy="745.3" r="3.8" fill="#a5c2fb"/><circle cx="721.4" cy="745.3" r="2.5" fill="#7c9ef6"/><circle cx="721.4" cy="745.3" r="1.2" fill="#5a77e2"/>
<circle cx="783.4" cy="712" r="7.2" fill="#ff00e0"/>
<circle cx="783.4" cy="712" r="5.7" fill="#d64e45"/><circle cx="783.4" cy="712" r="4.3" fill="#ef8c70"/><circle cx="783.4" cy="712" r="2.6" fill="#f4c5af"/>
<circle cx="845" cy="736" r="8.5" fill="#ff00e0"/>
<circle cx="845" cy="736" r="6" fill="#cf3f3f"/><circle cx="845" cy="736" r="4.5" fill="#e26c56"/><circle cx="845" cy="736" r="2.7" fill="#f49a7b"/>
<circle cx="907" cy="663.5" r="3" fill="#ff00e0"/>
<circle cx="907" cy="663.5" r="1.5" fill="#ef8c70"/>
<circle cx="783.4" cy="722" r="5.5" fill="#b40426"/><circle cx="783.4" cy="722" r="4.7" fill="#e26c56"/><circle cx="783.4" cy="722" r="3.3" fill="#9ebdfc"/><circle cx="783.4" cy="722" r="1.9" fill="#6b8bee"/>
<circle cx="659.9" cy="745.3" r="6.5" fill="#cc383c"/><circle cx="659.9" cy="745.3" r="5.5" fill="#eb8369"/><circle cx="659.9" cy="745.3" r="4.4" fill="#dddddd"/><circle cx="659.9" cy="745.3" r="3.2" fill="#9ebdfc"/><circle cx="659.9" cy="745.3" r="1.9" fill="#4b62d1"/>
<circle cx="721.4" cy="749" r="2.2" fill="#4b62d1"/>
<g font-size="6.2" font-weight="bold" stroke-width="0.12">
<text transform="translate(660.2 172.8) rotate(-90)" fill="#a8242a" stroke="#a8242a" textLength="84.8" lengthAdjust="spacingAndGlyphs">#0 Epidemiology and Burden</text>
<text transform="translate(721.8 172.8) rotate(-90)" fill="#b07e1a" stroke="#b07e1a" textLength="120.8" lengthAdjust="spacingAndGlyphs">#1 Neurobiological and Genetic Research</text>
<text transform="translate(784.2 172.8) rotate(-90)" fill="#8ab020" stroke="#8ab020" textLength="102.8" lengthAdjust="spacingAndGlyphs">#2 Clinical Research and Treatment</text>
<text transform="translate(845.2 172.8) rotate(-90)" fill="#22b030" stroke="#22b030" textLength="147.8" lengthAdjust="spacingAndGlyphs">#3 Mechanistic Studies of Key Therapeutic Targets</text>
<text transform="translate(907.2 172.8) rotate(-90)" fill="#22a060" stroke="#22a060" textLength="169.3" lengthAdjust="spacingAndGlyphs">#4 Central Nervous System and Pain Modulation Networks</text>
<text transform="translate(969.2 172.8) rotate(-90)" fill="#1f93b5" stroke="#1f93b5" textLength="138.8" lengthAdjust="spacingAndGlyphs">#5 Research on Associated Headache Disorders</text>
</g>
<g font-size="5.6" font-weight="bold" fill="#ff10e8">
<text transform="translate(606.3 195) rotate(-90)" text-anchor="middle">2021</text>
<text transform="translate(606.3 226) rotate(-90)" text-anchor="middle">2020</text>
<text transform="translate(606.3 347.5) rotate(-90)" text-anchor="middle">2015</text>
<text transform="translate(606.3 469.5) rotate(-90)" text-anchor="middle">2010</text>
<text transform="translate(606.3 591.5) rotate(-90)" text-anchor="middle">2005</text>
<text transform="translate(606.3 713) rotate(-90)" text-anchor="middle">2000</text>
<text transform="translate(606.3 737.5) rotate(-90)" text-anchor="middle">1999</text>
</g>
<text transform="translate(699.5 305) rotate(-150.6)" font-size="7.4" font-weight="bold" fill="#b5222a" stroke="#b5222a" stroke-width="0.30" textLength="45.9" lengthAdjust="spacingAndGlyphs" dy="2.6">management</text>
<text transform="translate(697.5 355) rotate(-151.2)" font-size="7.5" font-weight="bold" fill="#b5222a" stroke="#b5222a" stroke-width="0.30" textLength="39.4" lengthAdjust="spacingAndGlyphs" dy="2.6">health care</text>
<text transform="translate(717 481) rotate(-150.5)" font-size="9.8" font-weight="bold" fill="#b5222a" stroke="#b5222a" stroke-width="0.39" textLength="83.3" lengthAdjust="spacingAndGlyphs" dy="3.4">episodic migraine</text>
<text transform="translate(696 499) rotate(-152.5)" font-size="7.6" font-weight="normal" fill="#b5222a" stroke="#b5222a" stroke-width="0.31" textLength="41.1" lengthAdjust="spacingAndGlyphs" dy="2.7">chronic pain</text>
<text transform="translate(710 530) rotate(-150.6)" font-size="7.9" font-weight="bold" fill="#b5222a" stroke="#b5222a" stroke-width="0.32" textLength="85.5" lengthAdjust="spacingAndGlyphs" dy="2.8">tension type headache</text>
<text transform="translate(692.5 530) rotate(-152.2)" font-size="7.9" font-weight="normal" fill="#b5222a" stroke="#b5222a" stroke-width="0.32" textLength="59.9" lengthAdjust="spacingAndGlyphs" dy="2.8">anxiety disorders</text>
<text transform="translate(710 552.5) rotate(-149.8)" font-size="8.8" font-weight="bold" fill="#b5222a" stroke="#b5222a" stroke-width="0.35" textLength="70.6" lengthAdjust="spacingAndGlyphs" dy="3.1">chronic migraine</text>
<text transform="translate(702.5 656) rotate(-150.3)" font-size="8.7" font-weight="bold" fill="#b5222a" stroke="#b5222a" stroke-width="0.35" textLength="93.8" lengthAdjust="spacingAndGlyphs" dy="3.1">clinical characteristics</text>
<text transform="translate(707 647.5) rotate(-150.2)" font-size="9" font-weight="bold" fill="#b5222a" stroke="#b5222a" stroke-width="0.36" textLength="55.3" lengthAdjust="spacingAndGlyphs" dy="3.1">united states</text>
<text transform="translate(677.5 650.6) rotate(-149.5)" font-size="8" font-weight="normal" fill="#b5222a" stroke="#b5222a" stroke-width="0.32" textLength="40.3" lengthAdjust="spacingAndGlyphs" dy="2.8">association</text>
<text transform="translate(692.3 670.4) rotate(-143.8)" font-size="7.8" font-weight="normal" fill="#b5222a" stroke="#b5222a" stroke-width="0.31" textLength="23" lengthAdjust="spacingAndGlyphs" dy="2.7">impact</text>
<text transform="translate(684.9 677.2) rotate(-149.5)" font-size="7.7" font-weight="normal" fill="#b5222a" stroke="#b5222a" stroke-width="0.31" textLength="31.7" lengthAdjust="spacingAndGlyphs" dy="2.7">dizziness</text>
<text transform="translate(707.2 697.8) rotate(-151.0)" font-size="9.7" font-weight="bold" fill="#b5222a" stroke="#b5222a" stroke-width="0.39" textLength="33" lengthAdjust="spacingAndGlyphs" dy="3.4">burden</text>
<text transform="translate(685 707.5) rotate(-150.5)" font-size="9" font-weight="bold" fill="#b5222a" stroke="#b5222a" stroke-width="0.36" textLength="56.9" lengthAdjust="spacingAndGlyphs" dy="3.1">classification</text>
<text transform="translate(687.5 700) rotate(-151.9)" font-size="8" font-weight="normal" fill="#b5222a" stroke="#b5222a" stroke-width="0.32" textLength="34" lengthAdjust="spacingAndGlyphs" dy="2.8">diagnosis</text>
<text transform="translate(711 724) rotate(-150.6)" font-size="8.4" font-weight="bold" fill="#b5222a" stroke="#b5222a" stroke-width="0.33" textLength="36.7" lengthAdjust="spacingAndGlyphs" dy="2.9">american</text>
<text transform="translate(697.5 748) rotate(-149.0)" font-size="10.7" font-weight="bold" fill="#b5222a" stroke="#b5222a" stroke-width="0.43" textLength="49.6" lengthAdjust="spacingAndGlyphs" dy="3.8">headache</text>
<text transform="translate(711 746) rotate(-150.5)" font-size="10.1" font-weight="bold" fill="#b5222a" stroke="#b5222a" stroke-width="0.40" textLength="52.8" lengthAdjust="spacingAndGlyphs" dy="3.5">prevalence</text>
<text transform="translate(680 749) rotate(-150.1)" font-size="9" font-weight="bold" fill="#b5222a" stroke="#b5222a" stroke-width="0.36" textLength="46.1" lengthAdjust="spacingAndGlyphs" dy="3.2">population</text>
<text transform="translate(771 359) rotate(-150.9)" font-size="7.5" font-weight="bold" fill="#b9861a" stroke="#b9861a" stroke-width="0.30" textLength="90.4" lengthAdjust="spacingAndGlyphs" dy="2.6">genome wide association</text>
<text transform="translate(785.5 657.5) rotate(-150.1)" font-size="9.3" font-weight="bold" fill="#b9861a" stroke="#b9861a" stroke-width="0.37" textLength="125.2" lengthAdjust="spacingAndGlyphs" dy="3.3">familial hemiplegic migraine</text>
<text transform="translate(756 656) rotate(-150.8)" font-size="8.9" font-weight="bold" fill="#b9861a" stroke="#b9861a" stroke-width="0.35" textLength="57.3" lengthAdjust="spacingAndGlyphs" dy="3.1">Ca2+ channel</text>
<text transform="translate(797.5 757.5) rotate(-150.0)" font-size="10.8" font-weight="bold" fill="#b9861a" stroke="#b9861a" stroke-width="0.43" textLength="153" lengthAdjust="spacingAndGlyphs" dy="3.8">cortical spreading depression</text>
<text transform="translate(759.5 752.5) rotate(-150.6)" font-size="10" font-weight="bold" fill="#b9861a" stroke="#b9861a" stroke-width="0.40" textLength="49.9" lengthAdjust="spacingAndGlyphs" dy="3.5">blood flow</text>
<text transform="translate(736 747) rotate(-152.8)" font-size="9.8" font-weight="bold" fill="#b9861a" stroke="#b9861a" stroke-width="0.39" textLength="20.8" lengthAdjust="spacingAndGlyphs" dy="3.4">aura</text>
<text transform="translate(819 256) rotate(-150.5)" font-size="7.2" font-weight="bold" fill="#8db81c" stroke="#8db81c" stroke-width="0.29" textLength="34.5" lengthAdjust="spacingAndGlyphs" dy="2.5">erenumab</text>
<text transform="translate(817 302) rotate(-148.6)" font-size="7.3" font-weight="bold" fill="#8db81c" stroke="#8db81c" stroke-width="0.29" textLength="21.1" lengthAdjust="spacingAndGlyphs" dy="2.6">safety</text>
<text transform="translate(832 361) rotate(-149.2)" font-size="7.2" font-weight="bold" fill="#8db81c" stroke="#8db81c" stroke-width="0.29" textLength="97.8" lengthAdjust="spacingAndGlyphs" dy="2.5">cognitive behavioral therapy</text>
<text transform="translate(830 410) rotate(-149.4)" font-size="7.2" font-weight="bold" fill="#8db81c" stroke="#8db81c" stroke-width="0.29" textLength="88.3" lengthAdjust="spacingAndGlyphs" dy="2.5">trigeminovascular system</text>
<text transform="translate(830 694) rotate(-151.0)" font-size="10" font-weight="bold" fill="#8db81c" stroke="#8db81c" stroke-width="0.40" textLength="37.2" lengthAdjust="spacingAndGlyphs" dy="3.5">efficacy</text>
<text transform="translate(839 721) rotate(-151.5)" font-size="11.3" font-weight="bold" fill="#8db81c" stroke="#8db81c" stroke-width="0.45" textLength="67.1" lengthAdjust="spacingAndGlyphs" dy="4">double blind</text>
<text transform="translate(826 729) rotate(-150.6)" font-size="10.3" font-weight="bold" fill="#8db81c" stroke="#8db81c" stroke-width="0.41" textLength="71.2" lengthAdjust="spacingAndGlyphs" dy="3.6">controlled trial</text>
<text transform="translate(809 729) rotate(-149.7)" font-size="10.3" font-weight="bold" fill="#8db81c" stroke="#8db81c" stroke-width="0.41" textLength="62.5" lengthAdjust="spacingAndGlyphs" dy="3.6">clinical trials</text>
<text transform="translate(887 356) rotate(-150.6)" font-size="7.1" font-weight="bold" fill="#27b62c" stroke="#27b62c" stroke-width="0.28" textLength="63.1" lengthAdjust="spacingAndGlyphs" dy="2.5">blood brain barrier</text>
<text transform="translate(872.5 677.5) rotate(-148.9)" font-size="7" font-weight="bold" fill="#27b62c" stroke="#27b62c" stroke-width="0.28" textLength="48.4" lengthAdjust="spacingAndGlyphs" dy="2.4">cerebral artery</text>
<text transform="translate(892.5 741) rotate(-154.7)" font-size="10.5" font-weight="bold" fill="#27b62c" stroke="#27b62c" stroke-width="0.42" textLength="30.4" lengthAdjust="spacingAndGlyphs" dy="3.7">CGRP</text>
<text transform="translate(870 755) rotate(-149.6)" font-size="8" font-weight="normal" fill="#27b62c" stroke="#27b62c" stroke-width="0.32" textLength="33.6" lengthAdjust="spacingAndGlyphs" dy="2.8">activation</text>
<text transform="translate(952 529) rotate(-148.7)" font-size="7.6" font-weight="bold" fill="#22a862" stroke="#22a862" stroke-width="0.30" textLength="73.1" lengthAdjust="spacingAndGlyphs" dy="2.7">cutaneous allodynia</text>
<text transform="translate(970 680) rotate(-149.0)" font-size="10.5" font-weight="bold" fill="#22a862" stroke="#22a862" stroke-width="0.42" textLength="105" lengthAdjust="spacingAndGlyphs" dy="3.7">brain stem activation</text>
<text transform="translate(1022.5 340) rotate(-149.5)" font-size="7.1" font-weight="bold" fill="#1f93b5" stroke="#1f93b5" stroke-width="0.28" textLength="120.1" lengthAdjust="spacingAndGlyphs" dy="2.5">idiopathic intracranial hypertension</text>
<text transform="translate(1028 559) rotate(-149.6)" font-size="8.5" font-weight="bold" fill="#1f93b5" stroke="#1f93b5" stroke-width="0.34" textLength="121.7" lengthAdjust="spacingAndGlyphs" dy="3">medication overuse headache</text>
<text transform="translate(1006 524) rotate(-148.2)" font-size="7.8" font-weight="bold" fill="#1f93b5" stroke="#1f93b5" stroke-width="0.31" textLength="34.1" lengthAdjust="spacingAndGlyphs" dy="2.7">follow up</text>
<text transform="translate(1006 656) rotate(-149.9)" font-size="7.2" font-weight="bold" fill="#1f93b5" stroke="#1f93b5" stroke-width="0.29" textLength="87.8" lengthAdjust="spacingAndGlyphs" dy="2.5">daily persistent headache</text>
<text transform="translate(1009 645) rotate(-152.3)" font-size="7.6" font-weight="bold" fill="#1f93b5" stroke="#1f93b5" stroke-width="0.30" textLength="44.1" lengthAdjust="spacingAndGlyphs" dy="2.7">adolescents</text>
<text transform="translate(984 652) rotate(-152.5)" font-size="7.2" font-weight="bold" fill="#1f93b5" stroke="#1f93b5" stroke-width="0.29" textLength="28.2" lengthAdjust="spacingAndGlyphs" dy="2.5">children</text>
<text transform="translate(1006 718) rotate(-150.5)" font-size="8.9" font-weight="normal" fill="#1f93b5" stroke="#1f93b5" stroke-width="0.35" textLength="34.5" lengthAdjust="spacingAndGlyphs" dy="3.1">reliability</text>
<text transform="translate(1020 746) rotate(-150.6)" font-size="9" font-weight="bold" fill="#1f93b5" stroke="#1f93b5" stroke-width="0.36" textLength="73.4" lengthAdjust="spacingAndGlyphs" dy="3.1">cluster headache</text>
<text transform="translate(1094.8 674) rotate(-90)" font-size="22.6" font-weight="bold" fill="#111" stroke="#111" stroke-width="0.45" textLength="526" lengthAdjust="spacingAndGlyphs">Top 25 Keywords with the Strongest Citation Bursts</text>
<g font-size="10.6" fill="#111" stroke="#111" stroke-width="0.2">
<text transform="translate(1126 572.5) rotate(-90)" font-weight="bold" textLength="51" lengthAdjust="spacingAndGlyphs">Keywords</text>
<text transform="translate(1126 471) rotate(-90)" font-weight="bold" textLength="20.5" lengthAdjust="spacingAndGlyphs">Year</text>
<text transform="translate(1126 448.7) rotate(-90)" font-weight="bold" textLength="45.5" lengthAdjust="spacingAndGlyphs">Strength</text>
<text transform="translate(1126 401.5) rotate(-90)" font-weight="bold" textLength="27" lengthAdjust="spacingAndGlyphs">Begin</text>
<text transform="translate(1126 367.5) rotate(-90)" font-weight="bold" textLength="18.3" lengthAdjust="spacingAndGlyphs">End</text>
<text transform="translate(1126 300.5) rotate(-90)" textLength="57.5" lengthAdjust="spacingAndGlyphs">1999 - 2021</text>
<text transform="translate(1141.6 620) rotate(-90)" textLength="58.7" lengthAdjust="spacingAndGlyphs">sumatriptan</text>
<text transform="translate(1141.6 470.5) rotate(-90)" textLength="20.8" lengthAdjust="spacingAndGlyphs">2000</text>
<text transform="translate(1141.6 421.6) rotate(-90)" textLength="19.2" lengthAdjust="spacingAndGlyphs">4.21</text>
<text transform="translate(1141.6 397.2) rotate(-90)" font-weight="bold" textLength="22" lengthAdjust="spacingAndGlyphs">2000</text>
<text transform="translate(1141.6 366.6) rotate(-90)" textLength="20.8" lengthAdjust="spacingAndGlyphs">2004</text>
<text transform="translate(1157.7 620) rotate(-90)" textLength="43" lengthAdjust="spacingAndGlyphs">reliability</text>
<text transform="translate(1157.7 470.5) rotate(-90)" textLength="20.8" lengthAdjust="spacingAndGlyphs">2000</text>
<text transform="translate(1157.7 421.6) rotate(-90)" textLength="19.2" lengthAdjust="spacingAndGlyphs">4.05</text>
<text transform="translate(1157.7 397.2) rotate(-90)" font-weight="bold" textLength="22" lengthAdjust="spacingAndGlyphs">2000</text>
<text transform="translate(1157.7 366.6) rotate(-90)" textLength="20.8" lengthAdjust="spacingAndGlyphs">2003</text>
<text transform="translate(1173.7 620) rotate(-90)" textLength="53.3" lengthAdjust="spacingAndGlyphs">population</text>
<text transform="translate(1173.7 470.5) rotate(-90)" textLength="20.8" lengthAdjust="spacingAndGlyphs">1999</text>
<text transform="translate(1173.7 421.6) rotate(-90)" textLength="19.2" lengthAdjust="spacingAndGlyphs">3.64</text>
<text transform="translate(1173.7 397.2) rotate(-90)" font-weight="bold" textLength="22" lengthAdjust="spacingAndGlyphs">2001</text>
<text transform="translate(1173.7 366.6) rotate(-90)" textLength="20.8" lengthAdjust="spacingAndGlyphs">2003</text>
<text transform="translate(1189.8 620) rotate(-90)" textLength="28.4" lengthAdjust="spacingAndGlyphs">nerve</text>
<text transform="translate(1189.8 470.5) rotate(-90)" textLength="20.8" lengthAdjust="spacingAndGlyphs">2002</text>
<text transform="translate(1189.8 421.6) rotate(-90)" textLength="19.2" lengthAdjust="spacingAndGlyphs">2.44</text>
<text transform="translate(1189.8 397.2) rotate(-90)" font-weight="bold" textLength="22" lengthAdjust="spacingAndGlyphs">2002</text>
<text transform="translate(1189.8 366.6) rotate(-90)" textLength="20.8" lengthAdjust="spacingAndGlyphs">2008</text>
<text transform="translate(1205.9 620) rotate(-90)" textLength="62.4" lengthAdjust="spacingAndGlyphs">united states</text>
<text transform="translate(1205.9 470.5) rotate(-90)" textLength="20.8" lengthAdjust="spacingAndGlyphs">2003</text>
<text transform="translate(1205.9 421.6) rotate(-90)" textLength="19.2" lengthAdjust="spacingAndGlyphs">3.33</text>
<text transform="translate(1205.9 397.2) rotate(-90)" font-weight="bold" textLength="22" lengthAdjust="spacingAndGlyphs">2003</text>
<text transform="translate(1205.9 366.6) rotate(-90)" textLength="20.8" lengthAdjust="spacingAndGlyphs">2008</text>
<text transform="translate(1221.9 620) rotate(-90)" textLength="21.3" lengthAdjust="spacingAndGlyphs">aura</text>
<text transform="translate(1221.9 470.5) rotate(-90)" textLength="20.8" lengthAdjust="spacingAndGlyphs">1999</text>
<text transform="translate(1221.9 421.6) rotate(-90)" textLength="19.2" lengthAdjust="spacingAndGlyphs">2.66</text>
<text transform="translate(1221.9 397.2) rotate(-90)" font-weight="bold" textLength="22" lengthAdjust="spacingAndGlyphs">2003</text>
<text transform="translate(1221.9 366.6) rotate(-90)" textLength="20.8" lengthAdjust="spacingAndGlyphs">2006</text>
<text transform="translate(1238 620) rotate(-90)" textLength="105" lengthAdjust="spacingAndGlyphs">clinical characteristics</text>
<text transform="translate(1238 470.5) rotate(-90)" textLength="20.8" lengthAdjust="spacingAndGlyphs">2003</text>
<text transform="translate(1238 421.6) rotate(-90)" textLength="13.7" lengthAdjust="spacingAndGlyphs">2.1</text>
<text transform="translate(1238 397.2) rotate(-90)" font-weight="bold" textLength="22" lengthAdjust="spacingAndGlyphs">2003</text>
<text transform="translate(1238 366.6) rotate(-90)" textLength="20.8" lengthAdjust="spacingAndGlyphs">2008</text>
<text transform="translate(1254.1 620) rotate(-90)" textLength="82.2" lengthAdjust="spacingAndGlyphs">cluster headache</text>
<text transform="translate(1254.1 470.5) rotate(-90)" textLength="20.8" lengthAdjust="spacingAndGlyphs">1999</text>
<text transform="translate(1254.1 421.6) rotate(-90)" textLength="19.2" lengthAdjust="spacingAndGlyphs">2.33</text>
<text transform="translate(1254.1 397.2) rotate(-90)" font-weight="bold" textLength="22" lengthAdjust="spacingAndGlyphs">2004</text>
<text transform="translate(1254.1 366.6) rotate(-90)" textLength="20.8" lengthAdjust="spacingAndGlyphs">2008</text>
<text transform="translate(1270.2 620) rotate(-90)" textLength="29.8" lengthAdjust="spacingAndGlyphs">stroke</text>
<text transform="translate(1270.2 470.5) rotate(-90)" textLength="20.8" lengthAdjust="spacingAndGlyphs">2005</text>
<text transform="translate(1270.2 421.6) rotate(-90)" textLength="19.2" lengthAdjust="spacingAndGlyphs">2.88</text>
<text transform="translate(1270.2 397.2) rotate(-90)" font-weight="bold" textLength="22" lengthAdjust="spacingAndGlyphs">2005</text>
<text transform="translate(1270.2 366.6) rotate(-90)" textLength="20.8" lengthAdjust="spacingAndGlyphs">2006</text>
<text transform="translate(1286.2 620) rotate(-90)" textLength="111" lengthAdjust="spacingAndGlyphs">chronic daily headache</text>
<text transform="translate(1286.2 470.5) rotate(-90)" textLength="20.8" lengthAdjust="spacingAndGlyphs">2004</text>
<text transform="translate(1286.2 421.6) rotate(-90)" textLength="19.2" lengthAdjust="spacingAndGlyphs">4.44</text>
<text transform="translate(1286.2 397.2) rotate(-90)" font-weight="bold" textLength="22" lengthAdjust="spacingAndGlyphs">2006</text>
<text transform="translate(1286.2 366.6) rotate(-90)" textLength="20.8" lengthAdjust="spacingAndGlyphs">2011</text>
<text transform="translate(1302.3 620) rotate(-90)" textLength="81.4" lengthAdjust="spacingAndGlyphs">chronic migraine</text>
<text transform="translate(1302.3 470.5) rotate(-90)" textLength="20.8" lengthAdjust="spacingAndGlyphs">2007</text>
<text transform="translate(1302.3 421.6) rotate(-90)" textLength="13.7" lengthAdjust="spacingAndGlyphs">4.1</text>
<text transform="translate(1302.3 397.2) rotate(-90)" font-weight="bold" textLength="22" lengthAdjust="spacingAndGlyphs">2007</text>
<text transform="translate(1302.3 366.6) rotate(-90)" textLength="20.8" lengthAdjust="spacingAndGlyphs">2012</text>
<text transform="translate(1318.4 620) rotate(-90)" textLength="109.7" lengthAdjust="spacingAndGlyphs">tension type headache</text>
<text transform="translate(1318.4 470.5) rotate(-90)" textLength="20.8" lengthAdjust="spacingAndGlyphs">2008</text>
<text transform="translate(1318.4 421.6) rotate(-90)" textLength="19.2" lengthAdjust="spacingAndGlyphs">2.29</text>
<text transform="translate(1318.4 397.2) rotate(-90)" font-weight="bold" textLength="22" lengthAdjust="spacingAndGlyphs">2008</text>
<text transform="translate(1318.4 366.6) rotate(-90)" textLength="20.8" lengthAdjust="spacingAndGlyphs">2012</text>
<text transform="translate(1334.4 620) rotate(-90)" textLength="97.3" lengthAdjust="spacingAndGlyphs">cutaneous allodynia</text>
<text transform="translate(1334.4 470.5) rotate(-90)" textLength="20.8" lengthAdjust="spacingAndGlyphs">2008</text>
<text transform="translate(1334.4 421.6) rotate(-90)" textLength="19.2" lengthAdjust="spacingAndGlyphs">2.09</text>
<text transform="translate(1334.4 397.2) rotate(-90)" font-weight="bold" textLength="22" lengthAdjust="spacingAndGlyphs">2008</text>
<text transform="translate(1334.4 366.6) rotate(-90)" textLength="20.8" lengthAdjust="spacingAndGlyphs">2011</text>
<text transform="translate(1350.5 620) rotate(-90)" textLength="46.3" lengthAdjust="spacingAndGlyphs">diagnosis</text>
<text transform="translate(1350.5 470.5) rotate(-90)" textLength="20.8" lengthAdjust="spacingAndGlyphs">2001</text>
<text transform="translate(1350.5 421.6) rotate(-90)" textLength="19.2" lengthAdjust="spacingAndGlyphs">2.92</text>
<text transform="translate(1350.5 397.2) rotate(-90)" font-weight="bold" textLength="22" lengthAdjust="spacingAndGlyphs">2010</text>
<text transform="translate(1350.5 366.6) rotate(-90)" textLength="20.8" lengthAdjust="spacingAndGlyphs">2013</text>
<text transform="translate(1366.6 620) rotate(-90)" textLength="123.3" lengthAdjust="spacingAndGlyphs">trigeminovascular system</text>
<text transform="translate(1366.6 470.5) rotate(-90)" textLength="20.8" lengthAdjust="spacingAndGlyphs">2013</text>
<text transform="translate(1366.6 421.6) rotate(-90)" textLength="19.2" lengthAdjust="spacingAndGlyphs">3.54</text>
<text transform="translate(1366.6 397.2) rotate(-90)" font-weight="bold" textLength="22" lengthAdjust="spacingAndGlyphs">2013</text>
<text transform="translate(1366.6 366.6) rotate(-90)" textLength="20.8" lengthAdjust="spacingAndGlyphs">2015</text>
<text transform="translate(1382.6 620) rotate(-90)" textLength="137.5" lengthAdjust="spacingAndGlyphs">familial hemiplegic migraine</text>
<text transform="translate(1382.6 470.5) rotate(-90)" textLength="20.8" lengthAdjust="spacingAndGlyphs">2003</text>
<text transform="translate(1382.6 421.6) rotate(-90)" textLength="19.2" lengthAdjust="spacingAndGlyphs">2.96</text>
<text transform="translate(1382.6 397.2) rotate(-90)" font-weight="bold" textLength="22" lengthAdjust="spacingAndGlyphs">2013</text>
<text transform="translate(1382.6 366.6) rotate(-90)" textLength="20.8" lengthAdjust="spacingAndGlyphs">2016</text>
<text transform="translate(1398.7 620) rotate(-90)" textLength="86.5" lengthAdjust="spacingAndGlyphs">episodic migraine</text>
<text transform="translate(1398.7 470.5) rotate(-90)" textLength="20.8" lengthAdjust="spacingAndGlyphs">2010</text>
<text transform="translate(1398.7 421.6) rotate(-90)" textLength="19.2" lengthAdjust="spacingAndGlyphs">6.43</text>
<text transform="translate(1398.7 397.2) rotate(-90)" font-weight="bold" textLength="22" lengthAdjust="spacingAndGlyphs">2014</text>
<text transform="translate(1398.7 366.6) rotate(-90)" textLength="20.8" lengthAdjust="spacingAndGlyphs">2021</text>
<text transform="translate(1414.8 620) rotate(-90)" textLength="61.6" lengthAdjust="spacingAndGlyphs">double blind</text>
<text transform="translate(1414.8 470.5) rotate(-90)" textLength="20.8" lengthAdjust="spacingAndGlyphs">2000</text>
<text transform="translate(1414.8 421.6) rotate(-90)" textLength="19.2" lengthAdjust="spacingAndGlyphs">2.46</text>
<text transform="translate(1414.8 397.2) rotate(-90)" font-weight="bold" textLength="22" lengthAdjust="spacingAndGlyphs">2015</text>
<text transform="translate(1414.8 366.6) rotate(-90)" textLength="20.8" lengthAdjust="spacingAndGlyphs">2021</text>
<text transform="translate(1430.9 620) rotate(-90)" textLength="143.2" lengthAdjust="spacingAndGlyphs">cortical spreading depression</text>
<text transform="translate(1430.9 470.5) rotate(-90)" textLength="20.8" lengthAdjust="spacingAndGlyphs">1999</text>
<text transform="translate(1430.9 421.6) rotate(-90)" textLength="19.2" lengthAdjust="spacingAndGlyphs">2.39</text>
<text transform="translate(1430.9 397.2) rotate(-90)" font-weight="bold" textLength="22" lengthAdjust="spacingAndGlyphs">2015</text>
<text transform="translate(1430.9 366.6) rotate(-90)" textLength="20.8" lengthAdjust="spacingAndGlyphs">2017</text>
<text transform="translate(1446.9 620) rotate(-90)" textLength="123.3" lengthAdjust="spacingAndGlyphs">genome wide association</text>
<text transform="translate(1446.9 470.5) rotate(-90)" textLength="20.8" lengthAdjust="spacingAndGlyphs">2015</text>
<text transform="translate(1446.9 421.6) rotate(-90)" textLength="19.2" lengthAdjust="spacingAndGlyphs">2.09</text>
<text transform="translate(1446.9 397.2) rotate(-90)" font-weight="bold" textLength="22" lengthAdjust="spacingAndGlyphs">2015</text>
<text transform="translate(1446.9 366.6) rotate(-90)" textLength="20.8" lengthAdjust="spacingAndGlyphs">2018</text>
<text transform="translate(1463 620) rotate(-90)" textLength="104" lengthAdjust="spacingAndGlyphs">monoclonal antibody</text>
<text transform="translate(1463 470.5) rotate(-90)" textLength="20.8" lengthAdjust="spacingAndGlyphs">2016</text>
<text transform="translate(1463 421.6) rotate(-90)" textLength="19.2" lengthAdjust="spacingAndGlyphs">2.24</text>
<text transform="translate(1463 397.2) rotate(-90)" font-weight="bold" textLength="22" lengthAdjust="spacingAndGlyphs">2016</text>
<text transform="translate(1463 366.6) rotate(-90)" textLength="20.8" lengthAdjust="spacingAndGlyphs">2018</text>
<text transform="translate(1479.1 620) rotate(-90)" textLength="145.4" lengthAdjust="spacingAndGlyphs">medication overuse headache</text>
<text transform="translate(1479.1 470.5) rotate(-90)" textLength="20.8" lengthAdjust="spacingAndGlyphs">2007</text>
<text transform="translate(1479.1 421.6) rotate(-90)" textLength="19.2" lengthAdjust="spacingAndGlyphs">2.11</text>
<text transform="translate(1479.1 397.2) rotate(-90)" font-weight="bold" textLength="22" lengthAdjust="spacingAndGlyphs">2016</text>
<text transform="translate(1479.1 366.6) rotate(-90)" textLength="20.8" lengthAdjust="spacingAndGlyphs">2018</text>
<text transform="translate(1495.1 620) rotate(-90)" textLength="27" lengthAdjust="spacingAndGlyphs">CGRP</text>
<text transform="translate(1495.1 470.5) rotate(-90)" textLength="20.8" lengthAdjust="spacingAndGlyphs">1999</text>
<text transform="translate(1495.1 421.6) rotate(-90)" textLength="19.2" lengthAdjust="spacingAndGlyphs">6.31</text>
<text transform="translate(1495.1 397.2) rotate(-90)" font-weight="bold" textLength="22" lengthAdjust="spacingAndGlyphs">2017</text>
<text transform="translate(1495.1 366.6) rotate(-90)" textLength="20.8" lengthAdjust="spacingAndGlyphs">2021</text>
<text transform="translate(1511.2 620) rotate(-90)" textLength="28.4" lengthAdjust="spacingAndGlyphs">safety</text>
<text transform="translate(1511.2 470.5) rotate(-90)" textLength="20.8" lengthAdjust="spacingAndGlyphs">2017</text>
<text transform="translate(1511.2 421.6) rotate(-90)" textLength="19.2" lengthAdjust="spacingAndGlyphs">3.11</text>
<text transform="translate(1511.2 397.2) rotate(-90)" font-weight="bold" textLength="22" lengthAdjust="spacingAndGlyphs">2017</text>
<text transform="translate(1511.2 366.6) rotate(-90)" textLength="20.8" lengthAdjust="spacingAndGlyphs">2021</text>
<text transform="translate(1527.3 620) rotate(-90)" textLength="36.3" lengthAdjust="spacingAndGlyphs">efficacy</text>
<text transform="translate(1527.3 470.5) rotate(-90)" textLength="20.8" lengthAdjust="spacingAndGlyphs">2001</text>
<text transform="translate(1527.3 421.6) rotate(-90)" textLength="19.2" lengthAdjust="spacingAndGlyphs">2.06</text>
<text transform="translate(1527.3 397.2) rotate(-90)" font-weight="bold" textLength="22" lengthAdjust="spacingAndGlyphs">2017</text>
<text transform="translate(1527.3 366.6) rotate(-90)" textLength="20.8" lengthAdjust="spacingAndGlyphs">2021</text>
</g>
<rect x="1140.6" y="335.3" width="2.8" height="6.1" fill="#c6eaea"/><rect x="1140.6" y="201.8" width="2.8" height="133.5" fill="#3fbfc0"/><rect x="1139.7" y="305" width="4.6" height="30.4" fill="#f20d0d"/><rect x="1156.7" y="335.3" width="2.8" height="6.1" fill="#c6eaea"/><rect x="1156.7" y="201.8" width="2.8" height="133.5" fill="#3fbfc0"/><rect x="1155.8" y="311" width="4.6" height="24.3" fill="#f20d0d"/><rect x="1172.8" y="201.8" width="2.8" height="139.6" fill="#3fbfc0"/><rect x="1171.9" y="311" width="4.6" height="18.2" fill="#f20d0d"/><rect x="1188.9" y="323.2" width="2.8" height="18.2" fill="#c6eaea"/><rect x="1188.9" y="201.8" width="2.8" height="121.4" fill="#3fbfc0"/><rect x="1188" y="280.7" width="4.6" height="42.5" fill="#f20d0d"/><rect x="1205" y="317.1" width="2.8" height="24.3" fill="#c6eaea"/><rect x="1205" y="201.8" width="2.8" height="115.3" fill="#3fbfc0"/><rect x="1204.1" y="280.7" width="4.6" height="36.4" fill="#f20d0d"/><rect x="1221.1" y="201.8" width="2.8" height="139.6" fill="#3fbfc0"/><rect x="1220.2" y="292.8" width="4.6" height="24.3" fill="#f20d0d"/><rect x="1237.2" y="317.1" width="2.8" height="24.3" fill="#c6eaea"/><rect x="1237.2" y="201.8" width="2.8" height="115.3" fill="#3fbfc0"/><rect x="1236.3" y="280.7" width="4.6" height="36.4" fill="#f20d0d"/><rect x="1253.3" y="201.8" width="2.8" height="139.6" fill="#3fbfc0"/><rect x="1252.4" y="280.7" width="4.6" height="30.3" fill="#f20d0d"/><rect x="1269.4" y="305" width="2.8" height="36.4" fill="#c6eaea"/><rect x="1269.4" y="201.8" width="2.8" height="103.2" fill="#3fbfc0"/><rect x="1268.5" y="292.8" width="4.6" height="12.1" fill="#f20d0d"/><rect x="1285.5" y="311" width="2.8" height="30.4" fill="#c6eaea"/><rect x="1285.5" y="201.8" width="2.8" height="109.3" fill="#3fbfc0"/><rect x="1284.6" y="262.5" width="4.6" height="36.4" fill="#f20d0d"/><rect x="1301.6" y="292.8" width="2.8" height="48.6" fill="#c6eaea"/><rect x="1301.6" y="201.8" width="2.8" height="91.1" fill="#3fbfc0"/><rect x="1300.7" y="256.4" width="4.6" height="36.4" fill="#f20d0d"/><rect x="1317.7" y="286.8" width="2.8" height="54.6" fill="#c6eaea"/><rect x="1317.7" y="201.8" width="2.8" height="85" fill="#3fbfc0"/><rect x="1316.8" y="256.4" width="4.6" height="30.4" fill="#f20d0d"/><rect x="1333.8" y="286.8" width="2.8" height="54.6" fill="#c6eaea"/><rect x="1333.8" y="201.8" width="2.8" height="85" fill="#3fbfc0"/><rect x="1332.9" y="262.5" width="4.6" height="24.3" fill="#f20d0d"/><rect x="1349.9" y="329.3" width="2.8" height="12.1" fill="#c6eaea"/><rect x="1349.9" y="201.8" width="2.8" height="127.5" fill="#3fbfc0"/><rect x="1349" y="250.3" width="4.6" height="24.3" fill="#f20d0d"/><rect x="1366" y="256.4" width="2.8" height="85" fill="#c6eaea"/><rect x="1366" y="201.8" width="2.8" height="54.6" fill="#3fbfc0"/><rect x="1365.1" y="238.2" width="4.6" height="18.2" fill="#f20d0d"/><rect x="1382.1" y="317.1" width="2.8" height="24.3" fill="#c6eaea"/><rect x="1382.1" y="201.8" width="2.8" height="115.3" fill="#3fbfc0"/><rect x="1381.2" y="232.1" width="4.6" height="24.3" fill="#f20d0d"/><rect x="1398.2" y="274.6" width="2.8" height="66.8" fill="#c6eaea"/><rect x="1398.2" y="201.8" width="2.8" height="72.8" fill="#3fbfc0"/><rect x="1397.3" y="201.8" width="4.6" height="48.6" fill="#f20d0d"/><rect x="1414.3" y="335.3" width="2.8" height="6.1" fill="#c6eaea"/><rect x="1414.3" y="201.8" width="2.8" height="133.5" fill="#3fbfc0"/><rect x="1413.4" y="201.8" width="4.6" height="42.5" fill="#f20d0d"/><rect x="1430.4" y="201.8" width="2.8" height="139.6" fill="#3fbfc0"/><rect x="1429.5" y="226.1" width="4.6" height="18.2" fill="#f20d0d"/><rect x="1446.5" y="244.3" width="2.8" height="97.1" fill="#c6eaea"/><rect x="1446.5" y="201.8" width="2.8" height="42.5" fill="#3fbfc0"/><rect x="1445.6" y="220" width="4.6" height="24.3" fill="#f20d0d"/><rect x="1462.6" y="238.2" width="2.8" height="103.2" fill="#c6eaea"/><rect x="1462.6" y="201.8" width="2.8" height="36.4" fill="#3fbfc0"/><rect x="1461.7" y="220" width="4.6" height="18.2" fill="#f20d0d"/><rect x="1478.7" y="292.8" width="2.8" height="48.6" fill="#c6eaea"/><rect x="1478.7" y="201.8" width="2.8" height="91.1" fill="#3fbfc0"/><rect x="1477.8" y="220" width="4.6" height="18.2" fill="#f20d0d"/><rect x="1494.8" y="201.8" width="2.8" height="139.6" fill="#3fbfc0"/><rect x="1493.9" y="201.8" width="4.6" height="30.4" fill="#f20d0d"/><rect x="1510.9" y="232.1" width="2.8" height="109.3" fill="#c6eaea"/><rect x="1510.9" y="201.8" width="2.8" height="30.4" fill="#3fbfc0"/><rect x="1510" y="201.8" width="4.6" height="30.4" fill="#f20d0d"/><rect x="1527" y="329.3" width="2.8" height="12.1" fill="#c6eaea"/><rect x="1527" y="201.8" width="2.8" height="127.5" fill="#3fbfc0"/><rect x="1526.1" y="201.8" width="4.6" height="30.4" fill="#f20d0d"/>
</svg></body></html>
